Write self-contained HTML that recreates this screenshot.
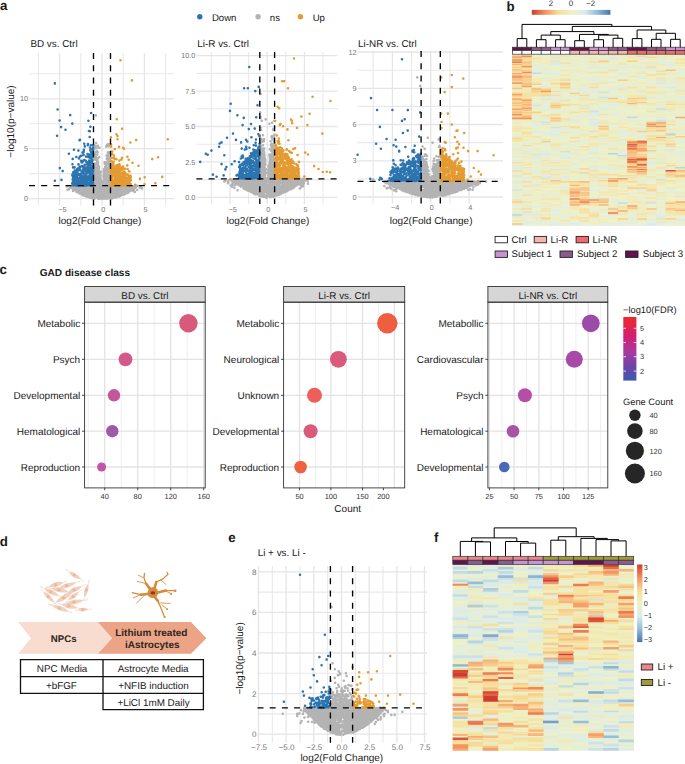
<!DOCTYPE html>
<html><head><meta charset="utf-8"><style>
html,body{margin:0;padding:0;background:#fff;width:685px;height:764px;overflow:hidden}
svg{display:block;font-family:"Liberation Sans", sans-serif;text-rendering:geometricPrecision}
</style></head><body>
<svg width="685" height="764" viewBox="0 0 685 764">
<line x1="38.4" y1="53.1" x2="38.4" y2="205.5" stroke="#e9e9e9" stroke-width="1.1"/>
<line x1="80.8" y1="53.1" x2="80.8" y2="205.5" stroke="#e9e9e9" stroke-width="1.1"/>
<line x1="123.2" y1="53.1" x2="123.2" y2="205.5" stroke="#e9e9e9" stroke-width="1.1"/>
<line x1="165.6" y1="53.1" x2="165.6" y2="205.5" stroke="#e9e9e9" stroke-width="1.1"/>
<line x1="29" y1="173.6" x2="174" y2="173.6" stroke="#e9e9e9" stroke-width="1.1"/>
<line x1="29" y1="123.7" x2="174" y2="123.7" stroke="#e9e9e9" stroke-width="1.1"/>
<line x1="29" y1="73.8" x2="174" y2="73.8" stroke="#e9e9e9" stroke-width="1.1"/>
<line x1="59.6" y1="53.1" x2="59.6" y2="205.5" stroke="#e5e5e5" stroke-width="1.3"/>
<line x1="102" y1="53.1" x2="102" y2="205.5" stroke="#e5e5e5" stroke-width="1.3"/>
<line x1="144.4" y1="53.1" x2="144.4" y2="205.5" stroke="#e5e5e5" stroke-width="1.3"/>
<line x1="29" y1="198.6" x2="174" y2="198.6" stroke="#e5e5e5" stroke-width="1.3"/>
<line x1="29" y1="148.7" x2="174" y2="148.7" stroke="#e5e5e5" stroke-width="1.3"/>
<line x1="29" y1="98.8" x2="174" y2="98.8" stroke="#e5e5e5" stroke-width="1.3"/>
<text x="28" y="201.2" font-size="7.3" text-anchor="end" fill="#777">0</text>
<text x="28" y="151.3" font-size="7.3" text-anchor="end" fill="#777">5</text>
<text x="28" y="101.4" font-size="7.3" text-anchor="end" fill="#777">10</text>
<text x="62.3" y="211.8" font-size="7.3" text-anchor="middle" fill="#777">−5</text>
<text x="103.2" y="211.8" font-size="7.3" text-anchor="middle" fill="#777">0</text>
<text x="145.6" y="211.8" font-size="7.3" text-anchor="middle" fill="#777">5</text>
<path d="M134.7 186.3h0M89.4 187.2h0M73.7 186.5h0M89.3 194.3h0M84.7 190.9h0M137.5 185.8h0M79.7 193.5h0M82.6 190.8h0M126.6 189.5h0M91.2 198.0h0M77.4 191.1h0M101.6 187.9h0M90.5 187.1h0M133.2 187.0h0M107.3 191.7h0M133.9 187.8h0M105.7 193.8h0M94.7 188.0h0M69.5 186.0h0M126.9 188.1h0M84.8 193.7h0M96.9 186.1h0M77.9 190.7h0M127.6 192.0h0M136.0 185.8h0M109.6 196.2h0M124.2 193.1h0M85.8 194.0h0M72.2 187.4h0M116.4 188.6h0M87.0 196.6h0M82.3 186.8h0M80.3 188.3h0M82.4 187.9h0M109.9 186.5h0M75.6 186.7h0M85.5 187.6h0M79.2 187.3h0M129.6 190.5h0M87.3 195.0h0M70.3 186.4h0M90.3 186.2h0M120.0 186.9h0M71.0 187.8h0M82.4 186.1h0M126.6 185.9h0M86.2 194.5h0M92.4 186.7h0M126.8 192.0h0M129.7 191.1h0M131.9 186.2h0M135.2 188.0h0M100.5 195.7h0M93.3 191.2h0M80.3 192.8h0M103.6 194.9h0M123.7 187.4h0M104.7 188.3h0M133.4 189.2h0M88.8 196.2h0M131.7 189.0h0M131.7 189.9h0M78.2 188.4h0M100.2 190.3h0M81.1 186.1h0M91.0 192.4h0M107.7 193.9h0M78.2 186.9h0M87.0 190.9h0M91.2 194.0h0M97.5 188.9h0M115.6 196.8h0M109.0 197.0h0M97.6 186.9h0M89.2 187.6h0M111.3 192.9h0M118.3 188.9h0M128.0 190.2h0M90.5 191.3h0M74.3 187.4h0M131.1 188.8h0M111.2 188.7h0M129.4 189.2h0M85.5 196.1h0M123.8 191.3h0M135.3 187.1h0M75.4 185.7h0M76.8 186.8h0M108.7 197.6h0M120.7 188.3h0M106.1 192.7h0M88.9 193.8h0M121.0 195.5h0M99.8 192.3h0M93.7 187.4h0M93.5 189.9h0M82.2 192.4h0M74.6 186.3h0M95.3 197.3h0M135.9 187.1h0M112.1 191.9h0M80.0 193.5h0M84.1 186.9h0M115.7 195.7h0M116.7 186.4h0M82.6 194.4h0M124.9 187.3h0M78.0 191.4h0M130.9 190.7h0M103.3 186.2h0M85.8 188.7h0M124.3 186.2h0M84.5 189.5h0M106.4 191.1h0M84.4 188.2h0M124.2 187.4h0M127.0 190.2h0M119.0 188.5h0M84.0 188.1h0M127.7 188.0h0M119.8 194.5h0M89.6 192.5h0M117.5 192.0h0M80.6 186.1h0M118.3 193.9h0M122.3 188.7h0M72.5 188.0h0M92.9 193.1h0M132.6 187.9h0M121.1 192.1h0M111.9 194.4h0M132.3 188.1h0M83.7 190.5h0M112.0 186.1h0M111.7 196.7h0M75.2 188.4h0M69.9 187.0h0M94.2 192.5h0M84.3 194.3h0M74.5 189.7h0M119.3 192.0h0M88.9 197.2h0M135.2 185.7h0M128.6 189.6h0M84.6 186.4h0M71.6 186.5h0M119.2 196.6h0M113.6 196.3h0M128.4 191.1h0M108.9 188.1h0M79.2 190.0h0M115.3 188.6h0M128.7 189.8h0M76.3 190.1h0M90.4 195.8h0M84.1 193.7h0M122.7 194.7h0M106.1 191.0h0M133.8 189.1h0M118.0 188.4h0M90.6 187.9h0M99.4 193.8h0M97.5 191.4h0M125.0 188.7h0M80.9 187.8h0M80.5 190.0h0M90.4 193.4h0M73.8 186.0h0M91.1 195.9h0M93.1 192.4h0M106.3 196.7h0M95.1 194.1h0M78.2 189.3h0M95.2 195.0h0M92.3 196.7h0M87.5 190.4h0M99.8 194.6h0M114.0 193.0h0M119.3 186.9h0M116.0 188.8h0M95.2 193.0h0M121.6 194.5h0M107.8 197.7h0M126.0 193.3h0M121.1 190.2h0M128.1 185.6h0M74.0 188.3h0M118.2 186.3h0M86.9 188.4h0M84.6 192.1h0M95.1 198.0h0M124.5 188.6h0M88.6 189.9h0M96.5 189.6h0M115.5 190.0h0M86.0 190.3h0M110.0 189.5h0M69.7 186.6h0M92.9 185.7h0M104.8 192.1h0M101.6 198.6h0M106.5 196.3h0M98.0 198.6h0M120.3 194.1h0M102.9 195.8h0M134.7 186.7h0M100.2 197.4h0M107.7 196.8h0M116.9 193.5h0M120.9 194.2h0M72.9 185.7h0M82.8 195.3h0M92.9 189.3h0M125.0 193.9h0M122.6 191.2h0M85.9 187.4h0M129.7 188.3h0M73.8 190.1h0M78.3 192.6h0M100.7 191.8h0M110.8 186.8h0M76.6 189.9h0M98.1 195.5h0M107.5 190.0h0M111.0 186.0h0M123.2 193.3h0M101.0 195.5h0M115.2 192.9h0M115.9 186.9h0M104.1 195.0h0M103.2 196.9h0M97.3 192.7h0M116.3 196.2h0M81.7 189.1h0M74.9 190.0h0M121.4 191.1h0M119.4 186.3h0M104.2 185.7h0M106.4 192.3h0M81.5 193.1h0M102.6 194.1h0M108.5 187.3h0M75.7 188.8h0M130.1 186.5h0M80.3 188.8h0M130.6 187.6h0M86.6 190.3h0M121.5 187.5h0M78.9 186.3h0M110.3 192.4h0M81.3 191.8h0M130.7 190.9h0M86.6 185.7h0M123.2 186.1h0M88.5 195.9h0M111.3 198.4h0M125.6 188.4h0M104.9 197.8h0M99.0 192.3h0M91.6 186.9h0M110.7 193.3h0M129.3 186.0h0M117.3 196.4h0M85.7 192.6h0M90.0 194.9h0M120.6 189.3h0M109.3 186.1h0M131.7 187.4h0M116.5 189.1h0M82.7 188.7h0M98.5 188.4h0M106.9 190.1h0M117.9 196.1h0M105.6 188.7h0M83.0 193.3h0M97.9 190.2h0M109.4 191.1h0M109.1 194.9h0M112.7 193.6h0M100.4 189.7h0M127.9 189.5h0M128.7 186.8h0M87.1 192.2h0M128.2 187.9h0M86.3 186.2h0M89.2 185.8h0M91.8 186.4h0M96.6 194.3h0M110.2 198.1h0M116.9 195.1h0M122.1 190.3h0M77.8 185.7h0M96.7 196.3h0M83.6 188.9h0M125.5 191.2h0M93.2 198.4h0M106.2 194.1h0M78.9 188.1h0M93.3 186.1h0M76.6 188.6h0M91.6 197.4h0M96.6 188.2h0M112.7 187.4h0M116.4 197.2h0M83.6 192.3h0M97.6 194.8h0M71.7 186.0h0M124.4 192.6h0M93.0 188.3h0M133.2 186.4h0M113.9 194.8h0M86.2 196.5h0M93.1 195.0h0M113.6 189.3h0M124.9 192.0h0M120.4 195.9h0M92.8 198.3h0M115.4 191.2h0M98.8 187.0h0M94.1 190.0h0M130.6 187.5h0M91.8 191.7h0M118.6 191.8h0M73.2 188.9h0M97.1 191.1h0M108.3 196.1h0M116.0 194.7h0M119.4 190.1h0M84.5 195.4h0M102.8 194.7h0M100.9 192.4h0M117.4 186.8h0M127.7 191.3h0M117.7 189.2h0M117.1 190.5h0M114.8 191.5h0M97.5 193.1h0M113.6 194.5h0M114.5 188.3h0M81.0 192.0h0M107.0 186.1h0M91.3 188.6h0M94.9 188.8h0M86.7 196.2h0M122.7 187.7h0M105.0 187.0h0M110.1 190.8h0M97.8 197.2h0M100.9 185.7h0M117.7 194.4h0M116.1 187.3h0M108.4 195.3h0M96.2 197.5h0M92.6 191.7h0M83.6 195.5h0M106.0 197.4h0M116.7 191.6h0M97.2 196.6h0M122.8 189.2h0M87.9 194.3h0M122.0 192.0h0M97.3 190.6h0M115.5 186.4h0M122.7 191.8h0M114.7 195.6h0M103.7 192.6h0M105.2 195.1h0M83.6 186.4h0M118.8 196.1h0M99.0 195.6h0M102.8 189.3h0M119.3 190.1h0M122.2 185.9h0M88.2 187.3h0M128.9 185.7h0M107.4 192.4h0M97.7 192.7h0M100.5 186.7h0M123.5 192.2h0M100.9 189.5h0M126.2 186.9h0M93.5 188.7h0M90.1 197.6h0M91.5 190.7h0M121.5 193.8h0M131.4 186.4h0M78.8 192.3h0M125.9 190.5h0M89.9 190.1h0M114.0 193.4h0M113.5 192.6h0M112.4 189.2h0M103.6 197.6h0M105.7 187.1h0M113.5 189.8h0M95.1 186.2h0M79.4 191.6h0M111.9 193.0h0M119.6 187.6h0M99.0 190.0h0M121.3 186.2h0M81.5 190.5h0M116.8 193.0h0M96.0 191.0h0M118.1 191.7h0M88.1 194.1h0M101.6 186.5h0M91.2 189.5h0M92.6 190.0h0M111.1 194.4h0M107.6 198.6h0M119.4 191.7h0M102.4 197.1h0M94.9 191.9h0M124.5 189.0h0M105.2 196.1h0M111.8 195.3h0M84.4 190.8h0M119.0 195.1h0M98.9 197.9h0M81.9 194.6h0M121.7 193.7h0M87.3 186.8h0M120.0 192.2h0M102.6 198.4h0M101.8 191.1h0M114.9 185.8h0M122.6 186.5h0M110.6 191.2h0M95.2 193.2h0M96.1 195.3h0M124.5 194.5h0M127.5 193.1h0M83.6 191.0h0M76.6 192.0h0M104.5 191.3h0M76.7 186.2h0M103.9 198.6h0M101.9 192.0h0M109.6 186.3h0M127.9 186.5h0M95.8 188.1h0M98.2 197.8h0M102.3 186.5h0M103.5 193.8h0M109.3 189.7h0M93.8 194.1h0M98.7 185.7h0M126.0 191.0h0M80.1 187.0h0M107.2 194.4h0M110.5 194.3h0M100.2 193.9h0M85.5 191.4h0M112.6 187.8h0M93.0 197.3h0M89.4 191.1h0M96.2 190.4h0M87.8 191.1h0M86.6 193.6h0M108.4 192.2h0M113.3 196.7h0M88.3 192.1h0M106.9 186.6h0M87.2 189.1h0M76.8 189.4h0M93.3 195.9h0M103.2 190.8h0M120.4 188.7h0M110.6 195.5h0M105.7 198.5h0M75.4 188.6h0M92.4 194.6h0M96.3 187.4h0M107.4 194.6h0M88.0 187.7h0M114.1 197.1h0M72.8 189.0h0M100.8 190.0h0M123.4 190.7h0M124.7 190.3h0M117.5 193.2h0M101.6 193.3h0M90.1 196.6h0M122.1 188.4h0M92.1 188.5h0M81.3 187.1h0M102.4 195.6h0M89.7 192.2h0M99.1 191.2h0M80.3 191.8h0M82.2 190.9h0M100.5 187.7h0M105.8 186.4h0M98.4 187.7h0M103.9 189.7h0M102.3 185.8h0M88.2 197.0h0M114.5 189.4h0M112.7 190.2h0M113.7 186.3h0M101.5 198.2h0M99.6 185.9h0M112.9 187.7h0M115.3 197.6h0M79.2 188.9h0M98.7 198.7h0M92.6 192.8h0M90.4 189.6h0M94.1 196.1h0M110.5 193.1h0M113.2 194.0h0M100.2 197.9h0M88.1 186.4h0M103.3 187.1h0M94.4 196.5h0M115.2 193.7h0M109.0 190.1h0M99.3 194.6h0M106.4 197.8h0M95.4 186.0h0M97.2 193.1h0M109.7 188.2h0M104.0 193.7h0M103.1 191.4h0M100.9 197.1h0M99.1 196.6h0M110.0 197.3h0M113.9 186.6h0M94.6 198.6h0M95.6 187.2h0M107.8 188.7h0M113.0 197.8h0M112.8 191.5h0M111.1 188.6h0M94.9 186.8h0M105.6 190.6h0M117.2 190.1h0M111.1 190.2h0M87.6 189.0h0M108.3 186.3h0M125.1 186.0h0M88.9 189.3h0M128.3 192.5h0M104.9 195.9h0M106.7 188.7h0M102.8 188.4h0M114.4 190.7h0M76.4 191.8h0M92.1 195.5h0M112.2 198.3h0M111.4 197.2h0M91.4 195.1h0M106.8 187.8h0M104.5 197.0h0M108.0 188.3h0M104.5 190.7h0M84.0 195.2h0M84.4 186.6h0M124.9 194.2h0M112.9 186.8h0M119.6 196.4h0M103.1 187.7h0M107.2 198.6h0M107.6 186.7h0M102.0 190.5h0M119.3 186.4h0M99.8 198.6h0M69.7 188.1h0M137.2 190.0h0M134.8 191.9h0M66.7 186.5h0M140.5 187.0h0M142.1 188.4h0M67.5 189.7h0M134.0 190.1h0M73.1 190.9h0M139.8 187.7h0M68.7 189.5h0M133.5 191.1h0M140.1 187.4h0M67.1 186.1h0M105.2 168.7h0M97.2 182.6h0M109.0 165.6h0M94.2 176.9h0M100.0 183.0h0M95.4 179.6h0M107.7 180.3h0M109.1 179.2h0M105.4 179.8h0M93.8 165.6h0M99.2 157.1h0M107.3 175.5h0M106.9 171.3h0M96.2 184.2h0M107.0 182.3h0M109.7 181.4h0M93.8 184.2h0M96.1 143.1h0M99.0 168.8h0M108.3 161.3h0M105.6 175.3h0M109.7 163.0h0M95.1 168.9h0M99.0 167.0h0M99.2 173.5h0M110.4 157.9h0M103.4 182.1h0M107.7 181.7h0M109.7 145.3h0M96.1 170.0h0M110.1 166.9h0M102.8 183.8h0M109.9 182.5h0M99.4 177.3h0M104.6 181.3h0M109.7 179.5h0M100.7 183.2h0M109.0 179.9h0M95.6 181.7h0M104.7 174.5h0M107.8 152.2h0M106.8 181.4h0M108.3 182.2h0M94.3 165.8h0M99.1 175.4h0M109.6 159.7h0M102.7 181.4h0M106.5 155.8h0M99.1 179.2h0M100.5 171.5h0M108.6 178.5h0M108.1 185.3h0M109.1 177.6h0M106.8 180.3h0M105.9 184.1h0M105.8 180.2h0M94.7 170.2h0M100.8 181.2h0M96.2 177.0h0M94.3 172.4h0M93.9 171.4h0M110.0 171.1h0M94.3 180.0h0M109.4 181.3h0M104.6 185.1h0M99.2 185.0h0M109.8 183.8h0M95.8 180.4h0M104.9 184.2h0M94.7 173.5h0M107.0 163.3h0M97.6 165.4h0M104.6 170.9h0M108.9 182.1h0M96.7 177.6h0M97.9 185.0h0M94.8 184.7h0M95.6 166.5h0M106.0 184.5h0M105.1 177.0h0M109.9 175.6h0M98.3 182.2h0M108.7 174.6h0M97.0 167.8h0M99.7 179.2h0M97.4 177.1h0M102.5 184.3h0M95.6 168.4h0M107.2 158.0h0M97.5 180.2h0M106.0 182.7h0M95.1 153.9h0M102.9 185.3h0M107.9 174.4h0M107.8 152.4h0M100.8 182.1h0M104.7 163.8h0M108.6 163.9h0M106.8 176.8h0M97.7 176.3h0M99.8 174.8h0M96.9 185.0h0M97.7 172.9h0M106.8 169.7h0M106.8 183.7h0M103.6 184.0h0M107.8 168.3h0M100.3 177.6h0M94.1 183.4h0M105.9 162.2h0M110.1 178.5h0M108.6 157.6h0M103.6 174.5h0M94.1 182.1h0M109.3 176.2h0M97.7 158.2h0M97.7 183.8h0M98.6 180.5h0M100.8 179.2h0M109.3 158.4h0M109.4 183.6h0M107.0 174.8h0M110.3 180.3h0M100.3 183.2h0M98.8 181.2h0M108.8 184.4h0M93.7 145.4h0M106.1 178.4h0M103.9 169.4h0M95.8 151.8h0M104.9 179.0h0M107.9 179.8h0M95.5 173.9h0M103.9 180.4h0M94.4 174.6h0M109.5 174.2h0M99.9 178.0h0M105.7 166.0h0M97.6 181.4h0M96.7 179.5h0M96.7 183.8h0M95.6 178.2h0M97.2 154.6h0M106.6 179.3h0M106.1 164.5h0M107.6 174.2h0M94.6 145.5h0M108.0 177.5h0M95.4 164.2h0M93.9 184.4h0M97.2 160.7h0M106.0 176.2h0M96.7 180.5h0M95.8 182.1h0M93.8 179.2h0M108.3 159.4h0M96.3 182.0h0M99.0 182.5h0M95.6 154.5h0M94.0 174.1h0M96.5 165.8h0M98.3 170.5h0M109.0 152.8h0M109.4 170.0h0M97.4 159.2h0M109.7 172.4h0M104.9 178.1h0M96.4 176.5h0M95.9 175.8h0M107.6 163.1h0M93.6 183.0h0M94.0 148.7h0M105.7 173.9h0M110.0 184.6h0M100.9 184.6h0M106.2 175.6h0M94.9 178.5h0M95.9 171.7h0M97.1 177.8h0M110.1 160.4h0M96.3 174.9h0M98.3 174.5h0M104.5 162.3h0M106.2 146.4h0M94.8 181.2h0M107.1 174.1h0M94.4 176.1h0M93.7 146.4h0M104.7 172.6h0M107.8 168.9h0M95.4 184.3h0M107.2 184.4h0M108.6 144.1h0M97.0 167.2h0M106.9 167.6h0M104.4 176.7h0M93.9 157.7h0M108.6 173.1h0M94.7 172.0h0M103.7 171.0h0M97.9 173.3h0M96.9 170.1h0M97.2 172.3h0M109.9 170.8h0M97.0 151.4h0M105.1 169.5h0M103.5 176.6h0M109.5 166.4h0M94.8 158.5h0M100.3 181.8h0M95.7 156.4h0M94.4 168.4h0M108.9 145.3h0M95.1 159.4h0M95.9 169.5h0M97.6 185.5h0M97.0 163.9h0M108.2 183.5h0M110.0 152.2h0M100.0 176.3h0M104.3 173.3h0M98.9 184.0h0M98.9 172.7h0M103.8 178.3h0M104.8 180.3h0M95.2 159.8h0M98.1 147.5h0M94.3 165.2h0M99.9 184.5h0M109.4 174.2h0M97.8 163.9h0M105.8 163.3h0M104.7 175.8h0M97.0 168.9h0M107.6 164.7h0M108.0 160.3h0M100.6 172.5h0M103.7 172.0h0M110.3 163.5h0M105.0 167.0h0M107.9 158.9h0M107.9 154.5h0M108.2 155.5h0M98.1 162.9h0M106.8 164.1h0M94.0 180.8h0M109.9 175.2h0M109.4 164.5h0M105.5 171.8h0M98.9 175.5h0M94.7 163.5h0M108.7 167.9h0M108.4 146.5h0M97.7 152.3h0M108.7 171.4h0M105.1 172.5h0M95.4 165.2h0M98.2 178.4h0M109.9 177.2h0M108.3 170.4h0M94.3 179.3h0M106.8 159.1h0M100.3 180.9h0M98.0 167.5h0M96.9 162.3h0M109.4 162.6h0M95.5 146.1h0M93.7 170.0h0M100.7 175.6h0M109.0 167.2h0M93.8 181.3h0M106.7 170.5h0M96.9 158.0h0M93.9 175.4h0M97.6 161.1h0M95.9 148.2h0M106.9 168.6h0M98.3 179.1h0M107.0 178.7h0M98.9 166.2h0M105.8 181.3h0M95.8 115.4h0M97.8 145.7h0M107.1 144.7h0M99.5 147.7h0" stroke="#b3b3b3" stroke-width="2.6" stroke-linecap="round" fill="none"/>
<path d="M83.4 168.6h0M91.1 152.0h0M85.2 182.2h0M72.9 180.8h0M93.1 182.7h0M72.5 164.2h0M79.3 174.9h0M87.7 183.9h0M83.6 181.6h0M74.5 184.7h0M82.5 172.6h0M83.4 160.6h0M90.9 168.5h0M73.3 184.6h0M86.4 168.3h0M92.7 174.5h0M90.8 154.2h0M83.8 173.3h0M83.3 179.3h0M77.7 177.6h0M74.9 173.7h0M84.0 167.3h0M88.7 172.4h0M90.0 147.5h0M90.6 179.1h0M91.0 174.3h0M85.4 184.4h0M83.1 170.1h0M92.1 170.1h0M82.7 170.9h0M73.3 183.8h0M91.8 171.2h0M92.6 160.2h0M81.9 178.5h0M84.2 184.5h0M88.2 176.7h0M92.0 180.1h0M89.9 131.2h0M79.3 184.7h0M76.3 157.0h0M80.9 176.2h0M92.1 161.2h0M89.4 164.0h0M76.7 181.9h0M88.8 184.4h0M86.1 178.3h0M92.1 173.5h0M83.1 185.4h0M82.8 176.5h0M74.0 173.4h0M87.9 167.8h0M74.6 180.1h0M89.9 182.3h0M81.3 155.8h0M83.4 178.1h0M78.0 180.1h0M88.4 161.8h0M89.9 185.2h0M83.7 184.9h0M79.4 168.0h0M86.7 176.4h0M77.6 178.4h0M87.9 169.3h0M92.4 153.6h0M87.0 178.4h0M86.9 167.7h0M73.3 182.1h0M77.3 178.6h0M86.7 184.9h0M83.0 180.0h0M92.7 181.9h0M73.4 185.4h0M89.6 157.6h0M79.0 169.2h0M92.1 162.9h0M92.1 166.2h0M82.4 185.4h0M90.2 164.8h0M90.4 181.8h0M90.9 172.2h0M92.6 185.4h0M84.3 183.7h0M80.2 170.0h0M84.8 146.4h0M75.2 172.2h0M83.2 171.7h0M74.9 175.3h0M77.5 183.1h0M86.1 156.6h0M89.7 170.4h0M72.9 176.6h0M90.4 162.4h0M87.9 171.1h0M91.6 174.9h0M81.6 176.6h0M85.8 160.8h0M84.8 164.7h0M85.2 173.5h0M83.8 175.8h0M82.3 162.5h0M75.2 181.4h0M81.6 162.2h0M88.4 184.9h0M78.4 174.4h0M86.1 181.1h0M73.1 181.2h0M89.7 161.3h0M72.7 158.9h0M93.1 155.4h0M92.3 177.7h0M87.2 182.0h0M89.9 185.4h0M79.5 182.1h0M77.2 184.6h0M93.0 178.9h0M78.0 183.1h0M85.4 169.0h0M77.0 172.2h0M88.2 156.9h0M85.8 182.3h0M92.9 184.2h0M91.3 175.6h0M90.0 173.8h0M86.8 171.2h0M91.7 185.0h0M79.8 181.4h0M92.3 168.8h0M80.9 182.7h0M90.9 145.3h0M78.8 183.6h0M89.2 167.9h0M77.2 170.7h0M92.4 184.9h0M77.5 174.8h0M88.6 164.9h0M93.1 167.4h0M86.2 171.5h0M91.0 160.6h0M89.7 177.0h0M84.5 166.7h0M89.7 137.0h0M86.0 179.6h0M75.6 178.1h0M78.4 150.6h0M92.6 167.3h0M91.2 177.4h0M82.3 181.1h0M80.2 176.7h0M74.8 184.0h0M78.9 158.4h0M74.1 178.3h0M86.3 174.2h0M92.3 160.0h0M73.8 180.9h0M85.3 170.2h0M92.7 176.9h0M89.1 162.0h0M75.1 179.5h0M91.6 183.8h0M77.1 177.2h0M87.8 145.2h0M88.0 162.4h0M79.5 178.4h0M90.2 150.3h0M89.4 178.5h0M84.2 160.1h0M89.8 168.8h0M84.3 175.9h0M79.7 166.8h0M91.0 156.6h0M72.3 175.3h0M77.5 183.7h0M92.3 175.5h0M89.1 154.8h0M87.1 182.9h0M87.3 184.0h0M85.5 168.1h0M89.1 183.0h0M75.8 182.8h0M90.3 169.1h0M73.1 167.4h0M86.4 162.2h0M92.7 172.6h0M91.6 170.9h0M91.1 113.0h0M93.1 174.2h0M91.3 185.4h0M89.6 174.9h0M74.5 182.3h0M87.5 166.2h0M78.6 173.9h0M87.3 164.4h0M84.2 167.8h0M84.4 170.4h0M91.4 179.6h0M74.4 171.9h0M84.6 179.6h0M73.3 174.5h0M79.9 169.2h0M82.4 177.4h0M92.0 182.6h0M81.5 184.7h0M76.0 180.5h0M93.0 171.0h0M87.3 179.0h0M82.3 184.5h0M91.0 157.9h0M73.0 177.9h0M88.9 180.1h0M78.4 185.4h0M81.6 172.1h0M74.5 175.7h0M72.5 174.2h0M77.9 168.5h0M93.1 150.1h0M84.2 185.4h0M76.8 185.4h0M75.6 174.5h0M74.8 170.5h0M84.6 165.7h0M93.0 177.7h0M91.7 169.8h0M92.0 152.1h0M73.5 179.7h0M75.9 177.3h0M76.3 175.9h0M72.7 179.3h0M73.3 172.2h0M92.9 156.5h0M82.9 178.6h0M93.1 171.3h0M82.4 166.5h0M90.2 178.6h0M90.7 167.2h0M83.6 154.9h0M82.4 182.4h0M81.9 166.1h0M91.2 149.1h0M93.1 145.1h0M87.5 182.6h0M73.7 177.1h0M79.2 174.2h0M93.0 169.6h0M86.5 185.4h0M87.6 154.0h0M93.3 185.4h0M78.1 183.2h0M74.6 177.3h0M92.5 163.6h0M79.8 185.4h0M83.8 151.7h0M86.9 180.9h0M79.9 156.6h0M77.8 185.3h0M87.3 172.7h0M89.3 176.5h0M79.5 140.3h0M90.2 184.2h0M91.1 181.2h0M83.9 149.9h0M84.1 182.4h0M91.4 167.5h0M93.2 148.0h0M85.5 174.7h0M74.8 178.6h0M91.0 182.7h0M93.1 156.5h0M88.0 144.1h0M87.4 163.2h0M90.2 163.7h0M78.5 170.4h0M76.0 185.2h0M77.0 169.4h0M88.5 178.1h0M83.5 183.3h0M89.5 183.8h0M76.0 185.4h0M81.7 179.1h0M80.8 183.1h0M93.1 147.6h0M84.0 169.7h0M92.5 179.8h0M89.0 169.3h0M92.9 157.3h0M89.2 160.6h0M85.5 185.4h0M77.0 175.5h0M83.1 173.2h0M89.1 179.4h0M80.0 167.5h0M80.7 179.6h0M77.4 180.6h0M80.5 174.2h0M61.5 179.9h0M82.5 179.1h0M88.6 155.7h0M57.6 109.5h0M82.6 152.6h0M89.6 172.0h0M74.6 167.4h0M89.3 167.2h0M85.4 177.2h0M81.0 160.7h0M81.8 181.3h0M72.2 183.4h0M86.4 174.2h0M79.9 175.3h0M78.5 164.4h0M81.2 175.0h0M54.9 83.4h0M70.2 115.1h0M59.6 120.5h0M72.3 123.6h0M88.4 120.8h0M90.4 126.7h0M88.9 131.0h0M61.1 127.1h0M65.5 129.7h0M57.1 135.7h0M59.8 168.1h0M62.7 171.1h0M54.9 180.7h0M80.0 139.7h0M84.2 143.7h0M74.0 149.7h0M68.9 153.7h0" stroke="#2c74b0" stroke-width="2.6" stroke-linecap="round" fill="none"/>
<path d="M119.5 185.3h0M111.9 158.0h0M129.5 171.5h0M121.4 168.2h0M122.3 176.8h0M117.6 170.8h0M113.5 182.8h0M112.1 175.9h0M119.3 179.2h0M119.0 164.8h0M125.5 179.2h0M113.9 180.2h0M122.0 182.0h0M113.0 168.6h0M116.5 169.9h0M124.6 175.2h0M115.7 185.1h0M129.5 176.1h0M114.0 183.7h0M120.8 176.9h0M122.9 181.8h0M117.4 180.2h0M119.5 179.2h0M119.6 185.4h0M117.6 165.1h0M124.2 177.4h0M126.1 183.3h0M113.0 175.8h0M122.7 180.4h0M111.2 166.7h0M127.6 169.0h0M118.7 172.7h0M110.9 180.1h0M130.0 183.6h0M129.5 185.3h0M113.2 171.3h0M115.1 183.7h0M130.2 179.7h0M116.6 182.5h0M119.0 173.7h0M120.9 176.2h0M113.8 166.7h0M124.2 178.2h0M120.3 175.7h0M117.3 168.6h0M128.7 159.7h0M121.5 183.3h0M112.4 184.1h0M122.7 183.8h0M114.2 185.0h0M112.3 168.2h0M119.0 171.7h0M124.2 174.2h0M117.0 167.2h0M123.5 182.4h0M112.1 180.2h0M116.2 173.0h0M117.2 185.3h0M111.9 185.1h0M113.0 164.5h0M130.8 184.0h0M112.9 185.3h0M114.7 176.3h0M129.0 183.3h0M124.2 184.4h0M130.3 177.4h0M116.9 170.7h0M114.8 149.0h0M115.7 173.8h0M125.7 183.8h0M112.3 172.7h0M129.2 176.0h0M128.0 183.9h0M111.3 184.8h0M125.3 182.0h0M125.4 175.3h0M112.5 174.5h0M115.0 175.9h0M125.8 182.6h0M112.0 178.9h0M129.6 178.0h0M114.2 166.4h0M117.8 183.2h0M124.5 179.3h0M118.1 177.6h0M125.4 180.7h0M123.1 166.7h0M122.9 178.0h0M125.3 175.6h0M115.7 179.6h0M120.8 169.1h0M115.5 178.7h0M116.2 175.1h0M111.1 176.7h0M116.1 177.1h0M119.6 175.0h0M112.7 162.7h0M111.2 181.0h0M126.3 185.4h0M117.1 178.7h0M116.4 185.4h0M125.0 168.8h0M128.8 185.4h0M114.0 157.7h0M116.5 184.8h0M117.1 168.0h0M119.0 183.9h0M122.0 184.5h0M115.3 181.2h0M121.1 178.2h0M111.1 161.1h0M130.7 185.2h0M114.5 166.8h0M111.0 185.4h0M130.6 180.7h0M114.2 169.4h0M112.0 182.8h0M126.3 177.6h0M114.0 172.4h0M128.6 175.4h0M123.6 178.8h0M111.8 161.3h0M112.1 178.2h0M113.3 185.4h0M117.4 178.2h0M126.5 183.1h0M123.2 184.9h0M119.4 160.6h0M127.4 179.4h0M119.1 146.9h0M116.7 183.3h0M130.8 177.4h0M111.1 144.9h0M126.6 180.3h0M114.6 158.9h0M115.1 177.2h0M124.7 180.5h0M117.5 169.8h0M119.2 184.8h0M114.9 175.0h0M122.0 157.8h0M112.6 174.1h0M127.5 174.6h0M125.3 173.0h0M125.2 173.3h0M121.1 182.2h0M128.5 180.2h0M117.4 179.5h0M127.1 184.4h0M119.9 182.5h0M129.0 171.3h0M127.3 165.4h0M112.3 170.6h0M121.6 173.4h0M114.8 168.5h0M121.7 185.4h0M114.9 170.0h0M118.4 175.5h0M126.3 185.1h0M121.9 170.1h0M114.8 179.2h0M112.3 177.5h0M120.4 172.8h0M121.4 159.5h0M119.5 173.4h0M119.5 181.6h0M115.4 182.3h0M115.6 175.0h0M116.5 165.8h0M118.9 176.7h0M124.7 169.3h0M120.4 178.6h0M121.6 184.0h0M122.9 185.4h0M125.3 176.9h0M112.6 164.2h0M116.6 165.2h0M113.7 166.3h0M117.5 172.0h0M111.0 182.1h0M115.9 171.5h0M114.0 181.7h0M128.5 182.4h0M124.1 184.0h0M128.5 178.8h0M116.4 134.3h0M123.2 147.8h0M110.9 164.8h0M123.3 177.0h0M110.7 166.3h0M113.7 161.8h0M122.8 174.3h0M126.6 177.8h0M115.2 169.5h0M119.2 175.1h0M119.7 165.8h0M130.5 175.9h0M121.7 180.3h0M120.3 176.6h0M119.0 180.3h0M130.7 179.7h0M121.5 185.2h0M111.1 146.8h0M120.2 169.2h0M110.9 170.3h0M128.2 178.6h0M113.8 155.6h0M123.2 176.3h0M128.5 177.3h0M122.6 166.6h0M112.2 167.1h0M124.5 182.2h0M123.3 172.7h0M122.5 179.0h0M120.6 180.6h0M118.8 168.7h0M111.3 173.6h0M130.3 180.6h0M112.2 151.5h0M117.1 179.6h0M118.1 181.5h0M111.1 173.2h0M123.4 171.8h0M120.4 170.2h0M110.9 178.8h0M118.5 166.8h0M122.3 167.8h0M118.5 177.8h0M111.6 168.8h0M113.2 175.3h0M116.5 173.5h0M129.5 181.2h0M122.4 183.0h0M120.7 178.9h0M129.9 185.4h0M111.0 154.4h0M119.0 185.4h0M123.3 168.4h0M112.5 169.0h0M126.8 178.9h0M111.0 171.5h0M117.4 165.9h0M113.4 164.1h0M124.8 172.4h0M125.4 178.4h0M117.6 185.4h0M119.4 164.4h0M120.6 167.7h0M117.6 167.7h0M117.0 180.1h0M110.9 137.3h0M117.0 181.8h0M113.3 184.2h0M113.0 181.6h0M127.9 182.4h0M112.2 153.9h0M114.5 185.4h0M162.2 176.9h0M155.3 183.3h0M116.5 159.2h0M135.2 184.8h0M144.7 177.2h0M152.2 159.1h0M139.9 178.9h0M110.9 144.4h0M124.6 175.9h0M120.5 60.2h0M131.9 80.4h0M116.8 119.3h0M122.0 128.7h0M117.5 136.1h0M117.5 139.2h0M130.4 142.5h0M136.2 140.1h0M167.8 139.2h0M158.1 157.2h0M144.6 184.3h0M138.5 165.7h0M132.5 162.7h0M127.4 156.7h0M124.0 148.7h0" stroke="#e39a31" stroke-width="2.6" stroke-linecap="round" fill="none"/>
<line x1="93.5" y1="53.1" x2="93.5" y2="205.5" stroke="#000" stroke-width="1.35" stroke-dasharray="6 6.2"/>
<line x1="110.5" y1="53.1" x2="110.5" y2="205.5" stroke="#000" stroke-width="1.35" stroke-dasharray="6 6.2"/>
<line x1="29" y1="185.6" x2="170" y2="185.6" stroke="#000" stroke-width="1.35" stroke-dasharray="6 6.2"/>
<text x="30.4" y="47" font-size="9.9" fill="#1a1a1a">BD vs. Ctrl</text>
<text x="100" y="223.7" font-size="10" text-anchor="middle" fill="#1a1a1a">log2(Fold Change)</text>
<text x="0" y="0" font-size="10" text-anchor="middle" fill="#1a1a1a" transform="translate(14 121.5) rotate(-90)">−log10(p−value)</text>
<line x1="211.4" y1="52" x2="211.4" y2="204" stroke="#e9e9e9" stroke-width="1.1"/>
<line x1="248.6" y1="52" x2="248.6" y2="204" stroke="#e9e9e9" stroke-width="1.1"/>
<line x1="285.8" y1="52" x2="285.8" y2="204" stroke="#e9e9e9" stroke-width="1.1"/>
<line x1="323" y1="52" x2="323" y2="204" stroke="#e9e9e9" stroke-width="1.1"/>
<line x1="196.4" y1="179.6" x2="337.7" y2="179.6" stroke="#e9e9e9" stroke-width="1.1"/>
<line x1="196.4" y1="144.2" x2="337.7" y2="144.2" stroke="#e9e9e9" stroke-width="1.1"/>
<line x1="196.4" y1="108.8" x2="337.7" y2="108.8" stroke="#e9e9e9" stroke-width="1.1"/>
<line x1="196.4" y1="73.4" x2="337.7" y2="73.4" stroke="#e9e9e9" stroke-width="1.1"/>
<line x1="230" y1="52" x2="230" y2="204" stroke="#e5e5e5" stroke-width="1.3"/>
<line x1="267.2" y1="52" x2="267.2" y2="204" stroke="#e5e5e5" stroke-width="1.3"/>
<line x1="304.4" y1="52" x2="304.4" y2="204" stroke="#e5e5e5" stroke-width="1.3"/>
<line x1="196.4" y1="197.3" x2="337.7" y2="197.3" stroke="#e5e5e5" stroke-width="1.3"/>
<line x1="196.4" y1="161.9" x2="337.7" y2="161.9" stroke="#e5e5e5" stroke-width="1.3"/>
<line x1="196.4" y1="126.5" x2="337.7" y2="126.5" stroke="#e5e5e5" stroke-width="1.3"/>
<line x1="196.4" y1="91.1" x2="337.7" y2="91.1" stroke="#e5e5e5" stroke-width="1.3"/>
<line x1="196.4" y1="55.7" x2="337.7" y2="55.7" stroke="#e5e5e5" stroke-width="1.3"/>
<text x="195.4" y="199.9" font-size="7.3" text-anchor="end" fill="#777">0.0</text>
<text x="195.4" y="164.5" font-size="7.3" text-anchor="end" fill="#777">2.5</text>
<text x="195.4" y="129.1" font-size="7.3" text-anchor="end" fill="#777">5.0</text>
<text x="195.4" y="93.7" font-size="7.3" text-anchor="end" fill="#777">7.5</text>
<text x="195.4" y="58.3" font-size="7.3" text-anchor="end" fill="#777">10.0</text>
<text x="232.7" y="212" font-size="7.3" text-anchor="middle" fill="#777">−5</text>
<text x="268.4" y="212" font-size="7.3" text-anchor="middle" fill="#777">0</text>
<text x="305.6" y="212" font-size="7.3" text-anchor="middle" fill="#777">5</text>
<path d="M256.7 184.9h0M272.1 183.2h0M241.5 180.7h0M238.3 180.5h0M254.6 185.4h0M286.3 184.9h0M299.9 179.2h0M269.2 180.7h0M306.6 179.1h0M306.0 179.9h0M243.8 179.7h0M290.1 180.4h0M301.0 180.6h0M289.8 181.1h0M251.5 191.4h0M286.3 180.2h0M232.5 180.6h0M303.4 180.9h0M272.1 185.8h0M288.4 185.5h0M236.4 183.0h0M297.4 182.9h0M292.8 183.4h0M283.9 185.4h0M242.3 184.7h0M293.5 179.0h0M268.0 195.7h0M244.5 184.2h0M304.5 180.9h0M281.8 187.9h0M271.7 193.4h0M298.5 179.2h0M304.3 179.4h0M253.6 180.9h0M297.2 180.4h0M291.5 186.3h0M255.3 184.3h0M257.1 193.1h0M243.4 182.1h0M299.6 183.3h0M231.0 179.9h0M300.3 180.6h0M246.8 184.2h0M274.0 179.5h0M295.9 180.6h0M265.2 186.1h0M303.1 179.3h0M233.5 181.8h0M235.3 182.9h0M297.4 184.4h0M262.3 191.4h0M230.3 179.0h0M246.8 181.2h0M245.1 180.2h0M276.8 181.9h0M265.4 192.1h0M277.4 192.7h0M287.4 179.9h0M263.2 180.4h0M231.8 179.5h0M283.1 183.0h0M296.1 179.5h0M292.2 179.4h0M303.8 181.1h0M259.0 195.5h0M305.7 179.4h0M257.0 179.6h0M291.1 180.7h0M268.3 192.6h0M251.9 188.1h0M245.4 179.5h0M278.6 179.4h0M302.9 181.7h0M283.4 181.7h0M255.1 179.4h0M295.1 183.0h0M295.4 183.3h0M254.3 184.6h0M248.7 187.7h0M290.5 187.8h0M237.0 179.2h0M243.5 183.8h0M239.3 180.3h0M279.0 185.2h0M257.5 189.7h0M289.6 189.4h0M258.2 192.8h0M295.1 184.9h0M240.5 183.5h0M288.3 188.7h0M247.3 188.8h0M294.3 181.2h0M302.8 178.9h0M249.7 185.6h0M261.4 189.8h0M290.2 182.5h0M294.3 187.2h0M237.7 182.7h0M278.4 187.3h0M272.9 187.7h0M304.2 181.1h0M239.7 182.2h0M301.7 179.6h0M234.4 182.4h0M238.6 181.6h0M248.8 183.9h0M278.1 194.9h0M255.3 189.6h0M251.7 188.7h0M234.1 179.7h0M261.4 186.7h0M235.7 181.8h0M284.9 185.0h0M298.9 182.1h0M279.5 180.3h0M277.3 189.8h0M278.0 190.4h0M260.2 179.1h0M237.9 184.5h0M243.0 181.3h0M287.0 189.2h0M247.1 186.8h0M247.2 188.6h0M276.3 181.7h0M265.3 188.0h0M288.3 179.9h0M277.3 186.9h0M290.2 184.2h0M258.1 180.5h0M265.2 191.0h0M268.9 179.1h0M264.7 179.0h0M230.8 179.8h0M301.4 181.4h0M256.9 180.5h0M244.2 182.1h0M287.3 186.9h0M243.8 185.6h0M241.2 181.0h0M295.4 185.6h0M278.8 181.3h0M281.3 179.6h0M297.9 180.6h0M275.3 186.0h0M280.9 191.8h0M295.7 184.4h0M289.7 182.9h0M291.2 182.3h0M263.5 180.7h0M274.7 181.2h0M293.7 181.1h0M282.3 192.6h0M257.7 186.9h0M245.7 186.8h0M280.0 186.2h0M270.8 192.8h0M280.5 180.3h0M245.8 188.4h0M286.5 188.7h0M258.4 182.7h0M242.7 184.8h0M290.4 184.6h0M279.3 187.4h0M279.4 187.6h0M247.8 184.2h0M242.5 186.5h0M258.1 179.3h0M247.1 180.9h0M293.2 182.2h0M283.8 190.3h0M294.0 184.6h0M298.7 184.5h0M297.0 179.5h0M279.6 192.2h0M237.1 180.9h0M246.3 179.1h0M265.5 195.8h0M281.7 182.0h0M250.9 192.0h0M262.7 195.1h0M250.3 184.8h0M294.7 185.6h0M260.1 180.5h0M241.4 183.1h0M298.5 183.0h0M259.3 181.0h0M242.6 185.8h0M252.4 179.9h0M266.9 186.8h0M254.0 187.1h0M244.0 184.3h0M241.5 179.4h0M271.0 190.3h0M240.3 184.5h0M247.5 190.4h0M293.4 184.2h0M289.5 186.7h0M259.6 195.9h0M242.3 181.2h0M232.2 181.1h0M270.7 186.3h0M282.0 191.2h0M296.4 182.8h0M242.6 180.2h0M251.4 186.8h0M233.5 180.5h0M250.3 190.5h0M288.1 179.4h0M277.3 185.0h0M283.1 190.5h0M284.7 181.5h0M288.0 188.3h0M255.1 183.9h0M282.4 188.5h0M300.4 181.3h0M256.0 180.5h0M236.6 181.1h0M299.2 181.9h0M272.3 183.4h0M260.4 195.7h0M259.9 193.3h0M251.3 188.9h0M242.1 182.9h0M257.2 182.4h0M250.0 189.3h0M291.1 179.8h0M241.1 180.6h0M243.7 181.9h0M294.9 180.5h0M288.7 181.2h0M246.2 186.5h0M301.4 182.8h0M250.3 183.6h0M245.6 185.2h0M262.7 193.4h0M236.5 179.9h0M296.9 181.5h0M258.0 187.0h0M250.0 182.7h0M235.4 179.7h0M294.1 187.4h0M264.1 192.1h0M248.9 186.6h0M253.0 191.8h0M258.3 194.5h0M264.3 196.3h0M279.1 182.6h0M284.6 186.9h0M273.1 188.9h0M252.8 192.3h0M259.0 190.8h0M282.9 185.4h0M271.8 179.0h0M289.6 186.4h0M247.6 182.2h0M239.7 183.9h0M284.1 184.6h0M238.7 184.2h0M271.0 182.9h0M258.7 185.8h0M271.2 189.7h0M286.2 186.2h0M234.4 180.1h0M290.3 179.3h0M237.0 183.9h0M283.7 190.9h0M259.9 186.3h0M279.8 193.1h0M296.2 181.7h0M273.9 187.3h0M296.7 184.0h0M298.4 182.0h0M286.4 183.8h0M269.9 183.2h0M287.4 188.5h0M298.3 183.3h0M291.5 188.1h0M269.8 182.2h0M267.8 195.1h0M272.9 181.4h0M249.7 190.1h0M258.3 193.7h0M268.2 180.6h0M259.5 194.4h0M282.2 189.6h0M303.0 180.7h0M238.5 184.8h0M265.0 187.0h0M295.0 179.5h0M287.6 184.1h0M249.3 185.2h0M262.5 179.8h0M300.4 182.8h0M278.2 193.0h0M277.5 180.8h0M262.0 185.8h0M260.9 186.2h0M275.3 186.9h0M258.2 189.7h0M292.1 186.2h0M276.1 191.6h0M249.2 180.9h0M293.5 186.3h0M265.0 190.8h0M272.1 187.7h0M285.7 181.6h0M246.2 185.7h0M297.9 184.5h0M290.4 181.9h0M234.1 181.8h0M253.2 180.0h0M278.6 183.7h0M243.4 186.7h0M232.8 179.8h0M285.3 188.5h0M299.3 180.7h0M283.6 183.0h0M264.1 188.2h0M244.8 183.7h0M256.2 192.4h0M292.8 186.7h0M254.3 189.3h0M238.8 182.4h0M263.5 185.4h0M274.6 196.1h0M248.1 180.0h0M279.0 191.3h0M254.5 179.3h0M265.5 181.4h0M274.6 189.9h0M269.2 182.0h0M284.5 183.9h0M237.3 179.4h0M246.7 180.4h0M264.0 183.9h0M286.8 181.0h0M266.8 196.4h0M271.9 194.8h0M235.8 179.9h0M273.2 184.7h0M255.2 187.6h0M278.8 189.4h0M285.9 191.5h0M285.6 188.1h0M300.4 183.6h0M253.1 187.3h0M275.6 194.4h0M287.4 184.9h0M275.6 189.6h0M258.6 185.0h0M276.6 192.0h0M280.5 183.4h0M256.5 183.7h0M287.8 184.9h0M250.8 191.6h0M240.7 179.6h0M280.1 193.6h0M240.8 186.6h0M248.3 190.6h0M246.5 189.7h0M270.5 186.5h0M270.3 189.1h0M276.1 193.4h0M282.7 183.2h0M266.0 189.1h0M255.1 180.9h0M281.8 186.0h0M253.9 184.2h0M292.9 182.0h0M259.8 179.0h0M261.5 196.4h0M265.8 184.4h0M238.2 179.3h0M245.6 181.1h0M286.4 186.5h0M284.2 184.2h0M249.7 190.9h0M249.7 188.0h0M253.4 189.9h0M240.2 181.7h0M275.2 182.2h0M255.8 194.4h0M266.1 196.6h0M247.4 181.6h0M270.3 197.3h0M248.7 182.3h0M239.6 185.4h0M253.9 193.6h0M267.8 196.0h0M272.9 179.2h0M289.4 188.6h0M251.1 183.1h0M277.6 191.5h0M296.5 185.5h0M256.2 193.7h0M272.3 180.0h0M269.7 192.5h0M272.1 181.6h0M237.3 183.4h0M251.8 181.7h0M280.9 181.6h0M279.2 181.7h0M242.2 185.5h0M259.3 192.1h0M289.4 179.2h0M251.9 185.0h0M254.8 186.7h0M282.0 183.8h0M289.3 185.3h0M257.3 187.7h0M250.7 186.1h0M261.7 183.9h0M286.3 182.7h0M261.4 180.5h0M252.8 183.5h0M253.4 188.5h0M251.3 181.3h0M253.5 193.3h0M283.4 188.9h0M264.1 181.8h0M277.3 189.2h0M256.2 188.3h0M269.2 193.3h0M284.1 187.3h0M260.2 180.7h0M299.2 179.8h0M273.0 196.0h0M264.4 191.2h0M280.8 188.0h0M291.0 189.1h0M293.2 180.3h0M273.7 184.2h0M256.3 189.9h0M284.4 191.9h0M243.2 179.2h0M256.0 179.7h0M244.7 187.3h0M273.8 180.2h0M254.8 191.1h0M248.7 179.0h0M281.9 189.6h0M263.1 187.7h0M254.7 192.2h0M290.1 186.9h0M286.7 182.3h0M279.8 183.4h0M274.7 192.6h0M277.1 179.6h0M269.2 189.9h0M283.4 180.7h0M242.5 183.9h0M260.3 181.5h0M252.7 182.7h0M245.2 186.0h0M276.7 184.2h0M257.9 181.3h0M288.1 182.8h0M273.4 182.7h0M295.3 184.2h0M292.2 180.4h0M280.1 189.0h0M272.4 194.5h0M243.6 188.4h0M289.9 189.5h0M254.8 193.6h0M248.7 188.8h0M263.6 197.0h0M259.9 183.5h0M244.1 188.3h0M291.8 181.4h0M241.1 184.9h0M240.8 185.5h0M251.4 190.6h0M261.8 188.0h0M277.9 191.5h0M262.1 195.2h0M253.5 185.0h0M248.9 185.5h0M276.4 187.3h0M254.4 191.4h0M239.4 179.7h0M250.4 179.9h0M253.8 189.8h0M271.2 195.7h0M286.8 179.8h0M235.9 183.4h0M278.6 185.8h0M274.5 187.6h0M270.1 196.0h0M275.9 190.3h0M256.5 181.6h0M292.4 182.3h0M237.6 181.5h0M279.2 185.4h0M273.3 193.4h0M268.3 189.7h0M253.2 186.4h0M263.7 193.5h0M291.0 183.9h0M287.8 190.5h0M274.0 190.4h0M262.1 184.7h0M253.9 188.4h0M274.6 183.9h0M261.7 181.8h0M249.4 181.8h0M261.1 183.0h0M257.5 192.0h0M281.4 189.8h0M279.1 194.8h0M261.0 193.3h0M286.9 191.2h0M282.7 179.3h0M261.8 195.6h0M283.1 191.0h0M262.8 181.4h0M248.0 179.3h0M292.4 185.2h0M273.8 185.4h0M276.4 178.9h0M262.7 190.5h0M274.0 191.8h0M286.2 179.4h0M277.1 194.5h0M268.2 193.9h0M246.7 184.8h0M256.6 189.1h0M249.7 183.8h0M278.4 188.3h0M280.9 182.1h0M269.2 179.7h0M243.8 180.0h0M281.4 182.4h0M247.5 185.9h0M256.0 191.1h0M285.2 182.7h0M250.9 187.2h0M249.2 187.3h0M271.4 180.8h0M287.8 183.7h0M262.8 189.6h0M259.5 189.6h0M284.9 192.0h0M257.2 190.8h0M266.1 195.6h0M272.4 191.3h0M276.2 180.2h0M275.3 191.0h0M268.8 186.4h0M271.1 188.6h0M277.9 180.4h0M249.1 181.8h0M282.1 192.0h0M285.9 190.4h0M252.0 179.5h0M302.5 182.3h0M273.6 196.3h0M254.8 186.0h0M254.2 192.1h0M283.2 181.6h0M281.0 189.8h0M273.6 195.1h0M282.9 179.9h0M276.3 183.7h0M254.4 182.3h0M256.6 186.6h0M246.3 182.7h0M285.1 190.5h0M262.2 193.0h0M245.8 183.1h0M274.2 184.6h0M267.7 180.9h0M249.3 179.2h0M237.0 184.3h0M284.7 186.3h0M277.4 186.4h0M271.4 192.2h0M269.0 184.8h0M291.1 186.8h0M258.2 188.3h0M260.6 191.3h0M261.8 182.8h0M251.8 182.7h0M279.5 178.9h0M259.1 190.5h0M267.4 192.9h0M279.9 190.1h0M257.9 194.2h0M257.0 183.3h0M260.7 187.4h0M266.3 179.6h0M271.1 191.0h0M265.9 182.2h0M278.4 182.9h0M284.6 180.8h0M253.5 189.1h0M262.7 184.6h0M274.7 179.7h0M280.8 186.8h0M265.8 192.2h0M275.7 182.6h0M276.1 188.0h0M268.7 190.0h0M257.8 185.5h0M281.2 193.7h0M263.3 186.4h0M264.1 189.2h0M254.4 182.0h0M274.9 194.6h0M291.5 184.7h0M261.4 193.7h0M269.4 189.5h0M259.1 182.6h0M259.5 188.2h0M259.3 184.9h0M272.3 183.1h0M261.3 189.3h0M275.6 185.8h0M278.6 193.8h0M283.3 188.4h0M285.2 189.3h0M271.4 182.7h0M246.5 187.7h0M261.1 184.6h0M267.5 185.6h0M290.2 186.3h0M273.2 196.8h0M265.2 182.7h0M258.6 191.1h0M287.6 190.4h0M261.2 188.8h0M273.5 181.2h0M250.4 188.3h0M280.0 194.3h0M257.5 191.6h0M255.6 189.9h0M262.2 179.7h0M251.1 179.3h0M268.1 182.2h0M248.7 184.4h0M260.8 189.9h0M280.3 192.8h0M264.1 195.1h0M233.7 182.1h0M283.0 186.5h0M269.8 186.8h0M292.7 188.2h0M271.1 194.9h0M260.8 188.4h0M256.6 185.7h0M272.1 196.8h0M251.9 183.7h0M263.6 185.2h0M269.1 194.9h0M266.2 183.3h0M245.3 188.7h0M266.4 181.7h0M283.6 192.6h0M263.9 186.8h0M252.2 186.0h0M255.0 182.4h0M271.7 187.3h0M259.9 191.6h0M268.1 185.0h0M271.0 184.5h0M264.3 190.4h0M263.0 196.7h0M269.2 188.3h0M247.8 184.3h0M266.6 198.0h0M270.7 193.9h0M259.9 186.7h0M271.4 190.2h0M273.2 190.1h0M270.2 183.5h0M276.5 195.5h0M266.7 187.8h0M275.0 180.0h0M275.5 185.3h0M263.5 183.0h0M274.0 192.6h0M274.7 189.2h0M263.3 190.9h0M262.9 182.2h0M271.8 191.5h0M277.5 182.6h0M288.8 180.7h0M269.8 197.0h0M255.5 194.4h0M284.7 179.8h0M273.5 196.7h0M255.7 181.9h0M270.6 180.2h0M265.6 197.1h0M267.7 191.6h0M244.5 188.9h0M279.3 189.5h0M269.1 186.1h0M283.8 179.5h0M258.1 183.9h0M266.5 180.7h0M258.7 181.1h0M267.3 190.0h0M267.1 193.6h0M232.4 184.1h0M301.0 185.3h0M228.6 180.2h0M237.5 190.3h0M232.6 183.0h0M234.4 188.0h0M308.0 183.8h0M228.2 181.9h0M235.0 185.2h0M225.5 180.7h0M301.1 187.2h0M228.1 183.2h0M232.1 186.9h0M307.7 181.2h0M299.8 188.5h0M230.8 185.5h0M303.2 186.3h0M233.1 184.9h0M302.9 183.6h0M224.2 181.5h0M303.1 184.7h0M303.9 183.1h0M274.3 163.0h0M262.7 170.2h0M274.3 169.7h0M272.2 173.3h0M262.2 173.6h0M271.5 175.7h0M270.0 173.0h0M262.1 160.8h0M272.3 158.7h0M268.8 167.8h0M260.4 157.9h0M262.2 177.9h0M270.1 177.5h0M263.2 177.0h0M269.2 170.3h0M265.5 169.9h0M263.5 175.7h0M271.0 145.1h0M264.0 160.9h0M264.8 173.9h0M274.1 168.6h0M260.4 147.6h0M273.0 168.7h0M271.3 165.9h0M262.2 175.1h0M274.5 134.6h0M273.6 146.8h0M271.5 162.4h0M271.9 159.7h0M262.7 141.6h0M274.4 176.9h0M260.1 166.8h0M260.4 166.0h0M263.0 140.1h0M272.1 148.9h0M270.1 163.3h0M259.9 171.4h0M273.3 128.7h0M261.9 165.3h0M271.1 171.2h0M266.3 178.7h0M269.3 154.7h0M261.6 154.3h0M274.5 176.8h0M260.9 157.2h0M260.3 160.7h0M264.8 176.9h0M263.2 155.7h0M260.9 142.6h0M274.3 172.5h0M271.8 171.3h0M262.7 166.9h0M273.4 175.6h0M273.3 166.9h0M272.7 166.2h0M269.8 178.7h0M270.7 159.6h0M261.4 177.1h0M263.9 170.3h0M263.6 149.9h0M260.2 112.4h0M263.6 178.1h0M261.8 176.4h0M271.9 169.4h0M270.2 174.5h0M273.6 157.3h0M261.3 166.9h0M268.8 176.6h0M272.9 172.6h0M264.8 167.8h0M263.5 158.1h0M269.8 174.3h0M270.9 173.8h0M263.2 148.6h0M270.9 176.2h0M261.7 173.0h0M269.9 175.4h0M261.8 120.7h0M273.1 176.2h0M273.8 145.5h0M273.7 177.9h0M262.7 172.9h0M264.1 152.1h0M266.1 169.4h0M271.7 157.1h0M272.8 154.3h0M264.9 174.9h0M271.4 151.1h0M263.0 145.2h0M261.0 172.5h0M265.5 170.5h0M274.1 171.8h0M260.0 174.2h0M273.2 157.6h0M270.9 178.4h0M273.9 161.7h0M270.0 172.1h0M269.5 155.7h0M262.8 169.2h0M260.7 175.9h0M271.9 178.2h0M260.5 178.4h0M260.3 169.9h0M269.5 169.0h0M271.2 167.2h0M270.7 163.6h0M260.2 170.1h0M263.7 164.3h0M269.9 175.5h0M268.6 171.5h0M273.0 160.0h0M274.4 155.7h0M270.3 154.6h0M273.2 151.2h0M271.4 158.8h0M269.6 163.4h0M263.0 163.1h0M268.5 173.4h0M263.4 178.6h0M264.7 162.3h0M271.1 168.8h0M260.2 139.7h0M273.2 178.3h0M272.3 139.1h0M264.4 148.6h0M271.2 156.0h0M266.4 172.9h0M272.4 175.3h0M263.9 159.7h0M274.0 150.6h0M274.3 174.1h0M261.0 177.0h0M260.5 174.5h0M264.5 165.1h0M261.7 161.6h0M270.2 166.8h0M261.7 168.8h0M262.5 176.0h0M273.5 174.8h0M262.9 159.2h0M272.2 155.2h0M273.7 149.3h0M269.9 167.8h0M272.2 177.6h0M273.5 160.0h0M261.1 168.7h0M262.9 135.2h0M274.5 143.0h0M260.1 161.3h0M260.3 163.9h0M274.5 173.9h0M260.8 173.5h0M264.6 155.6h0M274.5 169.4h0M263.5 152.4h0M261.2 140.7h0M269.8 159.6h0M263.7 162.8h0M260.7 151.1h0M261.9 165.9h0M264.2 153.6h0M262.6 149.5h0M260.1 170.4h0M260.1 159.6h0M259.9 135.4h0M269.8 167.7h0M270.9 170.0h0M269.3 176.9h0M261.7 170.2h0M264.1 166.7h0M272.1 168.2h0M260.4 162.9h0M265.2 159.8h0M272.3 137.5h0M273.4 164.9h0M273.0 150.1h0M272.3 155.6h0M260.5 152.0h0M271.9 172.5h0M260.4 172.1h0M263.8 169.5h0M273.2 163.2h0M261.7 148.2h0M271.6 137.1h0M260.1 178.2h0M269.5 162.9h0M269.9 157.5h0M273.8 141.2h0M260.0 175.2h0M273.1 170.2h0M274.4 147.5h0M273.7 164.2h0M269.7 149.2h0M262.6 163.7h0M261.1 129.7h0M261.7 169.7h0M263.4 150.2h0M265.1 164.9h0M273.7 135.9h0M271.5 146.9h0M274.0 160.1h0M271.6 143.7h0M272.3 161.5h0M271.7 161.7h0M272.1 122.7h0M262.9 162.1h0M262.0 162.8h0M274.3 166.8h0M263.2 154.9h0M262.1 156.4h0M263.3 173.8h0M262.3 171.6h0M262.5 168.4h0M270.5 141.2h0M272.3 173.9h0M260.1 168.9h0M263.7 177.0h0M260.0 176.0h0M263.3 171.2h0M272.5 153.3h0M260.1 143.7h0M274.5 170.4h0M263.5 154.6h0M273.8 151.4h0M263.9 174.1h0M272.5 169.5h0M264.1 172.4h0M274.5 164.0h0M260.8 162.2h0M272.1 170.1h0M273.2 176.6h0M262.8 175.2h0M260.1 168.6h0M272.1 160.4h0M262.2 158.7h0M264.7 175.8h0M270.8 165.9h0M261.5 138.9h0M260.3 148.5h0M269.9 166.6h0M263.7 171.7h0M260.3 155.2h0M260.9 145.8h0M268.7 169.9h0M264.9 158.4h0M273.3 171.6h0M261.5 163.4h0M261.4 141.5h0M268.1 172.9h0M264.1 174.4h0M261.2 149.8h0M263.9 168.7h0M268.5 171.0h0M267.6 178.2h0M269.8 160.6h0M264.7 178.5h0M273.2 130.0h0M261.2 141.4h0M272.5 163.4h0M263.1 153.6h0M265.3 171.2h0M273.5 139.4h0M271.6 136.4h0M272.9 144.8h0M274.3 120.8h0M261.3 140.4h0M272.1 175.1h0M268.4 166.1h0M270.7 158.1h0M262.5 153.1h0M260.5 116.8h0M263.8 141.3h0M260.1 160.4h0M269.2 165.1h0M262.5 157.1h0M270.2 169.3h0M263.1 165.1h0M264.1 139.4h0M263.2 166.5h0M259.9 155.0h0M265.3 164.0h0M261.8 150.6h0M268.2 175.7h0M274.0 171.0h0M265.2 161.4h0M260.5 127.5h0M260.7 167.2h0M263.3 161.1h0M263.5 157.0h0M260.4 118.1h0M260.5 93.9h0M265.7 119.4h0M269.4 123.7h0" stroke="#b3b3b3" stroke-width="2.6" stroke-linecap="round" fill="none"/>
<path d="M259.3 158.4h0M248.2 164.1h0M241.9 169.0h0M246.2 162.6h0M239.2 166.9h0M253.1 178.3h0M243.9 164.3h0M259.0 178.6h0M251.2 155.6h0M241.1 172.1h0M241.8 174.0h0M259.0 168.3h0M256.4 172.1h0M249.4 172.4h0M240.4 166.4h0M241.5 173.1h0M257.1 153.6h0M255.1 175.8h0M240.8 169.4h0M257.3 175.8h0M244.8 149.6h0M259.3 171.4h0M246.8 168.7h0M248.6 170.8h0M250.3 172.6h0M258.9 162.2h0M249.0 176.1h0M244.7 170.7h0M256.4 174.2h0M248.8 167.0h0M254.7 178.1h0M250.0 176.4h0M247.2 174.9h0M251.5 171.7h0M246.1 175.2h0M242.9 175.8h0M245.8 168.2h0M243.9 177.0h0M239.5 178.3h0M247.1 159.8h0M248.9 178.2h0M239.5 172.2h0M259.4 148.9h0M255.4 151.3h0M248.0 178.4h0M253.7 176.1h0M258.3 159.8h0M257.7 164.0h0M240.8 178.3h0M245.6 177.3h0M258.7 86.9h0M238.9 178.0h0M253.4 177.2h0M242.2 171.9h0M258.7 173.4h0M243.6 178.5h0M242.7 164.4h0M255.6 171.9h0M240.0 165.3h0M251.1 178.4h0M249.3 171.2h0M255.2 153.7h0M240.2 176.6h0M252.8 172.7h0M255.8 177.4h0M257.9 168.4h0M259.5 147.1h0M257.6 177.3h0M247.8 164.3h0M244.0 162.9h0M258.6 176.6h0M259.0 152.5h0M246.1 172.8h0M258.8 149.3h0M249.2 163.2h0M250.0 163.4h0M251.4 174.0h0M245.5 178.3h0M239.9 167.2h0M247.3 160.2h0M253.3 170.1h0M249.9 156.2h0M246.3 161.2h0M250.8 165.1h0M251.1 166.3h0M250.5 164.3h0M252.9 166.3h0M247.3 177.1h0M255.6 142.7h0M252.9 168.4h0M243.0 169.0h0M257.4 170.3h0M251.8 167.0h0M252.5 157.5h0M255.5 177.0h0M248.7 176.9h0M240.6 173.2h0M243.2 177.5h0M239.4 166.5h0M253.7 177.8h0M248.6 159.0h0M241.7 170.3h0M256.9 166.0h0M255.6 156.8h0M254.1 156.2h0M254.4 165.6h0M257.9 160.6h0M254.2 162.6h0M259.4 156.3h0M248.5 174.0h0M249.7 158.3h0M259.5 136.3h0M258.8 175.8h0M245.1 176.0h0M257.3 174.0h0M248.1 158.7h0M250.6 175.2h0M255.5 173.7h0M259.4 154.9h0M239.0 176.1h0M243.5 174.5h0M249.9 166.6h0M249.5 178.5h0M253.7 164.8h0M251.8 170.1h0M246.2 161.0h0M255.2 169.4h0M255.4 167.2h0M256.0 169.5h0M241.9 178.2h0M259.5 152.8h0M258.4 156.0h0M251.8 155.1h0M251.4 173.1h0M250.4 170.9h0M259.1 169.0h0M259.1 168.2h0M245.8 169.2h0M246.4 169.9h0M254.9 155.4h0M250.4 177.3h0M254.3 163.9h0M249.3 170.7h0M256.4 160.9h0M250.4 169.6h0M245.8 158.7h0M240.7 173.3h0M259.5 143.8h0M247.7 158.4h0M241.0 176.8h0M239.3 174.3h0M240.4 175.7h0M239.5 176.5h0M258.0 175.4h0M252.3 177.5h0M257.7 172.7h0M258.0 167.0h0M258.4 134.2h0M258.5 166.2h0M249.8 166.7h0M243.0 157.4h0M257.5 149.9h0M254.2 175.0h0M255.9 152.5h0M252.2 178.6h0M259.5 177.8h0M240.7 168.5h0M240.0 175.2h0M256.7 150.9h0M243.0 165.1h0M248.5 162.4h0M243.0 173.1h0M256.0 177.9h0M242.5 163.5h0M241.7 176.9h0M257.1 152.3h0M254.3 154.9h0M256.7 166.8h0M240.6 164.9h0M253.4 152.3h0M255.6 171.0h0M256.5 175.4h0M246.8 177.1h0M240.4 175.4h0M251.0 156.7h0M255.1 159.3h0M257.9 174.7h0M243.8 167.2h0M244.4 175.0h0M246.5 164.3h0M246.5 149.0h0M247.1 175.5h0M256.7 164.0h0M257.8 178.5h0M258.3 148.1h0M246.6 178.0h0M259.4 164.0h0M255.8 158.9h0M251.7 174.6h0M245.3 170.6h0M259.2 149.3h0M249.6 160.6h0M247.3 161.4h0M241.8 164.7h0M258.1 163.6h0M256.2 117.2h0M243.5 168.0h0M257.1 167.3h0M239.1 162.1h0M248.3 160.1h0M240.0 168.1h0M248.6 171.2h0M259.5 146.3h0M244.3 178.4h0M250.1 165.3h0M258.2 152.2h0M251.6 166.0h0M245.5 162.6h0M243.2 167.7h0M240.0 170.7h0M253.6 162.0h0M258.9 170.2h0M249.4 174.9h0M257.3 150.8h0M252.7 161.0h0M244.6 167.9h0M249.3 173.9h0M254.2 173.4h0M256.6 165.7h0M250.0 176.6h0M243.4 171.4h0M251.6 163.0h0M259.1 161.2h0M245.7 160.2h0M258.4 163.2h0M255.9 145.6h0M254.6 159.0h0M251.3 173.7h0M256.3 172.7h0M244.9 161.9h0M249.6 159.2h0M258.2 150.2h0M251.4 137.2h0M251.6 160.2h0M246.2 146.9h0M258.0 154.1h0M256.5 162.2h0M247.2 164.7h0M254.9 150.3h0M240.2 169.2h0M256.9 156.2h0M258.8 157.6h0M245.9 165.8h0M246.9 170.9h0M253.8 145.2h0M252.8 153.5h0M250.6 175.6h0M241.8 174.6h0M253.3 149.5h0M243.8 162.1h0M240.0 171.1h0M241.4 170.0h0M246.9 165.3h0M251.0 124.0h0M259.2 175.7h0M258.5 169.8h0M254.7 128.6h0M225.4 169.4h0M248.8 129.1h0M241.7 156.3h0M249.5 147.8h0M223.7 175.5h0M240.8 158.5h0M241.1 142.4h0M234.6 161.3h0M237.7 174.9h0M252.5 175.6h0M251.0 153.2h0M231.7 164.2h0M243.8 117.9h0M247.3 141.5h0M221.5 142.4h0M246.0 139.7h0M258.4 147.2h0M249.8 168.9h0M250.1 161.9h0M242.8 155.5h0M226.4 167.0h0M224.3 155.2h0M251.8 169.4h0M257.5 169.4h0M241.7 148.6h0M254.6 177.2h0M252.0 168.1h0M252.0 176.3h0M205.8 153.8h0M221.6 164.1h0M236.0 139.9h0M223.6 175.3h0M219.1 146.8h0M256.0 139.5h0M236.5 175.5h0M257.5 105.3h0M255.3 91.1h0M249.3 67.0h0M247.9 88.3h0M244.1 88.3h0M230.7 103.8h0M230.0 110.9h0M200.2 161.9h0M207.7 154.8h0M211.4 150.6h0M219.6 143.5h0M212.9 174.6h0M216.6 176.8h0M227.0 137.8h0M237.4 115.2h0M242.6 125.1h0M233.0 133.6h0" stroke="#2c74b0" stroke-width="2.6" stroke-linecap="round" fill="none"/>
<path d="M298.6 171.6h0M281.2 152.1h0M287.1 158.2h0M284.5 175.8h0M275.0 177.0h0M281.7 161.9h0M297.8 176.1h0M283.0 159.8h0M297.2 171.1h0M286.5 149.7h0M287.3 154.3h0M280.5 124.0h0M298.1 174.0h0M287.7 175.9h0M289.7 170.8h0M280.9 176.7h0M292.8 170.0h0M290.1 172.8h0M281.2 171.1h0M284.8 156.1h0M291.5 160.8h0M294.7 174.5h0M285.0 155.5h0M275.6 168.6h0M288.4 140.2h0M295.9 176.1h0M277.8 152.2h0M288.5 168.4h0M276.6 161.4h0M294.3 163.5h0M283.7 162.2h0M286.9 149.4h0M283.2 174.4h0M276.2 157.7h0M277.0 172.0h0M291.3 162.6h0M290.2 174.9h0M292.9 171.5h0M297.0 172.3h0M276.6 161.0h0M277.3 154.6h0M276.3 171.4h0M296.1 176.6h0M284.9 162.5h0M299.2 177.8h0M285.9 178.4h0M286.2 157.5h0M280.1 162.0h0M285.4 172.9h0M296.7 177.3h0M279.2 177.2h0M286.6 163.0h0M293.2 176.9h0M281.3 178.6h0M285.7 177.2h0M279.6 166.0h0M286.6 170.9h0M278.6 150.8h0M278.7 177.6h0M287.0 168.8h0M276.3 150.6h0M280.9 150.5h0M274.9 178.6h0M277.9 175.5h0M281.6 174.5h0M283.8 170.3h0M275.4 153.6h0M280.3 157.9h0M280.2 164.5h0M278.5 165.8h0M275.9 176.2h0M282.9 165.6h0M274.9 173.9h0M275.3 172.5h0M284.0 167.5h0M281.5 159.8h0M284.0 168.8h0M292.9 169.2h0M277.9 175.3h0M298.0 177.9h0M294.2 170.5h0M287.7 163.7h0M291.4 167.4h0M290.2 163.3h0M281.9 173.6h0M275.7 145.1h0M279.1 158.5h0M285.0 166.5h0M285.8 155.6h0M294.0 178.5h0M287.9 175.0h0M298.0 166.0h0M279.1 147.9h0M277.9 163.3h0M277.6 149.0h0M279.5 168.5h0M288.2 161.1h0M294.6 167.6h0M290.0 160.5h0M295.4 167.7h0M291.6 159.3h0M283.3 177.8h0M276.6 166.4h0M291.6 169.1h0M296.8 177.9h0M299.0 177.4h0M290.4 167.1h0M296.1 178.3h0M279.5 170.7h0M283.3 169.5h0M275.0 149.8h0M280.2 177.9h0M294.6 169.6h0M285.8 171.9h0M282.7 171.6h0M295.6 172.4h0M298.6 172.3h0M293.2 162.1h0M288.7 157.4h0M296.7 171.0h0M285.1 153.8h0M289.9 159.7h0M287.6 155.9h0M292.6 166.4h0M277.5 150.1h0M279.9 163.8h0M288.8 158.0h0M298.8 175.7h0M278.9 171.1h0M289.3 166.8h0M276.4 162.9h0M282.9 161.5h0M278.1 169.8h0M278.9 141.4h0M287.3 176.3h0M275.2 169.2h0M292.2 173.4h0M282.5 151.9h0M275.0 159.3h0M293.8 173.7h0M286.4 175.3h0M283.4 176.1h0M284.6 174.4h0M288.9 171.2h0M276.0 146.1h0M290.2 176.8h0M277.7 173.9h0M282.3 160.1h0M284.0 177.2h0M285.8 170.9h0M297.8 166.7h0M288.6 162.1h0M296.6 164.6h0M285.1 165.4h0M291.3 177.7h0M276.3 164.4h0M277.9 159.1h0M288.1 164.6h0M295.0 176.9h0M297.0 176.2h0M291.6 167.9h0M280.5 171.7h0M283.6 171.2h0M280.2 175.0h0M278.4 143.3h0M277.1 156.9h0M275.8 155.3h0M290.2 173.3h0M283.8 158.3h0M279.0 153.1h0M276.8 162.0h0M281.4 158.6h0M276.1 178.5h0M295.8 175.0h0M275.6 151.8h0M290.4 169.8h0M280.1 155.1h0M281.6 177.6h0M277.7 173.2h0M284.7 177.6h0M285.6 159.1h0M274.9 171.5h0M275.4 151.6h0M275.2 168.3h0M284.0 174.4h0M279.2 108.2h0M284.8 169.9h0M294.3 172.1h0M297.6 155.1h0M285.4 177.8h0M287.5 129.4h0M286.7 174.0h0M291.2 172.8h0M284.7 171.0h0M293.0 178.1h0M283.3 154.9h0M280.4 172.6h0M280.6 169.7h0M286.8 159.2h0M276.5 148.1h0M291.6 161.5h0M282.6 153.0h0M276.9 174.4h0M295.2 177.8h0M276.8 176.5h0M288.0 169.7h0M289.5 161.0h0M283.0 176.8h0M278.4 178.5h0M287.3 172.6h0M285.2 171.8h0M275.4 176.4h0M291.3 176.4h0M291.4 174.1h0M281.8 163.1h0M296.8 168.3h0M293.1 174.9h0M282.2 154.6h0M280.2 159.7h0M289.2 151.0h0M288.9 176.0h0M292.3 176.6h0M290.2 152.3h0M287.3 161.2h0M282.2 168.3h0M295.1 148.2h0M288.4 172.5h0M298.8 173.4h0M293.8 172.6h0M275.9 177.6h0M278.4 163.8h0M280.9 152.3h0M293.0 161.6h0M285.1 167.4h0M283.0 170.1h0M282.5 172.8h0M278.6 171.3h0M292.0 171.6h0M286.8 163.6h0M279.6 151.5h0M279.1 154.3h0M284.4 174.2h0M297.1 169.6h0M286.8 177.1h0M295.0 176.0h0M278.1 165.3h0M277.5 160.5h0M279.3 150.2h0M298.4 169.7h0M277.0 159.9h0M281.9 156.2h0M288.6 177.5h0M282.6 168.9h0M276.7 147.3h0M294.8 168.4h0M277.3 152.3h0M287.9 158.2h0M284.1 164.5h0M287.2 167.4h0M299.0 161.9h0M275.1 121.1h0M281.3 154.0h0M285.2 158.3h0M282.5 173.7h0M286.7 175.4h0M292.7 162.8h0M277.8 168.8h0M279.4 157.3h0M290.4 177.9h0M275.4 158.8h0M288.4 178.6h0M282.3 178.6h0M298.0 165.5h0M290.6 164.4h0M290.6 164.6h0M291.0 165.1h0M291.7 176.6h0M298.8 168.7h0M275.1 166.2h0M294.5 173.5h0M285.8 154.5h0M276.6 165.3h0M279.9 124.9h0M283.4 150.4h0M296.7 164.3h0M278.8 138.6h0M276.2 153.4h0M280.1 147.3h0M278.6 170.4h0M288.5 171.3h0M281.7 148.4h0M293.3 162.3h0M283.2 126.2h0M291.6 170.0h0M280.6 157.6h0M279.4 166.8h0M280.4 170.3h0M276.9 176.7h0M278.1 172.6h0M291.8 152.9h0M290.5 171.2h0M293.3 168.1h0M293.3 149.0h0M308.0 154.5h0M276.7 135.5h0M292.2 123.3h0M276.4 169.1h0M304.4 176.6h0M305.2 152.6h0M281.3 157.6h0M284.2 155.7h0M281.6 168.0h0M291.0 119.5h0M279.5 143.8h0M330.1 172.2h0M322.8 172.0h0M277.5 141.3h0M276.1 174.6h0M280.0 156.5h0M282.1 81.2h0M284.3 81.2h0M277.6 106.7h0M294.0 58.5h0M330.4 101.0h0M312.6 96.8h0M288.0 88.3h0M322.3 133.6h0M326.7 171.8h0M314.1 166.1h0M318.5 169.0h0M309.6 113.8h0M301.4 116.6h0M297.0 127.9h0M307.4 125.1h0M291.8 120.8h0" stroke="#e39a31" stroke-width="2.6" stroke-linecap="round" fill="none"/>
<line x1="259.8" y1="52" x2="259.8" y2="204" stroke="#000" stroke-width="1.35" stroke-dasharray="6 6.2"/>
<line x1="274.6" y1="52" x2="274.6" y2="204" stroke="#000" stroke-width="1.35" stroke-dasharray="6 6.2"/>
<line x1="196.4" y1="178.9" x2="337.7" y2="178.9" stroke="#000" stroke-width="1.35" stroke-dasharray="6 6.2"/>
<text x="197.3" y="47" font-size="9.9" fill="#1a1a1a">Li-R vs. Ctrl</text>
<text x="267.9" y="223.7" font-size="10" text-anchor="middle" fill="#1a1a1a">log2(Fold Change)</text>
<line x1="373.2" y1="51.1" x2="373.2" y2="203.4" stroke="#e9e9e9" stroke-width="1.1"/>
<line x1="411.5" y1="51.1" x2="411.5" y2="203.4" stroke="#e9e9e9" stroke-width="1.1"/>
<line x1="449.9" y1="51.1" x2="449.9" y2="203.4" stroke="#e9e9e9" stroke-width="1.1"/>
<line x1="357.5" y1="178.9" x2="503" y2="178.9" stroke="#e9e9e9" stroke-width="1.1"/>
<line x1="357.5" y1="142.6" x2="503" y2="142.6" stroke="#e9e9e9" stroke-width="1.1"/>
<line x1="357.5" y1="106.4" x2="503" y2="106.4" stroke="#e9e9e9" stroke-width="1.1"/>
<line x1="357.5" y1="70.2" x2="503" y2="70.2" stroke="#e9e9e9" stroke-width="1.1"/>
<line x1="392.4" y1="51.1" x2="392.4" y2="203.4" stroke="#e5e5e5" stroke-width="1.3"/>
<line x1="430.7" y1="51.1" x2="430.7" y2="203.4" stroke="#e5e5e5" stroke-width="1.3"/>
<line x1="469" y1="51.1" x2="469" y2="203.4" stroke="#e5e5e5" stroke-width="1.3"/>
<line x1="357.5" y1="197" x2="503" y2="197" stroke="#e5e5e5" stroke-width="1.3"/>
<line x1="357.5" y1="160.8" x2="503" y2="160.8" stroke="#e5e5e5" stroke-width="1.3"/>
<line x1="357.5" y1="124.5" x2="503" y2="124.5" stroke="#e5e5e5" stroke-width="1.3"/>
<line x1="357.5" y1="88.3" x2="503" y2="88.3" stroke="#e5e5e5" stroke-width="1.3"/>
<line x1="357.5" y1="52" x2="503" y2="52" stroke="#e5e5e5" stroke-width="1.3"/>
<text x="356.5" y="199.6" font-size="7.3" text-anchor="end" fill="#777">0</text>
<text x="356.5" y="163.4" font-size="7.3" text-anchor="end" fill="#777">3</text>
<text x="356.5" y="127.1" font-size="7.3" text-anchor="end" fill="#777">6</text>
<text x="356.5" y="90.9" font-size="7.3" text-anchor="end" fill="#777">9</text>
<text x="356.5" y="54.7" font-size="7.3" text-anchor="end" fill="#777">12</text>
<text x="395.1" y="209.7" font-size="7.3" text-anchor="middle" fill="#777">−4</text>
<text x="431.9" y="209.7" font-size="7.3" text-anchor="middle" fill="#777">0</text>
<text x="470.2" y="209.7" font-size="7.3" text-anchor="middle" fill="#777">4</text>
<path d="M386.5 182.8h0M440.3 194.6h0M443.7 191.2h0M399.4 185.1h0M431.2 184.0h0M418.9 194.7h0M396.0 187.8h0M417.9 194.2h0M462.6 188.9h0M416.3 189.0h0M385.6 181.6h0M403.9 182.9h0M432.6 181.5h0M419.7 191.2h0M420.9 189.0h0M409.3 184.4h0M466.4 182.3h0M400.9 186.7h0M458.2 190.1h0M453.9 192.4h0M448.0 193.5h0M412.4 187.3h0M451.9 185.6h0M477.2 182.1h0M467.0 185.0h0M411.5 192.1h0M427.5 196.0h0M436.2 184.0h0M475.1 181.6h0M440.2 189.6h0M472.9 181.9h0M437.3 181.5h0M419.8 193.0h0M467.5 186.4h0M477.7 181.8h0M413.0 191.3h0M468.4 182.4h0M390.3 182.1h0M400.1 186.2h0M433.2 191.1h0M478.0 181.3h0M472.1 183.9h0M408.8 190.5h0M401.6 187.3h0M394.2 182.0h0M472.3 182.5h0M469.2 182.4h0M398.8 186.8h0M388.9 182.4h0M421.6 185.0h0M442.8 194.6h0M457.1 189.3h0M394.1 186.1h0M440.7 188.6h0M442.9 183.7h0M404.6 184.2h0M439.6 195.3h0M445.5 192.7h0M465.5 184.7h0M393.0 183.4h0M458.6 186.8h0M432.3 183.4h0M446.0 182.9h0M384.4 181.9h0M409.2 192.6h0M446.8 184.9h0M426.8 189.6h0M443.5 195.4h0M466.9 181.4h0M467.5 183.2h0M463.8 186.5h0M390.8 181.6h0M456.0 185.6h0M417.4 183.3h0M464.0 188.1h0M386.9 182.9h0M446.9 192.1h0M394.8 183.1h0M465.6 185.6h0M435.7 193.3h0M466.3 183.8h0M452.6 183.0h0M424.8 181.4h0M402.9 183.2h0M468.5 186.6h0M469.6 185.9h0M394.9 184.6h0M391.1 185.5h0M453.6 188.0h0M385.3 181.5h0M421.3 182.4h0M390.8 185.1h0M451.8 189.9h0M438.6 189.5h0M439.3 181.7h0M455.0 188.0h0M420.2 188.9h0M427.3 183.5h0M404.8 184.9h0M465.0 181.4h0M461.2 181.6h0M474.7 183.7h0M475.4 182.2h0M461.6 183.8h0M470.4 184.1h0M454.2 191.6h0M417.5 184.4h0M396.8 185.0h0M399.4 182.0h0M394.2 187.1h0M466.5 184.7h0M393.1 185.4h0M416.8 194.9h0M403.9 185.6h0M427.4 187.6h0M393.9 183.0h0M448.8 182.9h0M388.4 182.6h0M450.2 187.9h0M424.0 195.1h0M394.6 184.0h0M404.9 182.3h0M394.8 181.6h0M471.4 184.6h0M391.5 182.3h0M456.1 191.5h0M456.5 190.7h0M452.1 188.5h0M463.6 187.1h0M460.8 190.1h0M452.0 182.0h0M408.3 183.9h0M438.3 186.7h0M393.5 184.5h0M466.5 187.7h0M420.1 186.4h0M419.3 186.9h0M392.5 183.1h0M437.9 191.4h0M420.8 186.9h0M452.7 184.5h0M445.1 194.1h0M390.0 183.8h0M445.5 195.2h0M460.4 184.4h0M396.5 182.4h0M427.2 181.8h0M397.3 183.8h0M408.3 188.0h0M416.0 191.5h0M425.2 190.7h0M425.8 196.2h0M419.7 187.0h0M457.9 187.6h0M402.8 186.7h0M388.1 183.2h0M429.5 189.6h0M420.1 183.5h0M467.9 181.4h0M448.8 183.4h0M413.6 190.9h0M415.3 193.0h0M460.0 183.4h0M424.8 195.2h0M441.0 195.3h0M407.2 185.7h0M417.9 186.8h0M432.8 187.7h0M414.1 182.7h0M468.5 183.6h0M443.7 187.1h0M447.9 187.0h0M443.8 184.7h0M456.4 188.8h0M389.2 184.0h0M428.3 186.1h0M414.8 184.9h0M462.4 186.8h0M453.2 191.8h0M417.5 188.1h0M435.9 194.8h0M438.1 183.7h0M393.1 184.5h0M441.9 186.7h0M395.6 186.0h0M408.8 188.5h0M427.0 182.7h0M445.0 183.9h0M444.3 182.4h0M416.7 187.6h0M448.2 185.9h0M407.8 191.1h0M391.3 181.5h0M391.4 185.2h0M427.3 192.8h0M437.5 186.1h0M443.5 190.2h0M453.9 184.6h0M414.6 189.4h0M405.9 182.4h0M476.4 182.1h0M408.8 182.4h0M445.5 181.6h0M391.2 183.9h0M449.2 193.7h0M457.1 185.4h0M449.7 191.2h0M386.9 183.3h0M466.4 187.3h0M436.5 186.3h0M451.0 181.6h0M469.0 184.9h0M427.5 197.0h0M455.0 181.3h0M401.2 181.3h0M453.7 182.6h0M441.1 188.9h0M419.1 189.9h0M439.9 185.3h0M403.8 185.1h0M439.9 185.9h0M433.4 183.3h0M472.7 182.2h0M408.0 182.3h0M458.2 189.2h0M464.3 182.3h0M435.0 190.9h0M440.9 194.5h0M440.8 192.6h0M438.9 183.9h0M418.3 191.8h0M465.3 182.8h0M449.6 185.2h0M413.2 185.5h0M410.3 189.8h0M413.4 184.0h0M392.5 181.4h0M458.1 182.5h0M469.3 181.8h0M459.3 184.7h0M425.2 183.8h0M418.2 195.5h0M430.9 181.9h0M473.6 182.5h0M433.1 189.5h0M470.7 182.9h0M463.5 187.7h0M431.8 195.4h0M414.0 194.0h0M458.9 185.4h0M473.7 183.9h0M458.6 182.7h0M410.7 181.9h0M450.5 185.7h0M398.5 186.8h0M410.5 187.9h0M433.4 197.3h0M417.7 183.9h0M439.9 187.9h0M419.4 186.2h0M385.4 182.2h0M455.9 187.4h0M409.3 181.7h0M442.6 194.2h0M410.0 191.1h0M425.2 193.7h0M461.0 182.4h0M398.2 185.3h0M462.4 184.3h0M466.5 185.6h0M403.7 189.5h0M470.9 185.3h0M433.7 184.9h0M463.6 186.4h0M420.5 190.3h0M414.0 189.6h0M442.5 189.2h0M398.0 183.3h0M400.3 183.5h0M422.3 190.4h0M403.8 184.0h0M412.4 187.8h0M415.2 183.8h0M424.8 187.6h0M399.8 183.3h0M446.5 181.7h0M465.6 183.4h0M424.0 186.7h0M434.2 185.6h0M397.8 188.1h0M436.6 188.1h0M410.9 189.3h0M421.4 186.3h0M389.0 182.0h0M427.2 193.2h0M410.3 192.8h0M454.6 188.8h0M454.0 185.4h0M429.7 181.9h0M386.8 181.7h0M404.0 181.8h0M409.5 184.2h0M470.1 185.2h0M407.9 189.9h0M406.6 186.7h0M431.5 190.0h0M423.1 195.3h0M402.6 183.1h0M435.2 185.1h0M458.7 184.2h0M399.0 182.4h0M405.9 184.2h0M453.8 187.3h0M412.3 183.6h0M411.6 191.1h0M473.1 183.9h0M397.6 186.7h0M422.6 185.7h0M410.7 186.1h0M413.1 187.8h0M447.9 187.8h0M442.6 194.1h0M447.9 189.6h0M415.3 183.5h0M452.3 191.7h0M401.3 183.5h0M456.2 182.0h0M402.5 190.0h0M446.1 188.2h0M476.0 181.9h0M442.4 185.7h0M435.5 185.8h0M462.6 181.8h0M426.3 195.9h0M459.8 181.4h0M474.0 181.7h0M442.3 192.9h0M441.4 183.6h0M413.0 185.6h0M393.6 183.4h0M443.2 189.6h0M463.1 183.0h0M461.8 188.5h0M396.2 183.3h0M440.2 191.9h0M454.7 181.6h0M428.8 186.8h0M439.0 190.1h0M460.1 187.3h0M458.1 186.8h0M462.1 182.0h0M384.4 182.1h0M417.8 189.5h0M444.3 187.1h0M467.1 182.3h0M454.5 183.9h0M455.3 192.1h0M457.4 191.4h0M418.8 184.8h0M397.1 188.2h0M436.5 195.5h0M428.5 190.6h0M465.8 186.7h0M436.5 193.2h0M416.3 186.7h0M406.8 191.5h0M416.2 182.2h0M449.4 189.5h0M387.8 182.0h0M437.8 194.6h0M402.1 189.3h0M446.6 183.4h0M425.8 187.4h0M396.4 187.5h0M415.4 194.0h0M407.4 183.6h0M463.8 186.1h0M468.1 181.7h0M402.2 181.7h0M415.6 188.2h0M397.5 186.1h0M409.4 186.9h0M401.4 184.8h0M397.5 182.0h0M405.2 186.6h0M428.9 194.2h0M448.3 187.5h0M428.7 196.6h0M409.3 188.8h0M423.3 183.6h0M429.7 197.4h0M397.9 185.9h0M465.0 187.9h0M411.5 190.3h0M451.4 184.4h0M404.9 185.4h0M454.5 182.2h0M452.7 192.3h0M456.6 184.6h0M397.1 182.8h0M413.8 184.6h0M386.5 183.3h0M400.1 181.9h0M437.5 195.3h0M425.8 184.5h0M427.1 197.2h0M451.7 189.6h0M417.1 193.3h0M405.7 190.3h0M428.6 196.3h0M415.4 185.0h0M445.0 191.4h0M457.7 189.9h0M417.3 185.2h0M435.0 183.1h0M440.0 192.0h0M463.3 184.8h0M418.1 186.4h0M451.7 184.9h0M444.2 193.1h0M409.6 186.4h0M424.9 185.1h0M461.4 189.2h0M449.1 189.6h0M408.6 186.9h0M405.4 185.8h0M416.4 190.7h0M449.7 182.6h0M410.8 184.2h0M457.0 187.2h0M412.6 189.9h0M415.1 192.7h0M401.5 188.7h0M457.8 183.7h0M439.4 195.5h0M449.8 193.3h0M406.2 186.6h0M459.8 189.6h0M431.1 197.0h0M400.8 188.8h0M444.3 192.9h0M399.5 188.6h0M455.8 191.0h0M451.4 189.8h0M416.9 185.9h0M400.5 182.8h0M398.2 181.5h0M405.1 191.0h0M454.4 187.6h0M407.4 190.8h0M432.5 191.6h0M403.2 187.8h0M437.6 185.1h0M432.7 187.4h0M469.1 185.4h0M431.9 194.2h0M416.8 191.1h0M429.5 193.4h0M403.0 186.1h0M406.2 191.9h0M445.1 190.4h0M435.5 187.5h0M414.4 188.4h0M439.4 187.5h0M459.8 189.9h0M455.7 184.5h0M453.2 181.9h0M400.1 184.4h0M422.1 186.7h0M440.6 181.9h0M448.2 189.8h0M419.3 189.4h0M470.0 183.4h0M410.2 185.0h0M460.5 186.3h0M455.6 185.4h0M422.5 184.7h0M432.9 194.4h0M455.2 189.1h0M394.7 186.1h0M429.8 188.2h0M452.6 192.7h0M446.1 185.7h0M435.7 188.6h0M448.2 192.9h0M428.8 181.7h0M411.3 187.9h0M414.3 191.0h0M405.2 189.4h0M411.4 187.4h0M418.1 190.7h0M478.1 182.1h0M436.2 182.1h0M412.4 194.1h0M441.3 190.5h0M419.7 184.7h0M464.4 184.4h0M406.0 184.3h0M438.3 189.8h0M421.3 190.4h0M410.3 193.2h0M451.0 189.5h0M451.5 182.1h0M451.4 191.8h0M428.7 185.5h0M416.6 181.6h0M400.2 188.3h0M442.7 190.1h0M438.9 191.3h0M404.3 181.5h0M443.7 182.0h0M416.7 186.5h0M447.5 191.2h0M421.6 196.1h0M420.6 187.6h0M443.8 182.8h0M421.9 192.5h0M389.9 185.0h0M415.1 181.9h0M406.9 183.1h0M410.5 182.4h0M445.5 187.9h0M441.4 191.2h0M405.9 187.6h0M417.6 182.7h0M436.0 193.0h0M458.3 185.1h0M429.7 192.8h0M418.8 181.7h0M435.7 182.2h0M438.0 187.8h0M411.8 181.5h0M416.9 188.7h0M416.1 195.0h0M406.4 189.0h0M453.3 187.3h0M446.3 187.5h0M425.5 189.2h0M457.0 182.5h0M424.1 195.4h0M463.3 183.3h0M422.9 196.4h0M453.0 189.2h0M461.5 189.8h0M414.9 182.3h0M449.8 187.5h0M445.8 187.4h0M402.5 185.2h0M432.1 186.0h0M415.2 194.7h0M404.6 190.4h0M421.9 195.1h0M438.6 183.0h0M436.4 196.9h0M429.8 188.9h0M414.3 186.7h0M416.9 192.8h0M405.2 188.1h0M452.4 187.1h0M433.6 196.0h0M434.7 195.9h0M411.4 183.6h0M427.1 188.1h0M396.4 181.6h0M441.6 186.5h0M432.3 197.5h0M432.7 184.5h0M457.6 184.5h0M450.2 190.2h0M459.5 185.6h0M444.1 189.6h0M407.6 192.0h0M462.0 182.2h0M401.2 185.9h0M419.7 182.1h0M423.2 193.7h0M405.6 181.9h0M408.7 191.9h0M415.0 190.1h0M461.3 186.5h0M445.9 189.6h0M453.6 185.9h0M461.1 187.8h0M441.7 190.9h0M407.0 184.7h0M430.9 185.2h0M398.3 182.6h0M442.4 195.6h0M424.9 196.8h0M420.6 193.1h0M422.6 193.9h0M408.5 188.9h0M470.7 182.0h0M464.2 183.8h0M439.2 193.8h0M406.7 188.3h0M421.2 183.3h0M446.7 182.7h0M455.0 182.5h0M432.3 192.7h0M440.3 193.6h0M427.6 187.0h0M421.1 191.4h0M425.0 193.2h0M472.1 181.7h0M467.3 186.5h0M460.5 184.1h0M444.6 181.6h0M450.4 183.4h0M435.6 191.4h0M425.0 182.4h0M449.2 188.0h0M459.9 182.3h0M427.8 182.1h0M456.1 188.2h0M444.6 191.7h0M401.3 187.7h0M410.5 186.6h0M437.2 192.5h0M459.8 187.6h0M422.7 191.3h0M433.5 186.6h0M441.4 186.1h0M448.1 184.6h0M418.1 193.3h0M440.3 187.3h0M409.9 188.9h0M411.8 186.2h0M434.4 193.9h0M430.5 193.1h0M413.0 184.8h0M437.3 182.2h0M421.6 192.8h0M419.4 195.4h0M449.4 185.8h0M470.6 185.7h0M438.9 195.1h0M458.2 181.6h0M441.3 182.8h0M425.9 192.6h0M429.2 192.2h0M464.1 188.8h0M430.8 194.9h0M427.8 192.8h0M418.2 181.9h0M395.8 184.6h0M427.4 191.4h0M462.4 186.2h0M394.9 187.3h0M436.4 195.0h0M401.0 182.5h0M407.9 184.3h0M432.6 190.0h0M406.8 189.5h0M424.0 190.2h0M429.2 182.1h0M437.2 186.5h0M437.7 193.4h0M437.2 190.8h0M436.4 191.4h0M435.4 181.5h0M448.3 190.1h0M438.6 184.8h0M424.9 183.4h0M464.2 181.8h0M431.8 188.9h0M423.0 185.3h0M458.8 187.9h0M426.3 186.6h0M444.5 188.3h0M445.8 185.3h0M408.4 182.0h0M451.8 183.5h0M441.1 193.9h0M413.0 192.9h0M430.0 183.1h0M411.7 193.3h0M437.8 189.0h0M424.4 191.3h0M414.2 185.4h0M419.8 195.4h0M450.6 187.3h0M447.0 194.5h0M435.0 184.2h0M447.8 181.5h0M430.1 186.8h0M472.6 184.8h0M404.1 187.2h0M434.4 187.4h0M448.7 185.1h0M433.7 185.7h0M438.5 192.9h0M416.9 183.0h0M443.2 188.5h0M403.7 191.1h0M436.8 181.7h0M442.2 183.4h0M433.7 182.6h0M431.3 185.6h0M426.2 181.4h0M422.3 182.1h0M434.3 188.0h0M419.4 187.8h0M426.5 190.5h0M432.9 192.2h0M446.1 191.6h0M412.3 181.9h0M411.6 182.9h0M443.1 193.8h0M425.8 185.9h0M418.7 182.3h0M428.4 181.7h0M424.4 186.0h0M421.0 194.3h0M425.2 188.0h0M450.2 192.6h0M415.8 186.0h0M435.8 196.2h0M436.8 189.6h0M431.2 187.8h0M423.5 192.6h0M444.7 186.4h0M444.3 194.6h0M427.8 188.7h0M393.2 186.5h0M448.7 191.5h0M443.1 186.3h0M449.2 192.5h0M416.0 181.3h0M416.2 189.9h0M423.1 185.4h0M424.0 189.5h0M475.9 183.2h0M408.2 186.3h0M454.9 184.1h0M444.3 190.5h0M428.1 194.8h0M447.5 183.6h0M439.7 190.8h0M420.8 182.0h0M442.2 187.7h0M413.6 182.0h0M430.4 183.4h0M430.8 182.1h0M454.4 190.0h0M424.9 187.2h0M401.7 190.2h0M454.9 189.9h0M413.5 190.8h0M428.9 188.1h0M431.0 195.4h0M413.6 186.9h0M431.2 191.1h0M420.4 181.9h0M444.3 195.5h0M399.8 186.1h0M449.0 194.2h0M432.0 196.8h0M422.7 195.8h0M426.4 184.7h0M412.5 182.6h0M425.2 191.8h0M419.3 194.1h0M403.3 190.2h0M452.8 190.1h0M412.0 189.1h0M418.8 183.2h0M411.1 184.9h0M427.6 183.2h0M437.2 184.3h0M448.1 182.9h0M450.8 183.7h0M451.1 193.3h0M440.5 183.2h0M420.0 194.8h0M423.8 181.4h0M456.3 183.5h0M446.3 190.5h0M446.4 189.4h0M446.2 193.2h0M434.9 196.4h0M427.0 191.0h0M421.7 193.3h0M425.3 196.4h0M431.6 188.7h0M439.3 187.9h0M427.2 185.8h0M457.3 181.6h0M433.0 188.5h0M418.9 191.9h0M430.3 194.2h0M437.6 192.0h0M427.6 184.9h0M450.1 181.5h0M406.5 181.9h0M432.4 193.8h0M429.1 191.6h0M439.9 182.4h0M449.1 181.5h0M428.7 185.2h0M445.7 186.0h0M427.4 190.4h0M391.0 185.4h0M434.6 192.1h0M395.8 190.1h0M478.0 183.9h0M468.0 189.8h0M390.8 188.2h0M473.4 187.2h0M389.9 187.5h0M391.3 188.7h0M470.0 189.4h0M396.2 191.2h0M475.8 185.4h0M384.3 186.0h0M472.6 189.7h0M479.9 183.1h0M486.0 181.6h0M387.7 187.9h0M478.0 184.4h0M386.6 188.3h0M394.9 190.5h0M393.8 190.2h0M438.3 174.5h0M423.7 180.0h0M428.7 180.3h0M435.1 165.0h0M439.2 160.9h0M433.7 168.5h0M425.6 166.5h0M427.3 173.5h0M424.7 175.2h0M425.6 176.7h0M425.3 179.8h0M423.8 178.4h0M432.1 180.2h0M439.3 179.2h0M437.5 163.3h0M434.2 178.1h0M433.8 178.7h0M423.1 158.7h0M424.8 174.1h0M425.9 180.7h0M429.9 177.8h0M427.8 167.2h0M423.1 167.1h0M439.0 171.1h0M436.4 180.0h0M423.1 175.5h0M424.1 170.9h0M427.2 180.5h0M426.4 159.0h0M439.1 180.7h0M435.6 171.5h0M424.8 172.9h0M424.9 167.0h0M421.4 177.4h0M435.0 165.7h0M426.6 177.4h0M437.1 177.6h0M438.0 179.6h0M428.4 174.3h0M422.4 175.6h0M427.2 179.6h0M423.5 170.0h0M421.5 179.3h0M426.3 178.5h0M437.0 171.6h0M421.6 172.6h0M426.7 175.7h0M422.2 157.1h0M436.4 174.8h0M428.0 179.5h0M439.3 169.5h0M437.9 172.7h0M435.2 164.3h0M438.1 160.4h0M422.2 178.9h0M435.8 180.3h0M438.9 178.0h0M429.7 177.2h0M438.0 175.6h0M437.0 173.9h0M433.4 169.5h0M425.3 162.1h0M434.2 174.9h0M422.9 177.0h0M439.3 170.6h0M422.9 170.1h0M424.7 178.9h0M424.1 168.7h0M433.9 173.5h0M440.2 163.0h0M435.7 179.5h0M435.0 179.7h0M439.8 179.8h0M422.5 158.2h0M422.8 181.2h0M427.2 171.5h0M435.9 173.7h0M435.9 172.4h0M435.3 175.2h0M426.7 170.3h0M434.4 173.1h0M439.4 177.0h0M422.7 168.9h0M421.3 180.3h0M424.1 161.8h0M435.7 176.8h0M439.1 172.5h0M437.1 173.2h0M434.0 179.9h0M423.3 177.6h0M436.9 179.3h0M439.8 178.3h0M434.1 158.5h0M436.4 177.7h0M438.9 163.5h0M433.7 160.9h0M425.4 162.7h0M421.9 177.9h0M435.0 181.1h0M425.4 173.9h0M423.7 171.8h0M439.2 161.9h0M421.7 173.7h0M432.2 176.3h0M423.0 160.5h0M433.7 179.4h0M424.7 160.0h0M435.7 170.1h0M424.5 176.9h0M421.7 178.1h0M434.8 173.8h0M421.8 176.4h0M427.8 176.1h0M428.4 180.0h0M422.6 146.5h0M422.3 166.7h0M423.7 167.9h0M424.1 160.6h0M421.4 171.3h0M424.8 180.9h0M438.5 175.1h0M428.9 178.5h0M438.1 180.1h0M435.4 176.0h0M424.7 148.9h0M435.5 178.6h0M422.2 165.2h0M440.0 173.1h0M436.4 156.2h0M422.6 156.7h0M439.7 175.3h0M423.6 172.5h0M434.2 170.7h0M439.2 174.0h0M425.7 154.5h0M424.7 171.4h0M422.3 172.1h0M439.6 145.9h0M423.5 165.1h0M437.9 176.8h0M437.4 174.0h0M437.3 177.8h0M433.0 166.5h0M436.8 160.4h0M433.8 180.5h0M426.1 174.4h0M436.6 164.3h0M433.9 172.4h0M424.6 169.1h0M437.0 167.6h0M438.9 156.7h0M432.5 177.4h0M425.2 173.0h0M424.8 155.7h0M435.0 168.6h0M424.9 164.0h0M426.4 162.2h0M426.2 178.7h0M428.5 176.5h0M434.9 177.3h0M428.7 174.3h0M425.1 178.4h0M440.0 170.2h0M431.4 179.8h0M439.8 177.5h0M426.7 168.8h0M421.8 156.3h0M423.7 163.6h0M439.9 181.1h0M428.6 171.0h0M439.6 147.0h0M433.6 163.7h0M432.3 177.8h0M424.1 164.8h0M426.5 175.2h0M433.7 181.3h0M436.5 166.6h0M439.0 146.7h0M422.9 174.1h0M423.5 179.5h0M432.5 169.0h0M425.8 171.4h0M421.2 164.3h0M433.3 177.1h0M424.0 173.4h0M438.3 170.1h0M439.9 156.4h0M423.0 169.3h0M422.6 163.8h0M439.9 180.5h0M439.8 169.5h0M427.0 156.0h0M428.3 170.2h0M425.6 176.1h0M427.8 177.7h0M428.5 175.3h0M438.5 168.4h0M437.0 170.6h0M425.9 171.0h0M438.6 163.0h0M438.2 166.3h0M438.8 139.4h0M422.0 180.8h0M424.6 175.9h0M438.3 171.9h0M438.6 175.9h0M433.5 166.8h0M439.5 159.8h0M433.0 170.9h0M424.8 154.6h0M434.6 168.9h0M435.2 166.4h0M436.5 169.9h0M433.6 176.4h0M426.7 164.4h0M436.4 175.8h0M434.1 172.0h0M425.7 164.0h0M428.9 177.2h0M427.0 165.5h0M435.0 175.8h0M431.8 179.3h0M422.8 175.3h0M438.8 165.8h0M438.7 156.8h0M426.3 173.1h0M420.2 85.9h0M417.3 77.4h0M427.8 137.8h0M432.6 142.6h0M373.2 179.5h0" stroke="#b3b3b3" stroke-width="2.6" stroke-linecap="round" fill="none"/>
<path d="M407.1 169.1h0M394.1 179.3h0M410.5 161.7h0M406.2 164.3h0M403.0 179.6h0M409.2 163.8h0M403.9 180.4h0M407.4 168.8h0M405.3 180.3h0M393.6 180.4h0M419.9 163.7h0M420.1 177.2h0M412.1 179.4h0M412.6 170.5h0M390.9 180.8h0M408.1 168.8h0M407.0 162.3h0M412.8 161.0h0M418.6 174.3h0M409.4 173.6h0M392.8 180.0h0M402.0 164.6h0M410.2 166.8h0M408.3 179.3h0M400.0 181.0h0M395.5 179.6h0M405.3 173.9h0M401.8 178.6h0M390.6 179.6h0M394.3 176.9h0M419.1 179.1h0M392.7 177.6h0M402.2 180.1h0M396.2 176.5h0M400.9 168.9h0M399.0 176.7h0M392.6 178.6h0M394.5 170.4h0M407.0 163.8h0M410.4 168.4h0M409.0 174.4h0M405.3 167.9h0M412.1 171.4h0M404.1 168.4h0M420.8 166.8h0M390.6 172.0h0M401.9 179.6h0M420.7 178.1h0M419.0 180.7h0M406.8 179.8h0M399.6 180.9h0M412.4 174.3h0M410.7 173.0h0M404.2 178.3h0M419.4 156.6h0M394.9 169.7h0M394.2 175.5h0M398.7 179.5h0M409.6 176.8h0M397.6 179.2h0M404.6 170.8h0M399.0 181.0h0M416.7 174.8h0M419.4 159.2h0M403.9 172.0h0M391.7 178.3h0M420.1 155.7h0M420.7 161.6h0M418.4 166.3h0M416.9 179.3h0M415.5 167.9h0M415.1 178.8h0M409.5 171.9h0M396.7 168.9h0M405.6 165.2h0M414.5 180.8h0M412.9 159.7h0M400.7 160.2h0M415.3 176.1h0M408.7 162.0h0M411.0 180.7h0M397.1 176.7h0M406.0 178.3h0M395.9 180.4h0M394.7 171.7h0M404.2 170.4h0M407.7 172.4h0M420.6 168.7h0M395.2 180.1h0M406.8 181.0h0M415.5 174.0h0M416.2 156.0h0M401.0 175.4h0M420.8 170.2h0M400.7 180.5h0M418.2 178.6h0M404.2 166.2h0M416.6 173.6h0M410.8 180.5h0M405.3 179.3h0M415.3 161.3h0M419.7 181.0h0M405.4 147.0h0M413.9 161.7h0M393.2 170.2h0M404.0 174.0h0M391.2 180.0h0M412.8 163.0h0M400.1 177.3h0M406.8 175.5h0M406.1 180.8h0M393.2 169.0h0M414.3 168.9h0M410.7 179.6h0M392.1 170.2h0M407.6 170.2h0M396.5 173.8h0M418.0 173.9h0M398.4 175.3h0M413.2 171.0h0M397.7 176.3h0M408.9 160.6h0M414.4 173.9h0M419.6 156.9h0M420.3 166.5h0M414.8 163.1h0M418.6 170.0h0M401.8 177.3h0M418.0 172.8h0M393.9 163.7h0M419.5 175.6h0M416.3 177.1h0M420.1 161.1h0M413.0 163.5h0M410.5 178.7h0M412.7 151.7h0M398.3 168.9h0M414.6 178.1h0M408.2 156.8h0M409.9 173.8h0M416.1 175.2h0M417.9 160.2h0M407.8 180.0h0M401.1 180.8h0M418.9 178.4h0M417.5 180.3h0M405.6 165.6h0M420.4 158.4h0M408.1 181.1h0M414.9 181.0h0M409.8 170.5h0M417.8 177.2h0M413.7 158.0h0M404.5 178.0h0M394.5 178.9h0M412.4 181.0h0M396.6 181.0h0M404.9 169.9h0M420.2 176.1h0M419.8 174.7h0M416.4 175.5h0M398.1 167.8h0M412.1 173.2h0M420.7 173.1h0M405.5 168.3h0M420.8 179.7h0M412.1 180.8h0M413.0 158.9h0M395.7 177.9h0M416.4 177.4h0M399.2 179.1h0M412.1 165.2h0M403.3 177.1h0M418.8 167.3h0M415.0 175.2h0M419.1 163.3h0M416.7 157.1h0M414.5 162.0h0M399.6 171.0h0M413.5 180.0h0M420.8 153.9h0M418.1 154.6h0M415.5 172.7h0M402.5 167.5h0M420.5 159.7h0M397.5 176.2h0M392.6 172.4h0M419.8 179.2h0M420.0 157.1h0M400.7 170.9h0M409.3 181.0h0M416.6 180.0h0M418.6 158.9h0M390.6 172.4h0M399.6 177.8h0M414.7 145.8h0M391.1 173.0h0M417.5 179.0h0M410.0 176.8h0M420.4 167.6h0M420.2 155.1h0M393.1 178.9h0M393.3 160.4h0M403.9 169.3h0M395.6 176.6h0M408.8 167.1h0M414.2 158.8h0M416.6 165.5h0M400.8 178.1h0M419.1 161.3h0M393.9 169.4h0M413.0 176.5h0M403.2 160.6h0M409.1 179.3h0M405.9 176.7h0M411.7 173.5h0M395.1 168.6h0M404.2 167.7h0M413.8 150.0h0M418.3 167.9h0M399.1 150.9h0M420.6 180.7h0M416.0 170.1h0M417.8 171.9h0M395.1 181.0h0M417.5 162.3h0M397.1 171.3h0M414.3 152.3h0M415.2 172.3h0M411.5 176.0h0M414.9 171.2h0M409.2 168.0h0M416.9 155.5h0M407.5 180.8h0M399.5 174.0h0M397.1 172.2h0M403.8 163.9h0M392.7 167.4h0M391.6 179.4h0M412.7 165.6h0M392.8 181.0h0M391.3 171.4h0M394.7 175.9h0M411.7 179.2h0M411.6 165.7h0M408.6 163.9h0M411.9 177.2h0M401.3 173.3h0M411.0 162.6h0M414.4 165.3h0M401.8 171.9h0M405.8 169.5h0M400.6 179.5h0M406.0 173.8h0M400.6 164.8h0M417.1 162.3h0M399.2 175.2h0M393.8 174.8h0M415.9 171.4h0M411.0 170.6h0M418.0 157.8h0M420.8 180.8h0M398.5 176.7h0M396.3 175.3h0M404.7 119.2h0M403.1 175.7h0M420.8 166.1h0M393.5 170.0h0M414.9 164.0h0M413.8 176.7h0M393.5 178.1h0M413.4 166.4h0M416.4 172.9h0M414.3 176.3h0M413.2 178.4h0M395.6 165.3h0M419.9 170.3h0M408.2 172.1h0M390.5 175.1h0M410.7 171.7h0M399.7 171.4h0M414.6 167.4h0M397.3 173.9h0M410.5 164.2h0M418.9 177.2h0M413.9 165.3h0M402.7 169.3h0M416.2 180.8h0M405.4 170.1h0M397.7 167.6h0M415.7 179.5h0M419.4 169.3h0M379.4 179.8h0M380.3 177.8h0M388.5 180.8h0M404.7 171.3h0M407.8 110.1h0M395.6 139.8h0M389.6 178.2h0M357.6 154.7h0M371.0 98.1h0M393.6 145.2h0M419.7 162.9h0M419.3 160.5h0M420.5 168.9h0M399.2 151.4h0M412.5 150.9h0M409.0 180.7h0M402.6 163.2h0M396.3 146.6h0M402.0 59.3h0M377.1 110.0h0M392.4 110.0h0M402.0 120.9h0M379.9 126.9h0M402.9 133.0h0M407.7 130.6h0M386.6 139.0h0M376.1 143.8h0M380.9 148.7h0M370.3 178.9h0M381.8 178.9h0M420.2 112.4h0M419.2 136.6h0" stroke="#2c74b0" stroke-width="2.6" stroke-linecap="round" fill="none"/>
<path d="M459.6 178.5h0M460.1 176.7h0M440.6 167.2h0M440.7 153.9h0M444.1 177.3h0M440.7 174.0h0M457.4 141.8h0M442.6 154.4h0M441.4 177.7h0M450.6 174.2h0M449.9 179.6h0M448.9 157.3h0M446.8 172.5h0M446.4 156.5h0M458.0 180.0h0M452.0 166.7h0M449.4 160.9h0M454.1 165.6h0M442.4 148.2h0M454.6 170.4h0M445.3 177.7h0M446.3 160.5h0M452.8 170.8h0M444.6 164.7h0M441.5 157.9h0M452.3 169.5h0M443.2 180.5h0M454.3 178.4h0M446.1 177.2h0M442.9 170.7h0M463.3 180.4h0M453.8 180.2h0M445.5 179.8h0M443.2 166.3h0M455.5 163.5h0M458.7 173.6h0M463.9 177.5h0M441.2 163.0h0M450.8 162.5h0M454.5 168.0h0M446.9 164.0h0M461.2 178.1h0M463.6 179.2h0M453.0 176.6h0M443.5 164.9h0M443.7 177.9h0M449.6 162.6h0M452.2 171.8h0M441.2 170.4h0M450.1 165.9h0M451.2 180.4h0M453.4 172.5h0M454.8 175.9h0M460.3 169.2h0M452.0 170.5h0M442.1 165.0h0M442.0 176.0h0M458.6 170.5h0M453.0 173.5h0M456.4 176.8h0M458.3 166.1h0M445.6 142.7h0M446.3 154.9h0M462.4 173.4h0M461.1 180.9h0M442.5 178.6h0M443.8 163.0h0M443.8 167.7h0M441.0 152.8h0M448.1 179.2h0M444.8 165.9h0M443.2 173.6h0M461.0 177.2h0M453.6 169.4h0M441.5 150.0h0M449.8 169.2h0M446.5 180.0h0M451.1 174.4h0M449.3 181.1h0M456.5 130.7h0M456.2 148.4h0M457.4 176.9h0M446.4 181.0h0M441.3 151.4h0M458.0 178.3h0M451.6 172.3h0M454.7 163.9h0M443.5 175.7h0M442.9 175.0h0M449.2 179.4h0M457.9 169.6h0M447.4 171.3h0M445.5 169.1h0M463.0 176.9h0M448.9 164.5h0M445.6 161.4h0M461.6 178.0h0M440.9 180.7h0M452.7 163.3h0M441.9 156.4h0M448.4 179.9h0M444.3 180.4h0M444.8 171.0h0M440.6 177.1h0M459.0 144.2h0M443.8 176.8h0M459.0 180.4h0M459.6 173.6h0M459.0 171.9h0M446.7 159.0h0M457.8 174.1h0M456.3 168.1h0M440.7 174.9h0M443.4 158.0h0M442.6 181.0h0M446.2 154.4h0M442.5 160.7h0M459.5 170.8h0M464.2 175.2h0M463.4 168.5h0M454.3 162.6h0M448.8 175.1h0M453.5 171.9h0M447.4 160.4h0M463.7 173.3h0M440.8 163.5h0M458.6 181.0h0M450.3 179.9h0M460.0 180.5h0M446.9 170.1h0M448.8 163.6h0M456.7 176.0h0M448.9 163.2h0M447.9 165.4h0M451.8 173.7h0M455.1 172.8h0M451.3 161.0h0M459.3 166.3h0M442.1 180.3h0M460.5 165.8h0M445.5 180.7h0M444.1 157.4h0M447.4 180.3h0M453.2 180.4h0M444.7 92.0h0M463.1 170.2h0M463.0 173.6h0M444.3 179.2h0M462.5 177.6h0M457.0 180.0h0M443.1 179.3h0M447.8 176.6h0M444.6 169.4h0M455.5 166.0h0M448.4 172.7h0M453.3 154.2h0M458.6 167.4h0M444.8 158.8h0M440.6 179.6h0M449.2 171.4h0M448.9 166.6h0M441.6 122.0h0M441.5 176.2h0M452.4 180.8h0M461.7 172.1h0M442.6 152.3h0M462.1 170.0h0M443.0 164.0h0M442.2 176.7h0M453.1 176.4h0M454.7 172.3h0M450.9 167.3h0M445.3 155.7h0M441.4 128.1h0M444.3 176.3h0M463.0 172.4h0M463.3 175.0h0M450.1 159.7h0M441.0 156.4h0M451.4 181.0h0M457.8 158.5h0M443.7 173.2h0M454.0 167.2h0M455.2 177.6h0M448.0 159.4h0M441.3 181.0h0M457.6 181.0h0M448.8 170.1h0M449.4 161.2h0M446.2 157.9h0M464.2 180.0h0M448.9 169.0h0M451.6 181.0h0M461.6 179.7h0M456.3 178.1h0M459.7 179.5h0M441.8 169.0h0M458.0 153.0h0M463.4 169.2h0M448.6 159.2h0M458.0 165.5h0M462.2 180.4h0M461.1 175.7h0M450.1 178.2h0M462.6 178.3h0M445.5 159.4h0M463.4 175.7h0M461.0 179.0h0M443.3 157.5h0M450.6 179.7h0M456.0 181.0h0M443.5 168.1h0M446.4 166.6h0M445.2 177.3h0M451.8 161.5h0M448.8 175.5h0M446.9 176.5h0M443.9 168.6h0M458.0 174.8h0M441.7 179.0h0M461.7 175.1h0M454.9 178.3h0M440.8 151.0h0M444.4 163.4h0M440.8 165.2h0M444.0 181.0h0M442.6 168.1h0M464.1 169.1h0M447.0 178.9h0M461.4 168.0h0M448.2 168.7h0M452.9 178.1h0M443.8 172.0h0M459.1 162.9h0M447.3 161.2h0M441.9 153.0h0M463.9 171.4h0M444.5 156.4h0M442.2 150.8h0M444.7 148.7h0M443.5 159.3h0M456.5 160.2h0M442.4 173.6h0M460.5 174.6h0M460.1 175.5h0M444.5 159.1h0M442.4 159.4h0M446.2 162.9h0M447.9 175.4h0M452.0 165.9h0M444.7 160.4h0M444.5 161.4h0M461.8 172.8h0M459.1 178.9h0M450.7 164.1h0M455.2 180.9h0M440.9 155.5h0M455.5 179.7h0M459.9 167.6h0M454.5 174.7h0M447.2 169.2h0M445.3 150.2h0M442.9 151.3h0M458.2 178.2h0M455.0 176.4h0M461.5 161.6h0M445.4 174.1h0M458.8 172.5h0M444.9 142.1h0M447.7 158.9h0M444.7 173.1h0M453.1 179.4h0M453.9 169.9h0M449.6 177.1h0M455.4 162.0h0M445.2 181.0h0M443.1 156.6h0M455.7 160.7h0M459.2 177.2h0M461.4 173.5h0M451.4 168.1h0M448.7 178.6h0M457.5 170.1h0M461.0 170.1h0M448.7 158.0h0M449.8 176.4h0M440.6 169.7h0M457.6 178.9h0M453.5 175.1h0M456.5 169.8h0M449.7 164.9h0M449.6 157.0h0M442.4 162.6h0M463.5 147.8h0M444.5 172.0h0M445.9 155.2h0M470.7 176.5h0M467.6 179.7h0M493.6 155.3h0M478.2 181.0h0M452.1 176.2h0M457.8 147.5h0M454.8 137.2h0M452.1 174.9h0M442.0 170.7h0M481.0 174.6h0M441.2 77.4h0M451.8 75.0h0M463.3 78.6h0M451.8 87.1h0M441.2 113.6h0M447.9 113.6h0M451.8 124.5h0M457.5 130.6h0M464.2 133.0h0M477.6 151.1h0M468.1 151.1h0M473.8 168.0h0M478.6 171.6h0" stroke="#e39a31" stroke-width="2.6" stroke-linecap="round" fill="none"/>
<line x1="421.1" y1="51.1" x2="421.1" y2="203.4" stroke="#000" stroke-width="1.35" stroke-dasharray="6 6.2"/>
<line x1="440.3" y1="51.1" x2="440.3" y2="203.4" stroke="#000" stroke-width="1.35" stroke-dasharray="6 6.2"/>
<line x1="357.5" y1="181.3" x2="498" y2="181.3" stroke="#000" stroke-width="1.35" stroke-dasharray="6 6.2"/>
<text x="358.1" y="47" font-size="9.9" fill="#1a1a1a">Li-NR vs. Ctrl</text>
<text x="431.1" y="223.7" font-size="10" text-anchor="middle" fill="#1a1a1a">log2(Fold Change)</text>
<line x1="272.3" y1="566.1" x2="272.3" y2="742.7" stroke="#e9e9e9" stroke-width="1.1"/>
<line x1="300" y1="566.1" x2="300" y2="742.7" stroke="#e9e9e9" stroke-width="1.1"/>
<line x1="327.7" y1="566.1" x2="327.7" y2="742.7" stroke="#e9e9e9" stroke-width="1.1"/>
<line x1="355.3" y1="566.1" x2="355.3" y2="742.7" stroke="#e9e9e9" stroke-width="1.1"/>
<line x1="383" y1="566.1" x2="383" y2="742.7" stroke="#e9e9e9" stroke-width="1.1"/>
<line x1="410.7" y1="566.1" x2="410.7" y2="742.7" stroke="#e9e9e9" stroke-width="1.1"/>
<line x1="257.5" y1="713.9" x2="427" y2="713.9" stroke="#e9e9e9" stroke-width="1.1"/>
<line x1="257.5" y1="673.3" x2="427" y2="673.3" stroke="#e9e9e9" stroke-width="1.1"/>
<line x1="257.5" y1="632.7" x2="427" y2="632.7" stroke="#e9e9e9" stroke-width="1.1"/>
<line x1="257.5" y1="592.1" x2="427" y2="592.1" stroke="#e9e9e9" stroke-width="1.1"/>
<line x1="258.5" y1="566.1" x2="258.5" y2="742.7" stroke="#e5e5e5" stroke-width="1.3"/>
<line x1="286.1" y1="566.1" x2="286.1" y2="742.7" stroke="#e5e5e5" stroke-width="1.3"/>
<line x1="313.8" y1="566.1" x2="313.8" y2="742.7" stroke="#e5e5e5" stroke-width="1.3"/>
<line x1="341.5" y1="566.1" x2="341.5" y2="742.7" stroke="#e5e5e5" stroke-width="1.3"/>
<line x1="369.2" y1="566.1" x2="369.2" y2="742.7" stroke="#e5e5e5" stroke-width="1.3"/>
<line x1="396.9" y1="566.1" x2="396.9" y2="742.7" stroke="#e5e5e5" stroke-width="1.3"/>
<line x1="424.5" y1="566.1" x2="424.5" y2="742.7" stroke="#e5e5e5" stroke-width="1.3"/>
<line x1="257.5" y1="734.2" x2="427" y2="734.2" stroke="#e5e5e5" stroke-width="1.3"/>
<line x1="257.5" y1="693.6" x2="427" y2="693.6" stroke="#e5e5e5" stroke-width="1.3"/>
<line x1="257.5" y1="653" x2="427" y2="653" stroke="#e5e5e5" stroke-width="1.3"/>
<line x1="257.5" y1="612.4" x2="427" y2="612.4" stroke="#e5e5e5" stroke-width="1.3"/>
<line x1="257.5" y1="571.8" x2="427" y2="571.8" stroke="#e5e5e5" stroke-width="1.3"/>
<text x="256.5" y="737.1" font-size="8.0" text-anchor="end" fill="#777">0</text>
<text x="256.5" y="696.5" font-size="8.0" text-anchor="end" fill="#777">2</text>
<text x="256.5" y="655.9" font-size="8.0" text-anchor="end" fill="#777">4</text>
<text x="256.5" y="615.3" font-size="8.0" text-anchor="end" fill="#777">6</text>
<text x="256.5" y="574.7" font-size="8.0" text-anchor="end" fill="#777">8</text>
<text x="259" y="750.2" font-size="8.0" text-anchor="middle" fill="#777">−7.5</text>
<text x="286.6" y="750.2" font-size="8.0" text-anchor="middle" fill="#777">−5.0</text>
<text x="314.3" y="750.2" font-size="8.0" text-anchor="middle" fill="#777">−2.5</text>
<text x="342" y="750.2" font-size="8.0" text-anchor="middle" fill="#777">0.0</text>
<text x="369.7" y="750.2" font-size="8.0" text-anchor="middle" fill="#777">2.5</text>
<text x="397.4" y="750.2" font-size="8.0" text-anchor="middle" fill="#777">5.0</text>
<text x="425" y="750.2" font-size="8.0" text-anchor="middle" fill="#777">7.5</text>
<path d="M316.6 719.2h0M312.9 715.2h0M307.4 710.0h0M317.9 713.8h0M323.8 725.0h0M336.5 726.1h0M333.8 721.6h0M373.5 716.6h0M338.0 718.3h0M354.5 708.0h0M346.0 711.3h0M367.3 722.6h0M333.6 712.3h0M361.3 707.9h0M313.1 712.6h0M332.1 716.8h0M311.9 708.5h0M336.9 712.2h0M315.8 721.2h0M368.2 718.4h0M331.9 723.1h0M335.5 711.8h0M366.2 711.6h0M324.1 727.8h0M323.7 718.1h0M373.1 719.5h0M309.9 711.5h0M327.7 710.1h0M353.2 719.8h0M375.5 710.4h0M308.7 711.3h0M321.9 720.8h0M334.8 728.1h0M383.5 709.6h0M358.4 709.7h0M345.8 721.7h0M322.0 711.9h0M368.8 715.4h0M333.7 717.5h0M380.4 709.4h0M308.5 710.0h0M323.2 727.0h0M337.0 711.0h0M362.7 711.3h0M347.1 712.4h0M329.1 728.9h0M326.9 708.8h0M331.9 711.4h0M366.8 713.6h0M351.2 710.8h0M376.6 712.9h0M314.1 711.3h0M382.2 708.5h0M375.4 715.1h0M325.8 710.8h0M371.2 709.0h0M321.4 723.6h0M319.3 719.3h0M309.3 710.4h0M338.5 719.6h0M318.0 718.4h0M370.7 721.6h0M376.3 711.9h0M378.7 712.6h0M368.6 712.8h0M354.2 710.1h0M307.6 707.9h0M350.5 721.1h0M311.4 712.8h0M328.5 723.4h0M361.2 723.3h0M363.5 713.8h0M360.4 712.9h0M316.5 708.2h0M383.2 709.4h0M361.0 725.3h0M357.4 729.3h0M324.6 724.1h0M314.0 718.6h0M379.0 713.3h0M372.5 708.8h0M337.6 734.4h0M308.8 709.7h0M330.6 715.7h0M351.7 725.3h0M370.6 715.1h0M366.0 707.8h0M382.1 710.5h0M384.3 707.9h0M354.7 726.8h0M325.3 728.3h0M356.8 714.3h0M306.8 708.9h0M349.0 716.9h0M312.7 718.0h0M356.5 710.1h0M307.2 711.9h0M315.9 716.2h0M323.8 722.0h0M359.6 718.5h0M346.4 724.6h0M340.8 726.9h0M355.1 731.0h0M308.0 711.4h0M372.0 716.6h0M378.8 709.2h0M361.3 714.6h0M372.1 709.3h0M359.1 715.5h0M381.0 708.1h0M371.9 714.2h0M337.6 710.8h0M323.9 713.3h0M345.7 710.2h0M355.2 715.6h0M360.7 718.6h0M370.7 715.8h0M364.8 723.5h0M316.1 718.5h0M355.5 709.7h0M329.6 720.9h0M374.5 713.1h0M311.6 715.8h0M351.2 729.2h0M324.2 718.3h0M309.0 712.4h0M371.6 717.2h0M371.5 719.5h0M361.4 711.0h0M342.6 724.3h0M346.9 714.9h0M325.4 716.6h0M364.5 708.6h0M348.9 715.5h0M317.4 712.2h0M365.7 722.4h0M360.9 728.0h0M359.5 724.6h0M310.7 714.8h0M314.0 720.1h0M328.6 710.4h0M364.6 712.9h0M308.6 713.9h0M369.6 717.9h0M360.1 724.3h0M363.5 718.0h0M360.5 722.9h0M324.5 713.6h0M312.9 710.3h0M325.9 711.8h0M370.2 719.4h0M345.7 708.2h0M373.1 718.3h0M353.4 727.9h0M363.0 708.6h0M312.3 716.2h0M360.8 726.3h0M321.3 720.8h0M323.7 722.9h0M331.0 711.1h0M304.6 708.2h0M324.5 715.4h0M309.3 714.7h0M365.5 724.9h0M377.8 712.9h0M315.2 720.8h0M363.2 726.4h0M370.0 709.7h0M333.0 722.7h0M377.9 710.6h0M352.1 708.7h0M379.7 711.6h0M355.4 713.9h0M355.9 720.5h0M372.4 712.4h0M378.4 714.8h0M319.3 715.9h0M320.3 707.9h0M366.6 723.8h0M323.4 717.6h0M313.7 711.3h0M332.1 725.8h0M316.8 718.3h0M357.4 712.9h0M353.5 725.3h0M314.5 710.4h0M310.0 713.1h0M306.1 709.6h0M338.9 710.2h0M355.3 726.6h0M336.8 730.2h0M316.9 717.7h0M310.1 708.4h0M366.1 714.8h0M352.3 732.4h0M331.9 711.1h0M367.0 713.8h0M362.3 727.2h0M326.3 709.3h0M336.5 729.4h0M366.5 719.7h0M360.9 709.0h0M345.2 723.5h0M377.3 713.8h0M315.2 717.3h0M322.5 715.7h0M334.4 722.9h0M375.7 711.1h0M324.4 722.0h0M340.7 712.0h0M305.3 710.2h0M321.4 724.5h0M315.4 719.2h0M379.2 710.6h0M304.1 709.0h0M373.4 715.4h0M354.1 713.4h0M356.8 725.6h0M314.6 709.2h0M320.6 717.6h0M369.9 713.5h0M317.4 707.9h0M326.5 715.7h0M317.7 710.1h0M359.9 721.9h0M355.5 708.0h0M347.4 726.1h0M369.7 714.8h0M318.1 721.6h0M345.6 733.5h0M319.4 711.9h0M326.7 722.0h0M367.8 722.1h0M334.8 708.6h0M330.1 708.7h0M376.8 708.0h0M348.1 719.4h0M324.4 725.6h0M320.4 723.6h0M317.7 715.6h0M320.5 711.5h0M370.0 712.8h0M329.3 714.7h0M329.4 712.7h0M381.2 709.4h0M311.8 709.4h0M353.9 729.4h0M342.0 731.1h0M375.2 717.9h0M345.2 720.7h0M371.5 713.0h0M305.1 709.4h0M359.7 715.0h0M352.4 729.1h0M375.9 714.4h0M351.3 730.1h0M332.4 721.3h0M344.1 727.4h0M328.7 708.6h0M363.8 713.8h0M372.7 714.4h0M366.7 718.7h0M346.8 720.4h0M370.5 718.2h0M378.5 712.1h0M326.2 716.8h0M344.3 710.8h0M353.0 731.8h0M314.2 712.4h0M308.3 711.0h0M337.4 730.0h0M336.1 734.3h0M348.8 717.8h0M315.8 712.7h0M327.5 708.6h0M352.8 726.9h0M356.9 711.6h0M354.7 725.4h0M373.8 710.3h0M344.3 710.0h0M347.7 732.8h0M364.1 721.1h0M356.1 722.2h0M368.2 721.5h0M349.0 724.0h0M373.5 708.0h0M355.9 728.6h0M368.5 714.0h0M318.6 712.8h0M360.9 717.5h0M342.1 712.0h0M360.5 710.1h0M320.8 717.4h0M332.0 724.2h0M351.8 720.6h0M356.7 719.8h0M305.4 708.3h0M338.3 723.6h0M316.3 709.9h0M373.8 709.6h0M344.4 724.5h0M384.6 708.7h0M332.3 730.0h0M331.8 732.2h0M367.7 712.2h0M377.8 715.9h0M328.0 709.2h0M376.0 716.6h0M340.4 725.3h0M324.0 720.5h0M350.8 719.4h0M309.7 710.8h0M342.8 712.4h0M349.0 720.9h0M359.1 726.4h0M335.2 731.8h0M363.9 709.7h0M366.9 714.8h0M376.1 708.6h0M339.2 726.7h0M347.6 723.2h0M317.8 717.5h0M331.1 708.9h0M366.5 708.5h0M371.0 712.3h0M354.5 729.9h0M347.5 711.1h0M375.5 709.9h0M380.5 711.2h0M332.7 709.0h0M308.1 712.3h0M365.7 711.2h0M364.3 716.0h0M347.2 726.8h0M318.9 709.2h0M358.1 710.1h0M306.2 711.6h0M310.3 709.3h0M322.2 726.4h0M363.3 722.3h0M317.3 715.1h0M322.1 709.6h0M353.2 732.7h0M330.0 730.8h0M356.2 728.9h0M319.7 715.2h0M361.4 717.1h0M313.6 715.7h0M373.3 712.1h0M353.7 715.9h0M356.1 718.1h0M318.8 724.3h0M333.4 718.7h0M332.8 732.7h0M373.3 716.1h0M372.6 710.5h0M328.2 726.7h0M379.7 709.9h0M329.4 721.8h0M363.3 717.7h0M323.5 725.7h0M331.5 725.4h0M312.6 717.7h0M351.4 713.9h0M380.7 712.3h0M330.6 711.5h0M355.3 712.6h0M379.5 707.9h0M334.6 714.3h0M319.6 716.6h0M354.0 720.8h0M379.0 714.2h0M338.0 731.4h0M327.1 719.6h0M329.5 716.9h0M332.8 726.6h0M326.5 724.5h0M319.0 720.6h0M377.0 711.3h0M351.2 725.5h0M322.0 721.3h0M340.0 733.8h0M311.7 711.1h0M346.1 726.0h0M319.5 722.4h0M343.3 715.5h0M370.3 720.4h0M366.2 709.6h0M375.1 712.3h0M332.9 715.5h0M369.7 710.8h0M352.8 714.5h0M380.3 710.2h0M349.4 714.7h0M356.4 708.1h0M335.1 728.9h0M364.4 717.9h0M334.1 725.4h0M368.7 708.2h0M335.3 723.9h0M338.2 725.1h0M364.3 717.6h0M317.1 721.1h0M360.1 717.4h0M353.9 714.8h0M315.6 709.6h0M320.9 714.3h0M363.4 725.3h0M373.6 719.2h0M360.4 712.0h0M311.5 716.8h0M363.8 715.5h0M357.7 709.5h0M334.7 716.2h0M337.2 729.8h0M313.2 715.2h0M334.7 718.8h0M354.2 721.2h0M369.5 716.5h0M321.5 722.7h0M375.5 711.8h0M358.3 717.3h0M327.2 720.5h0M306.6 711.0h0M322.2 714.8h0M335.1 707.8h0M335.4 722.2h0M345.1 723.1h0M340.8 721.8h0M333.4 710.3h0M325.4 724.4h0M333.2 713.8h0M321.0 713.3h0M355.7 730.1h0M331.2 724.1h0M335.6 714.3h0M338.1 728.4h0M377.9 708.3h0M311.1 708.7h0M332.2 720.7h0M323.1 711.0h0M377.3 714.9h0M323.5 721.0h0M338.0 714.8h0M340.3 712.5h0M342.9 731.3h0M312.0 711.4h0M366.6 721.0h0M329.2 728.7h0M362.5 723.3h0M369.2 722.2h0M349.8 723.7h0M323.4 708.7h0M333.2 719.0h0M367.8 718.8h0M330.5 726.9h0M327.9 717.7h0M312.9 713.4h0M356.1 727.0h0M336.4 727.1h0M327.9 713.2h0M308.1 713.5h0M377.7 710.6h0M314.5 720.4h0M364.9 710.9h0M365.4 712.5h0M317.3 711.9h0M334.6 732.2h0M363.7 710.6h0M346.0 711.0h0M346.7 719.5h0M355.0 717.1h0M347.4 731.3h0M329.5 713.6h0M313.7 708.6h0M350.1 720.0h0M322.0 712.9h0M380.7 707.8h0M378.7 713.9h0M317.5 719.3h0M382.4 708.7h0M347.6 723.7h0M355.5 722.1h0M382.5 710.3h0M373.3 716.8h0M374.8 717.7h0M368.3 719.3h0M375.3 714.3h0M316.2 714.0h0M348.2 721.6h0M333.1 730.7h0M314.6 715.5h0M339.2 714.9h0M323.8 716.2h0M366.6 721.5h0M304.1 708.0h0M325.2 721.4h0M317.0 714.0h0M352.9 707.8h0M316.7 715.9h0M314.9 719.6h0M357.7 708.7h0M351.2 724.1h0M333.7 728.2h0M361.8 718.9h0M338.6 717.5h0M382.3 711.2h0M358.3 707.9h0M383.7 707.8h0M316.7 713.1h0M362.6 712.4h0M334.3 715.1h0M334.8 727.3h0M318.6 714.5h0M362.3 720.5h0M362.5 711.0h0M366.9 709.8h0M331.4 722.4h0M331.5 720.4h0M310.8 714.8h0M368.3 722.3h0M313.2 711.1h0M345.6 715.5h0M350.3 727.3h0M310.6 715.6h0M334.5 719.4h0M330.5 731.4h0M342.1 716.4h0M375.0 708.4h0M370.6 717.3h0M372.1 710.7h0M313.5 717.4h0M347.1 717.1h0M323.0 714.4h0M335.9 732.7h0M335.4 710.6h0M340.6 734.6h0M373.9 714.5h0M354.6 716.7h0M328.6 720.5h0M346.7 707.8h0M309.5 707.8h0M364.4 723.6h0M370.2 708.6h0M356.6 721.6h0M357.8 715.8h0M369.5 720.4h0M339.0 721.8h0M362.4 722.0h0M328.7 715.9h0M357.4 727.4h0M351.6 717.0h0M335.6 720.8h0M315.2 712.2h0M324.6 719.8h0M365.5 715.8h0M338.2 716.2h0M359.9 728.9h0M326.4 711.8h0M353.3 722.1h0M353.6 711.9h0M369.5 719.9h0M320.6 724.4h0M322.3 708.1h0M348.2 712.2h0M325.1 722.5h0M325.8 714.4h0M328.9 709.1h0M318.2 722.4h0M376.7 714.6h0M326.5 723.7h0M316.4 720.3h0M319.8 718.0h0M374.3 717.1h0M371.2 714.2h0M326.5 725.9h0M367.3 724.7h0M352.3 731.7h0M357.0 724.8h0M324.4 708.6h0M332.1 712.6h0M362.6 727.3h0M322.6 722.4h0M325.5 720.3h0M314.6 713.6h0M360.0 710.1h0M329.0 722.3h0M357.2 728.5h0M355.6 728.4h0M347.9 730.2h0M309.4 708.8h0M372.2 718.5h0M361.3 719.9h0M375.3 716.1h0M359.1 722.3h0M371.0 712.2h0M321.8 723.3h0M342.5 717.2h0M311.1 711.6h0M351.2 720.2h0M346.4 717.7h0M374.5 707.8h0M324.8 710.7h0M331.6 714.8h0M352.5 710.9h0M366.2 722.8h0M313.0 707.8h0M368.6 716.3h0M357.7 724.3h0M348.8 727.9h0M344.5 733.5h0M361.5 718.4h0M355.1 720.2h0M326.6 710.2h0M336.2 710.0h0M356.9 712.6h0M335.6 719.0h0M325.6 727.2h0M352.1 727.3h0M344.2 714.3h0M338.3 733.8h0M322.8 718.6h0M365.4 720.5h0M325.4 712.9h0M361.6 711.4h0M358.2 711.7h0M359.1 728.4h0M326.5 717.9h0M320.3 713.7h0M348.8 716.4h0M381.5 711.5h0M336.4 712.5h0M375.8 717.0h0M351.0 711.2h0M342.9 711.4h0M305.1 710.1h0M362.0 724.6h0M353.8 726.2h0M331.5 729.4h0M319.7 712.8h0M333.9 730.7h0M349.1 732.6h0M322.3 714.0h0M353.8 709.9h0M310.7 714.3h0M359.1 719.5h0M346.8 732.0h0M358.9 713.6h0M351.6 714.2h0M347.2 708.7h0M342.1 730.8h0M340.7 711.1h0M349.4 710.2h0M329.9 722.5h0M329.8 719.1h0M359.1 720.2h0M312.2 712.6h0M314.3 716.9h0M316.0 710.8h0M335.6 733.2h0M362.4 714.5h0M328.5 730.0h0M330.2 729.7h0M351.1 710.0h0M342.7 716.8h0M348.6 725.3h0M362.1 712.6h0M317.5 709.4h0M350.1 722.8h0M325.1 715.2h0M345.4 712.3h0M328.1 713.7h0M344.1 717.9h0M356.6 716.2h0M341.9 710.2h0M328.9 727.6h0M317.7 715.1h0M359.1 729.3h0M338.2 719.1h0M335.3 716.3h0M351.8 716.2h0M367.0 719.0h0M313.2 714.2h0M357.8 719.0h0M330.1 710.3h0M339.6 710.3h0M333.9 725.6h0M359.6 728.2h0M315.0 716.1h0M325.5 709.5h0M370.0 721.1h0M368.4 710.4h0M371.7 715.4h0M346.4 730.5h0M365.0 726.1h0M368.8 720.3h0M349.8 729.8h0M313.6 719.1h0M361.6 723.4h0M353.4 729.0h0M331.4 712.5h0M336.2 732.2h0M338.9 730.1h0M372.0 708.1h0M350.8 715.9h0M334.3 713.1h0M329.7 716.2h0M336.9 708.1h0M320.8 708.0h0M356.0 730.4h0M348.0 729.6h0M324.9 709.3h0M355.7 718.0h0M364.0 726.3h0M327.3 726.0h0M362.5 727.8h0M360.6 726.8h0M349.3 717.6h0M338.9 731.2h0M358.3 712.5h0M334.6 731.6h0M326.7 713.7h0M352.9 710.6h0M371.5 720.8h0M321.2 715.5h0M323.9 728.5h0M340.8 718.6h0M355.4 710.2h0M373.7 718.8h0M319.4 708.3h0M353.6 718.1h0M327.5 721.8h0M361.5 725.9h0M366.2 716.6h0M331.8 716.1h0M337.9 722.9h0M339.0 720.5h0M321.7 721.9h0M322.6 719.0h0M337.6 714.1h0M372.7 709.9h0M354.8 711.4h0M321.2 726.4h0M340.5 725.0h0M350.5 731.9h0M324.5 728.9h0M327.2 727.0h0M377.6 709.2h0M350.8 725.2h0M361.1 713.7h0M364.2 726.7h0M334.3 709.6h0M306.4 707.8h0M333.1 729.5h0M376.2 709.9h0M370.2 722.2h0M332.4 728.6h0M343.7 730.6h0M347.3 718.3h0M372.2 711.4h0M320.1 722.4h0M357.6 714.8h0M344.3 717.1h0M354.4 731.8h0M327.4 718.4h0M347.3 714.5h0M364.2 722.3h0M365.2 718.2h0M331.7 731.7h0M355.3 723.8h0M355.3 714.5h0M319.5 725.1h0M334.8 733.3h0M356.8 717.2h0M339.7 709.2h0M321.8 710.5h0M363.4 709.8h0M345.0 712.1h0M318.0 720.2h0M320.8 719.2h0M344.5 720.2h0M327.9 711.4h0M341.2 720.6h0M328.4 718.4h0M319.2 718.0h0M339.9 734.6h0M325.8 708.5h0M315.8 707.8h0M329.7 709.8h0M330.7 717.4h0M373.8 713.6h0M342.5 725.2h0M348.0 720.9h0M330.5 721.8h0M359.0 716.0h0M360.8 716.1h0M345.4 713.5h0M379.0 714.5h0M352.7 730.8h0M335.8 718.3h0M359.9 708.3h0M353.6 723.6h0M353.1 716.9h0M325.8 718.8h0M329.4 724.6h0M367.2 708.4h0M339.5 727.2h0M331.3 718.4h0M358.9 723.8h0M358.8 727.4h0M318.5 721.1h0M365.4 713.8h0M312.6 709.7h0M363.6 719.5h0M327.4 724.5h0M350.1 719.2h0M320.5 709.8h0M320.8 711.5h0M362.3 713.4h0M367.4 723.5h0M345.9 716.6h0M341.6 715.4h0M340.9 712.7h0M356.6 724.9h0M333.6 708.8h0M359.6 727.3h0M362.7 720.6h0M322.5 727.0h0M336.9 727.7h0M335.5 714.9h0M336.2 716.2h0M367.5 720.0h0M319.6 721.3h0M317.3 722.6h0M321.5 710.0h0M348.4 726.1h0M328.1 719.2h0M365.3 708.7h0M368.9 710.0h0M328.0 730.9h0M326.5 728.2h0M333.3 725.9h0M369.3 716.7h0M331.1 713.8h0M335.3 707.9h0M343.2 709.8h0M323.0 711.2h0M338.9 729.1h0M345.1 731.6h0M330.9 709.7h0M346.4 727.1h0M317.4 713.1h0M355.9 731.2h0M328.9 717.6h0M348.7 728.9h0M357.0 722.5h0M309.6 715.6h0M379.8 707.8h0M350.6 716.7h0M346.8 718.3h0M355.2 729.7h0M336.6 713.6h0M330.4 727.9h0M354.5 723.7h0M338.2 720.2h0M364.7 721.6h0M332.5 725.2h0M344.1 715.9h0M316.4 707.8h0M332.1 714.5h0M371.5 721.5h0M360.0 716.1h0M337.1 732.0h0M363.3 715.9h0M370.2 710.2h0M321.8 717.4h0M368.2 711.7h0M320.8 715.6h0M326.8 722.3h0M338.0 732.1h0M357.5 730.5h0M349.6 725.3h0M357.4 721.5h0M338.6 718.2h0M364.7 715.0h0M307.6 707.8h0M324.8 713.2h0M329.3 714.3h0M338.5 713.1h0M359.8 722.3h0M329.7 723.9h0M365.5 718.9h0M359.3 719.0h0M332.0 726.8h0M327.6 720.4h0M358.0 725.9h0M367.9 712.7h0M323.7 709.3h0M339.4 729.3h0M354.2 728.0h0M353.3 722.2h0M344.8 726.2h0M331.4 730.1h0M359.7 709.1h0M332.7 719.2h0M330.9 727.4h0M358.9 721.3h0M324.2 716.3h0M304.6 707.8h0M364.5 720.4h0M335.2 727.5h0M357.0 713.9h0M334.6 710.1h0M348.5 722.6h0M330.6 732.4h0M331.5 719.0h0M353.6 720.8h0M322.8 725.1h0M353.9 719.6h0M349.7 721.3h0M314.7 708.0h0M368.9 717.0h0M323.0 723.6h0M346.6 716.5h0M325.9 717.3h0M349.8 713.1h0M352.3 728.4h0M349.2 710.6h0M341.1 708.3h0M350.7 726.8h0M345.2 719.8h0M326.6 729.4h0M343.5 708.1h0M323.4 715.2h0M335.2 722.0h0M341.1 732.1h0M348.9 731.0h0M357.4 712.2h0M366.1 712.7h0M336.6 724.9h0M359.5 725.9h0M369.9 711.3h0M307.0 712.4h0M324.4 712.1h0M320.5 711.0h0M352.3 718.0h0M374.2 712.1h0M331.5 728.2h0M341.4 709.5h0M343.3 734.8h0M365.8 725.2h0M368.5 723.7h0M342.0 713.3h0M340.3 732.0h0M333.7 724.3h0M351.0 708.0h0M316.5 710.1h0M352.6 715.8h0M340.0 711.6h0M340.7 714.1h0M335.7 709.5h0M365.3 717.1h0M355.5 725.8h0M342.9 727.7h0M351.5 724.1h0M333.2 724.8h0M333.6 720.3h0M354.2 707.8h0M361.4 716.0h0M354.3 718.6h0M338.6 709.7h0M318.5 717.0h0M351.5 712.3h0M337.5 707.9h0M351.8 725.7h0M348.3 727.4h0M311.5 713.9h0M336.4 723.1h0M339.7 732.3h0M347.5 711.8h0M366.3 710.5h0M337.2 712.7h0M366.3 717.5h0M350.3 725.6h0M315.4 714.7h0M329.7 714.6h0M345.5 728.4h0M383.1 707.8h0M350.0 732.3h0M348.0 716.0h0M346.8 713.4h0M335.6 725.1h0M336.2 714.5h0M380.3 713.4h0M358.0 717.8h0M352.5 721.2h0M354.4 722.4h0M328.1 714.8h0M326.6 715.2h0M318.8 710.4h0M350.6 732.3h0M314.0 709.9h0M327.2 730.0h0M345.4 717.9h0M325.8 723.4h0M325.0 722.7h0M360.5 720.5h0M343.0 724.7h0M346.1 721.6h0M316.2 708.1h0M340.4 716.3h0M384.6 707.8h0M331.6 731.3h0M367.0 710.8h0M338.9 722.5h0M345.9 730.0h0M352.8 726.1h0M343.2 721.7h0M350.4 723.2h0M350.3 714.1h0M348.3 714.0h0M359.0 725.2h0M361.8 707.9h0M314.3 718.6h0M338.9 734.5h0M338.3 726.3h0M346.8 727.8h0M343.4 726.5h0M341.2 733.4h0M339.8 715.3h0M339.4 720.5h0M337.0 717.3h0M344.4 729.6h0M344.4 730.6h0M334.4 729.8h0M351.1 715.1h0M351.0 717.8h0M330.4 713.0h0M338.2 710.0h0M325.6 725.7h0M362.8 719.6h0M340.7 714.8h0M343.0 714.0h0M319.2 713.7h0M328.2 716.1h0M330.5 726.4h0M330.1 724.9h0M384.6 713.8h0M385.9 710.2h0M380.7 718.6h0M380.5 719.5h0M387.9 712.0h0M308.2 721.8h0M299.3 713.4h0M384.1 715.9h0M387.7 710.8h0M308.0 716.9h0M377.9 719.9h0M302.9 713.9h0M304.4 717.6h0M380.7 717.1h0M301.0 710.2h0M303.6 711.4h0M383.5 714.6h0M314.7 722.8h0M312.1 722.0h0M377.3 718.6h0M337.0 703.5h0M335.6 706.4h0M331.5 697.7h0M347.3 705.5h0M334.6 706.8h0M343.8 707.8h0M341.1 699.6h0M350.8 694.5h0M342.4 706.8h0M335.8 695.2h0M352.1 699.1h0M339.6 674.5h0M332.3 705.1h0M347.1 700.2h0M349.6 703.9h0M341.0 690.9h0M351.7 698.4h0M348.0 704.5h0M338.1 700.1h0M347.1 702.5h0M352.1 689.6h0M336.1 700.5h0M337.7 705.6h0M345.7 701.7h0M351.3 707.1h0M332.2 707.4h0M339.2 695.7h0M339.4 701.0h0M334.8 703.2h0M347.4 688.2h0M345.4 704.1h0M340.1 698.8h0M336.8 707.7h0M338.0 695.8h0M331.1 689.9h0M332.0 706.7h0M336.9 705.0h0M348.4 696.3h0M341.2 704.0h0M348.7 701.1h0M345.0 687.8h0M343.0 695.0h0M332.8 703.7h0M335.3 704.2h0M334.7 702.3h0M351.9 702.9h0M348.2 690.6h0M343.4 707.7h0M336.0 700.1h0M351.4 703.3h0M338.3 684.9h0M341.9 705.6h0M333.1 694.5h0M339.5 701.3h0M337.9 697.6h0M346.9 704.2h0M341.7 688.2h0M344.5 696.1h0M334.7 677.9h0M335.7 701.0h0M349.0 706.3h0M335.6 698.8h0M349.8 700.5h0M339.9 699.6h0M349.3 700.0h0M346.9 703.3h0M345.1 697.2h0M339.6 695.1h0M331.9 703.9h0M338.8 694.6h0M332.9 692.4h0M344.0 698.8h0M340.0 706.3h0M333.2 705.5h0M340.7 694.2h0M336.7 706.2h0M341.4 700.5h0M336.4 700.1h0M333.3 698.5h0M336.6 695.6h0M345.7 705.9h0M348.5 685.1h0M338.6 705.6h0M339.0 706.0h0M337.5 693.3h0M342.7 705.0h0M338.6 704.4h0M340.0 703.3h0M331.5 706.8h0M333.1 700.1h0M345.9 694.3h0M336.3 696.6h0M334.4 704.2h0M330.8 680.9h0M343.1 699.0h0M340.8 698.6h0M337.3 707.1h0M346.4 705.7h0M350.4 704.7h0M349.3 703.4h0M340.9 702.7h0M337.6 703.2h0M347.0 696.4h0M330.8 695.4h0M347.0 704.7h0M352.3 707.4h0M346.7 699.3h0M344.2 706.6h0M347.7 705.7h0M352.4 704.4h0M346.5 701.1h0M332.1 701.6h0M342.4 696.5h0M342.9 703.3h0M343.0 692.0h0M338.0 704.1h0M333.9 695.0h0M333.1 700.3h0M351.7 697.0h0M351.2 706.0h0M347.8 695.2h0M341.7 693.2h0M343.9 680.7h0M334.4 698.7h0M334.6 706.5h0M337.2 691.1h0M340.2 673.6h0M339.4 706.9h0M342.1 700.9h0M338.8 707.3h0M342.4 690.3h0M344.7 705.2h0M335.2 696.6h0M350.1 707.6h0M344.8 686.7h0M341.5 706.8h0M334.8 705.0h0M335.2 682.7h0M351.3 700.3h0M345.6 704.7h0M338.9 686.7h0M335.2 702.7h0M344.6 700.8h0M332.3 697.1h0M345.6 707.2h0M331.3 693.0h0M337.1 692.7h0M344.6 701.5h0M351.6 685.7h0M336.5 688.2h0M337.9 675.2h0M344.8 690.8h0M349.1 707.5h0M337.7 706.1h0M335.1 701.9h0M336.2 701.8h0M342.2 702.9h0M351.6 705.1h0M338.7 671.4h0M346.6 676.0h0M338.1 695.7h0M349.5 685.2h0M340.4 696.7h0M345.5 686.0h0M345.9 699.2h0M338.9 700.0h0M348.9 702.1h0M342.1 706.0h0M348.0 707.6h0M349.8 693.2h0M331.5 606.9h0M332.6 663.2h0M334.9 669.2h0M345.9 673.3h0M282.8 713.9h0M297.2 713.9h0M297.2 715.9h0M301.6 721.0h0M300.5 723.0h0M391.3 714.9h0M394.6 714.9h0M402.4 711.9h0M372.5 720.0h0M374.7 724.1h0M375.8 722.0h0" stroke="#b3b3b3" stroke-width="2.6" stroke-linecap="round" fill="none"/>
<path d="M329.4 686.9h0M311.6 700.9h0M321.3 706.5h0M326.2 705.2h0M311.2 707.2h0M316.5 699.2h0M330.0 703.8h0M322.5 706.8h0M327.9 707.2h0M310.9 703.4h0M329.8 693.5h0M330.0 698.1h0M311.2 704.4h0M326.6 699.1h0M330.1 697.3h0M325.5 707.4h0M310.3 703.6h0M322.4 701.6h0M318.9 699.5h0M322.9 696.4h0M329.0 699.0h0M323.9 707.3h0M313.8 700.5h0M328.4 707.3h0M311.4 698.7h0M324.9 704.7h0M321.1 707.4h0M328.8 693.4h0M319.2 706.3h0M319.7 707.1h0M329.5 689.1h0M328.7 706.3h0M321.8 700.8h0M329.5 696.6h0M316.1 698.6h0M323.1 701.1h0M327.2 703.2h0M314.8 706.9h0M326.1 705.4h0M325.2 700.9h0M327.8 700.4h0M329.6 706.3h0M327.3 697.4h0M317.5 702.7h0M323.0 695.5h0M314.1 704.3h0M312.5 698.4h0M319.1 705.0h0M311.0 704.8h0M324.3 695.1h0M327.4 705.3h0M321.7 703.4h0M319.5 704.0h0M319.5 703.1h0M327.9 702.7h0M324.4 702.8h0M312.3 707.3h0M325.6 706.7h0M315.7 702.6h0M323.7 705.1h0M318.0 707.4h0M310.5 706.9h0M317.3 698.0h0M317.0 703.0h0M323.2 705.9h0M320.7 696.8h0M317.7 706.3h0M328.7 691.5h0M316.9 704.9h0M326.4 701.2h0M324.7 707.2h0M326.5 698.9h0M322.9 697.6h0M317.9 697.6h0M328.1 702.0h0M326.6 659.6h0M325.7 691.8h0M321.7 692.3h0M319.4 701.2h0M323.5 704.2h0M326.0 697.8h0M300.0 574.8h0M324.9 634.7h0M328.2 656.0h0M319.4 657.1h0M321.6 665.2h0M313.8 675.3h0M310.5 687.5h0M302.8 691.6h0M303.9 695.6h0M283.9 701.7h0M305.0 705.8h0M309.4 697.7h0M317.1 681.4h0M323.8 687.5h0M312.7 669.2h0" stroke="#2c74b0" stroke-width="2.6" stroke-linecap="round" fill="none"/>
<path d="M370.3 701.2h0M353.8 705.2h0M353.7 707.3h0M359.0 701.2h0M371.2 706.8h0M370.9 705.8h0M365.4 699.4h0M370.7 702.7h0M354.0 696.5h0M373.6 706.1h0M363.2 707.4h0M357.6 703.8h0M373.3 705.4h0M368.8 704.2h0M368.3 700.8h0M353.2 705.7h0M358.7 696.0h0M367.6 706.6h0M357.2 705.5h0M369.1 707.2h0M365.9 702.4h0M357.6 701.5h0M366.6 704.7h0M353.2 702.3h0M355.0 705.0h0M353.2 695.7h0M363.9 699.1h0M363.5 702.2h0M354.0 702.6h0M359.3 696.8h0M368.2 701.5h0M363.7 701.5h0M373.3 707.3h0M359.8 701.3h0M357.3 684.8h0M366.4 706.8h0M367.7 700.5h0M360.5 702.0h0M353.6 704.5h0M355.5 701.7h0M360.9 702.7h0M367.8 707.3h0M365.2 707.3h0M372.7 705.8h0M369.7 705.5h0M357.0 698.7h0M364.9 705.1h0M370.3 701.5h0M359.7 699.0h0M369.9 704.5h0M359.9 703.4h0M354.5 692.7h0M372.0 702.2h0M373.2 703.3h0M366.8 704.0h0M360.5 683.2h0M363.7 703.7h0M355.6 706.8h0M356.8 689.9h0M359.0 676.9h0M352.6 667.2h0M359.2 672.3h0M368.1 672.3h0M376.9 671.3h0M371.4 679.4h0M390.2 656.0h0M400.2 694.6h0M413.5 703.8h0M386.9 703.8h0M379.1 701.7h0M375.8 695.6h0M388.0 695.6h0M365.9 695.6h0M358.1 689.5h0M355.9 693.6h0" stroke="#e39a31" stroke-width="2.6" stroke-linecap="round" fill="none"/>
<line x1="330.4" y1="566.1" x2="330.4" y2="742.7" stroke="#000" stroke-width="1.35" stroke-dasharray="6 6.2"/>
<line x1="352.6" y1="566.1" x2="352.6" y2="742.7" stroke="#000" stroke-width="1.35" stroke-dasharray="6 6.2"/>
<line x1="257.5" y1="707.8" x2="427" y2="707.8" stroke="#000" stroke-width="1.35" stroke-dasharray="6 6.2"/>
<text x="257.7" y="555.7" font-size="9.9" fill="#1a1a1a">Li + vs. Li -</text>
<text x="341.8" y="760.6" font-size="10" text-anchor="middle" fill="#1a1a1a">log2(Fold Change)</text>
<text x="0" y="0" font-size="10" text-anchor="middle" fill="#1a1a1a" transform="translate(242.6 658.4) rotate(-90)">−log10(p−value)</text>
<circle cx="199.8" cy="16.7" r="2.7" fill="#2c74b0"/>
<text x="211.9" y="20.5" font-size="9.6" fill="#1a1a1a">Down</text>
<circle cx="258.1" cy="16.7" r="2.7" fill="#b3b3b3"/>
<text x="269.8" y="20.5" font-size="9.6" fill="#1a1a1a">ns</text>
<circle cx="300.4" cy="16.7" r="2.7" fill="#e39a31"/>
<text x="312.7" y="20.5" font-size="9.6" fill="#1a1a1a">Up</text>
<path d="M512.1 55.20h10.1M579.3 55.20h10.1M617.6 55.20h10.1M636.8 55.20h10.1M675.2 55.20h10.1M598.5 56.21h10.1M531.3 57.21h10.1M569.7 58.22h10.1M636.8 58.22h10.1M579.3 59.22h10.1M665.6 59.22h10.1M531.3 60.23h10.1M598.5 60.23h10.1M646.4 60.23h10.1M665.6 60.23h10.1M608.0 61.23h19.7M540.9 62.24h10.1M675.2 62.24h10.1M569.7 63.25h10.1M598.5 64.25h19.7M569.7 65.26h10.1M636.8 65.26h10.1M656.0 65.26h10.1M636.8 66.26h10.1M579.3 67.27h19.7M531.3 68.27h10.1M588.9 69.28h10.1M636.8 69.28h10.1M665.6 69.28h10.1M569.7 70.28h19.7M598.5 70.28h10.1M617.6 70.28h10.1M540.9 71.29h10.1M560.1 71.29h10.1M627.2 71.29h10.1M646.4 71.29h10.1M675.2 71.29h10.1M560.1 72.29h10.1M627.2 72.29h19.7M656.0 72.29h10.1M675.2 72.29h10.1M608.0 73.30h10.1M627.2 73.30h10.1M646.4 73.30h10.1M675.2 73.30h10.1M627.2 74.30h10.1M588.9 75.31h10.1M665.6 75.31h19.7M550.5 76.31h10.1M608.0 76.31h10.1M656.0 76.31h10.1M675.2 76.31h10.1M540.9 77.32h10.1M560.1 77.32h10.1M617.6 77.32h10.1M675.2 77.32h10.1M579.3 79.33h10.1M598.5 79.33h10.1M627.2 79.33h10.1M665.6 79.33h10.1M569.7 81.34h10.1M608.0 81.34h10.1M588.9 82.35h10.1M646.4 82.35h10.1M579.3 83.35h10.1M569.7 84.36h10.1M617.6 84.36h29.3M531.3 85.36h10.1M627.2 85.36h10.1M608.0 86.37h10.1M646.4 86.37h10.1M656.0 88.38h19.7M656.0 89.38h19.7M569.7 90.39h10.1M598.5 90.39h10.1M617.6 90.39h10.1M656.0 90.39h10.1M665.6 91.39h10.1M627.2 92.40h10.1M560.1 93.40h10.1M608.0 93.40h10.1M636.8 93.40h10.1M560.1 95.41h10.1M665.6 95.41h19.7M531.3 96.42h10.1M598.5 96.42h10.1M646.4 96.42h19.7M617.6 97.42h10.1M656.0 97.42h10.1M588.9 98.43h10.1M617.6 98.43h10.1M569.7 99.44h10.1M598.5 100.44h19.7M550.5 102.45h10.1M560.1 103.46h10.1M627.2 104.46h10.1M675.2 105.47h10.1M665.6 106.47h10.1M531.3 107.48h10.1M636.8 107.48h19.7M627.2 108.48h19.7M550.5 109.49h10.1M579.3 109.49h10.1M531.3 110.49h10.1M598.5 110.49h10.1M627.2 110.49h10.1M656.0 110.49h10.1M550.5 111.50h10.1M617.6 111.50h10.1M636.8 111.50h10.1M540.9 112.50h10.1M588.9 112.50h10.1M617.6 112.50h10.1M608.0 113.51h10.1M627.2 113.51h10.1M665.6 113.51h10.1M531.3 114.51h10.1M627.2 114.51h10.1M569.7 115.52h10.1M675.2 115.52h10.1M560.1 116.53h10.1M598.5 116.53h10.1M665.6 116.53h10.1M588.9 117.53h10.1M617.6 117.53h10.1M636.8 117.53h10.1M636.8 119.54h10.1M512.1 120.55h10.1M617.6 121.55h10.1M646.4 121.55h10.1M675.2 121.55h10.1M560.1 122.56h10.1M579.3 122.56h29.3M579.3 123.56h10.1M560.1 124.57h10.1M598.5 124.57h10.1M579.3 125.57h10.1M627.2 125.57h10.1M550.5 126.58h10.1M608.0 126.58h10.1M627.2 126.58h10.1M531.3 127.58h10.1M560.1 127.58h10.1M588.9 127.58h10.1M608.0 127.58h10.1M675.2 127.58h10.1M531.3 128.59h19.7M569.7 128.59h10.1M665.6 128.59h19.7M569.7 129.59h10.1M656.0 129.59h10.1M531.3 130.60h10.1M608.0 130.60h10.1M521.7 131.60h10.1M569.7 131.60h10.1M627.2 131.60h10.1M608.0 132.61h10.1M627.2 134.62h10.1M540.9 135.63h10.1M560.1 135.63h10.1M636.8 135.63h10.1M550.5 138.64h10.1M617.6 138.64h10.1M636.8 138.64h10.1M560.1 139.65h10.1M579.3 139.65h10.1M608.0 139.65h10.1M560.1 140.65h10.1M588.9 140.65h10.1M512.1 141.66h19.7M550.5 141.66h19.7M588.9 141.66h19.7M579.3 142.66h10.1M617.6 143.67h10.1M646.4 143.67h10.1M531.3 145.68h10.1M598.5 145.68h10.1M550.5 146.68h10.1M598.5 146.68h10.1M617.6 146.68h10.1M656.0 146.68h10.1M560.1 147.69h10.1M617.6 147.69h10.1M521.7 148.69h29.3M560.1 149.70h10.1M675.2 149.70h10.1M598.5 150.71h19.7M656.0 150.71h10.1M675.2 150.71h10.1M579.3 151.71h10.1M598.5 151.71h19.7M598.5 152.72h10.1M617.6 152.72h10.1M665.6 152.72h10.1M512.1 153.72h10.1M665.6 153.72h10.1M540.9 154.73h10.1M665.6 154.73h10.1M560.1 155.73h10.1M598.5 155.73h10.1M675.2 155.73h10.1M531.3 156.74h10.1M569.7 156.74h19.7M512.1 157.74h10.1M560.1 159.75h19.7M598.5 159.75h10.1M675.2 159.75h10.1M588.9 160.76h10.1M646.4 160.76h29.3M540.9 161.76h10.1M579.3 162.77h19.7M512.1 163.77h10.1M579.3 163.77h29.3M675.2 163.77h10.1M540.9 164.78h10.1M560.1 164.78h19.7M588.9 164.78h19.7M656.0 165.78h10.1M560.1 166.79h10.1M646.4 166.79h10.1M665.6 166.79h10.1M512.1 167.80h10.1M550.5 167.80h10.1M540.9 168.80h10.1M617.6 168.80h10.1M531.3 169.81h19.7M569.7 169.81h10.1M579.3 170.81h10.1M550.5 172.82h10.1M588.9 172.82h10.1M512.1 173.83h10.1M617.6 173.83h10.1M646.4 173.83h10.1M512.1 174.83h10.1M550.5 175.84h10.1M579.3 175.84h10.1M656.0 175.84h10.1M656.0 176.84h10.1M560.1 177.85h10.1M579.3 177.85h10.1M608.0 177.85h10.1M636.8 178.85h10.1M521.7 179.86h10.1M579.3 179.86h10.1M665.6 179.86h10.1M636.8 180.86h19.7M550.5 181.87h10.1M646.4 181.87h10.1M540.9 182.88h10.1M598.5 182.88h10.1M560.1 183.88h10.1M588.9 183.88h10.1M627.2 183.88h10.1M656.0 183.88h10.1M636.8 185.89h10.1M550.5 186.90h10.1M608.0 186.90h10.1M512.1 187.90h10.1M617.6 187.90h10.1M531.3 188.91h10.1M608.0 188.91h10.1M521.7 189.91h10.1M617.6 189.91h10.1M656.0 189.91h10.1M540.9 190.92h10.1M588.9 190.92h10.1M608.0 190.92h10.1M540.9 191.92h10.1M627.2 191.92h10.1M531.3 192.93h10.1M608.0 192.93h10.1M627.2 192.93h10.1M531.3 193.93h10.1M588.9 193.93h10.1M627.2 193.93h19.7M675.2 193.93h10.1M512.1 194.94h10.1M531.3 194.94h10.1M550.5 194.94h10.1M588.9 194.94h10.1M646.4 194.94h10.1M598.5 195.94h10.1M636.8 195.94h19.7M521.7 196.95h10.1M608.0 196.95h19.7M636.8 196.95h10.1M665.6 196.95h10.1M512.1 197.95h10.1M636.8 197.95h10.1M675.2 197.95h10.1M627.2 198.96h10.1M550.5 200.97h10.1M540.9 201.98h19.7M521.7 202.98h10.1M521.7 203.99h19.7M560.1 203.99h10.1M608.0 203.99h19.7M646.4 203.99h10.1M608.0 204.99h10.1M521.7 206.00h10.1M550.5 206.00h10.1M636.8 206.00h10.1M550.5 207.00h10.1M598.5 207.00h10.1M646.4 207.00h10.1M531.3 208.01h19.7M560.1 208.01h19.7M598.5 208.01h10.1M656.0 208.01h10.1M560.1 209.01h10.1M512.1 211.02h10.1M646.4 211.02h10.1M550.5 212.03h10.1M608.0 212.03h10.1M646.4 212.03h10.1M560.1 213.03h10.1M531.3 214.04h10.1M569.7 215.04h10.1M617.6 215.04h19.7M569.7 216.05h10.1M540.9 217.05h10.1M627.2 217.05h29.3M646.4 218.06h19.7M521.7 219.07h10.1M550.5 219.07h19.7M627.2 219.07h10.1M540.9 220.07h10.1M579.3 220.07h10.1M540.9 221.08h19.7M646.4 221.08h10.1M665.6 221.08h10.1M512.1 222.08h10.1M540.9 222.08h10.1M665.6 222.08h10.1M560.1 223.09h10.1M579.3 223.09h10.1M540.9 224.09h19.7M665.6 224.09h10.1M540.9 225.10h10.1M560.1 225.10h10.1M588.9 225.10h10.1M627.2 225.10h10.1M665.6 225.10h10.1" stroke="#e9f0cf" stroke-width="1.51" fill="none"/>
<path d="M521.7 55.20h19.7M550.5 56.21h10.1M617.6 56.21h10.1M656.0 56.21h10.1M569.7 57.21h10.1M665.6 58.22h10.1M531.3 59.22h10.1M598.5 59.22h10.1M627.2 59.22h10.1M540.9 61.23h10.1M636.8 61.23h10.1M608.0 62.24h10.1M627.2 65.26h10.1M531.3 66.26h10.1M569.7 66.26h10.1M608.0 66.26h10.1M627.2 66.26h10.1M656.0 66.26h10.1M675.2 66.26h10.1M656.0 67.27h10.1M608.0 69.28h10.1M579.3 71.29h10.1M665.6 71.29h10.1M617.6 72.29h10.1M560.1 74.30h10.1M579.3 74.30h19.7M540.9 75.31h10.1M531.3 76.31h10.1M569.7 77.32h10.1M646.4 78.32h10.1M608.0 79.33h10.1M646.4 79.33h10.1M579.3 80.33h10.1M627.2 80.33h10.1M665.6 80.33h10.1M560.1 81.34h10.1M627.2 81.34h10.1M540.9 83.35h10.1M569.7 83.35h10.1M617.6 83.35h10.1M608.0 84.36h10.1M646.4 84.36h29.3M550.5 85.36h10.1M656.0 86.37h10.1M521.7 87.37h10.1M608.0 87.37h10.1M675.2 88.38h10.1M550.5 89.38h10.1M579.3 89.38h10.1M675.2 89.38h10.1M665.6 90.39h10.1M512.1 91.39h10.1M521.7 92.40h10.1M560.1 92.40h10.1M627.2 93.40h10.1M665.6 94.41h19.7M569.7 95.41h10.1M598.5 95.41h10.1M579.3 96.42h10.1M665.6 96.42h10.1M521.7 97.42h10.1M531.3 99.44h10.1M608.0 99.44h10.1M569.7 100.44h10.1M646.4 100.44h10.1M656.0 101.45h10.1M675.2 101.45h10.1M540.9 102.45h10.1M569.7 102.45h10.1M531.3 103.46h10.1M675.2 103.46h10.1M636.8 104.46h10.1M656.0 107.48h10.1M531.3 108.48h10.1M560.1 108.48h19.7M598.5 108.48h10.1M675.2 108.48h10.1M560.1 109.49h10.1M608.0 109.49h10.1M579.3 110.49h10.1M617.6 113.51h10.1M675.2 113.51h10.1M579.3 114.51h10.1M665.6 114.51h10.1M636.8 115.52h10.1M608.0 117.53h10.1M579.3 118.54h19.7M646.4 118.54h10.1M531.3 120.55h10.1M617.6 120.55h10.1M512.1 123.56h10.1M540.9 123.56h19.7M627.2 124.57h10.1M675.2 124.57h10.1M521.7 125.57h10.1M646.4 125.57h19.7M521.7 126.58h10.1M512.1 129.59h29.3M608.0 129.59h10.1M512.1 131.60h10.1M598.5 131.60h10.1M617.6 131.60h10.1M675.2 131.60h10.1M588.9 134.62h10.1M608.0 134.62h10.1M646.4 134.62h10.1M579.3 135.63h10.1M675.2 135.63h10.1M569.7 136.63h19.7M608.0 136.63h10.1M665.6 136.63h10.1M646.4 137.64h10.1M608.0 138.64h10.1M550.5 139.65h10.1M560.1 142.66h10.1M588.9 142.66h10.1M646.4 142.66h10.1M665.6 142.66h10.1M512.1 143.67h10.1M617.6 144.67h10.1M560.1 145.68h19.7M608.0 145.68h10.1M675.2 145.68h10.1M569.7 148.69h10.1M646.4 148.69h10.1M617.6 149.70h10.1M656.0 149.70h10.1M512.1 150.71h10.1M646.4 151.71h10.1M560.1 152.72h10.1M656.0 152.72h10.1M598.5 153.72h10.1M579.3 154.73h10.1M646.4 154.73h10.1M512.1 155.73h10.1M656.0 155.73h19.7M588.9 156.74h10.1M521.7 157.74h10.1M675.2 157.74h10.1M521.7 158.75h10.1M569.7 158.75h29.3M665.6 158.75h10.1M608.0 159.75h10.1M579.3 160.76h10.1M512.1 161.76h19.7M560.1 161.76h29.3M675.2 161.76h10.1M617.6 162.77h10.1M646.4 162.77h10.1M521.7 163.77h10.1M569.7 165.78h10.1M656.0 166.79h10.1M675.2 166.79h10.1M665.6 167.80h10.1M550.5 168.80h10.1M569.7 170.81h10.1M560.1 171.82h10.1M608.0 171.82h19.7M617.6 172.82h10.1M608.0 173.83h10.1M550.5 176.84h10.1M579.3 176.84h19.7M636.8 177.85h10.1M569.7 178.85h10.1M512.1 179.86h10.1M540.9 180.86h10.1M675.2 180.86h10.1M598.5 181.87h10.1M560.1 182.88h10.1M598.5 183.88h10.1M617.6 184.89h10.1M665.6 184.89h10.1M656.0 185.89h10.1M636.8 186.90h10.1M608.0 187.90h10.1M598.5 188.91h10.1M550.5 189.91h10.1M531.3 191.92h10.1M656.0 191.92h10.1M512.1 193.93h10.1M512.1 195.94h10.1M598.5 197.95h10.1M627.2 197.95h10.1M521.7 199.96h10.1M636.8 199.96h10.1M627.2 200.97h10.1M656.0 200.97h10.1M675.2 200.97h10.1M531.3 202.98h10.1M656.0 202.98h10.1M540.9 206.00h10.1M540.9 207.00h10.1M579.3 207.00h10.1M636.8 207.00h10.1M550.5 208.01h10.1M588.9 208.01h10.1M569.7 210.02h10.1M588.9 210.02h10.1M608.0 210.02h10.1M646.4 210.02h10.1M560.1 211.02h10.1M531.3 212.03h10.1M560.1 212.03h10.1M656.0 213.03h10.1M550.5 214.04h10.1M579.3 214.04h10.1M598.5 214.04h10.1M665.6 214.04h10.1M617.6 216.05h10.1M646.4 216.05h10.1M598.5 217.05h10.1M675.2 217.05h10.1M512.1 219.07h10.1M598.5 219.07h19.7M531.3 220.07h10.1M550.5 220.07h10.1M598.5 220.07h10.1M521.7 221.08h10.1M588.9 221.08h10.1M656.0 221.08h10.1M675.2 221.08h10.1M521.7 222.08h10.1M569.7 222.08h10.1M675.2 222.08h10.1" stroke="#f0eebd" stroke-width="1.51" fill="none"/>
<path d="M540.9 55.20h29.3M646.4 55.20h10.1M540.9 56.21h10.1M608.0 56.21h10.1M540.9 57.21h10.1M588.9 57.21h19.7M636.8 57.21h10.1M617.6 58.22h10.1M656.0 58.22h10.1M646.4 59.22h10.1M608.0 60.23h10.1M531.3 62.24h10.1M636.8 62.24h10.1M531.3 64.25h19.7M579.3 64.25h10.1M627.2 64.25h10.1M675.2 64.25h10.1M579.3 65.26h10.1M598.5 65.26h10.1M665.6 66.26h10.1M560.1 67.27h19.7M665.6 67.27h10.1M550.5 68.27h10.1M598.5 68.27h29.3M646.4 68.27h10.1M598.5 71.29h19.7M540.9 73.30h10.1M569.7 73.30h10.1M617.6 73.30h10.1M531.3 74.30h19.7M560.1 76.31h10.1M531.3 77.32h10.1M550.5 77.32h10.1M598.5 78.32h19.7M569.7 79.33h10.1M675.2 79.33h10.1M579.3 81.34h10.1M665.6 81.34h10.1M569.7 82.35h10.1M636.8 82.35h10.1M531.3 83.35h10.1M646.4 83.35h10.1M588.9 85.36h19.7M617.6 85.36h10.1M646.4 85.36h10.1M665.6 85.36h10.1M550.5 86.37h10.1M598.5 87.37h10.1M550.5 88.38h10.1M560.1 90.39h10.1M579.3 90.39h10.1M646.4 90.39h10.1M588.9 92.40h10.1M550.5 93.40h10.1M560.1 94.41h10.1M579.3 94.41h10.1M598.5 94.41h10.1M617.6 95.41h10.1M560.1 96.42h10.1M675.2 96.42h10.1M665.6 97.42h10.1M531.3 98.43h10.1M550.5 98.43h19.7M656.0 98.43h10.1M675.2 98.43h10.1M675.2 99.44h10.1M588.9 100.44h10.1M675.2 100.44h10.1M531.3 101.45h10.1M579.3 102.45h10.1M579.3 103.46h10.1M665.6 103.46h10.1M617.6 104.46h10.1M617.6 105.47h10.1M636.8 105.47h10.1M598.5 106.47h10.1M675.2 106.47h10.1M608.0 107.48h10.1M646.4 109.49h10.1M598.5 111.50h10.1M560.1 113.51h10.1M636.8 114.51h10.1M675.2 114.51h10.1M560.1 115.52h10.1M579.3 115.52h10.1M598.5 115.52h29.3M531.3 116.53h19.7M617.6 116.53h10.1M636.8 116.53h10.1M540.9 118.54h10.1M531.3 119.54h10.1M608.0 119.54h10.1M627.2 119.54h10.1M675.2 119.54h10.1M636.8 120.55h10.1M665.6 120.55h10.1M540.9 121.55h10.1M608.0 121.55h10.1M550.5 122.56h10.1M627.2 123.56h10.1M531.3 125.57h10.1M550.5 125.57h10.1M598.5 125.57h10.1M665.6 125.57h10.1M521.7 127.58h10.1M579.3 127.58h10.1M636.8 127.58h10.1M560.1 130.60h19.7M588.9 130.60h10.1M665.6 130.60h10.1M550.5 131.60h10.1M512.1 132.61h10.1M627.2 132.61h10.1M560.1 133.62h10.1M579.3 133.62h10.1M636.8 133.62h10.1M656.0 133.62h10.1M636.8 134.62h10.1M531.3 135.63h10.1M617.6 135.63h10.1M617.6 136.63h10.1M531.3 137.64h19.7M531.3 138.64h19.7M560.1 138.64h10.1M675.2 138.64h10.1M550.5 140.65h10.1M608.0 141.66h10.1M646.4 141.66h19.7M656.0 142.66h10.1M675.2 142.66h10.1M521.7 143.67h10.1M512.1 144.67h10.1M569.7 144.67h10.1M598.5 144.67h10.1M540.9 145.68h10.1M656.0 145.68h10.1M569.7 146.68h10.1M588.9 146.68h10.1M550.5 147.69h10.1M569.7 147.69h10.1M608.0 147.69h10.1M656.0 148.69h10.1M521.7 150.71h10.1M588.9 150.71h10.1M617.6 150.71h10.1M540.9 151.71h10.1M569.7 151.71h10.1M588.9 151.71h10.1M540.9 152.72h10.1M608.0 152.72h10.1M579.3 153.72h10.1M521.7 154.73h10.1M608.0 154.73h10.1M531.3 155.73h10.1M579.3 155.73h10.1M646.4 156.74h10.1M665.6 156.74h10.1M540.9 157.74h10.1M579.3 157.74h10.1M608.0 157.74h10.1M646.4 157.74h10.1M560.1 158.75h10.1M521.7 159.75h10.1M540.9 159.75h19.7M617.6 159.75h10.1M588.9 161.76h10.1M608.0 161.76h19.7M665.6 162.77h19.7M531.3 163.77h10.1M608.0 165.78h10.1M531.3 166.79h10.1M598.5 167.80h10.1M617.6 167.80h10.1M646.4 167.80h10.1M531.3 168.80h10.1M560.1 168.80h10.1M588.9 168.80h10.1M646.4 168.80h10.1M617.6 169.81h10.1M550.5 170.81h10.1M646.4 174.83h10.1M636.8 176.84h10.1M665.6 177.85h10.1M531.3 178.85h10.1M588.9 179.86h10.1M646.4 179.86h10.1M512.1 180.86h19.7M569.7 180.86h10.1M636.8 181.87h10.1M588.9 182.88h10.1M636.8 182.88h19.7M675.2 182.88h10.1M531.3 183.88h10.1M560.1 184.89h10.1M531.3 185.89h10.1M588.9 185.89h10.1M531.3 186.90h10.1M588.9 186.90h19.7M531.3 187.90h10.1M560.1 187.90h10.1M656.0 187.90h10.1M521.7 188.91h10.1M656.0 190.92h10.1M675.2 190.92h10.1M665.6 191.92h19.7M512.1 192.93h10.1M598.5 192.93h10.1M588.9 196.95h19.7M521.7 197.95h19.7M531.3 198.96h10.1M617.6 198.96h10.1M646.4 198.96h10.1M531.3 199.96h10.1M560.1 200.97h10.1M636.8 200.97h10.1M627.2 203.99h10.1M560.1 204.99h10.1M646.4 204.99h10.1M579.3 206.00h10.1M512.1 208.01h10.1M646.4 208.01h10.1M550.5 209.01h10.1M531.3 210.02h10.1M560.1 210.02h10.1M636.8 210.02h10.1M588.9 211.02h10.1M636.8 211.02h10.1M617.6 212.03h19.7M560.1 215.04h10.1M512.1 216.05h10.1M540.9 216.05h19.7M608.0 216.05h10.1M560.1 217.05h10.1M665.6 217.05h10.1M569.7 220.07h10.1M646.4 222.08h10.1M531.3 223.09h10.1M656.0 223.09h10.1M675.2 223.09h10.1M521.7 224.09h19.7M588.9 224.09h10.1M636.8 224.09h10.1M675.2 224.09h10.1M531.3 225.10h10.1M579.3 225.10h10.1" stroke="#e6efd5" stroke-width="1.51" fill="none"/>
<path d="M569.7 55.20h10.1M656.0 55.20h10.1M531.3 56.21h10.1M579.3 56.21h19.7M646.4 56.21h10.1M560.1 57.21h10.1M617.6 57.21h10.1M560.1 58.22h10.1M598.5 58.22h10.1M569.7 59.22h10.1M617.6 59.22h10.1M588.9 60.23h10.1M636.8 60.23h10.1M569.7 61.23h10.1M646.4 61.23h19.7M569.7 62.24h10.1M617.6 62.24h10.1M531.3 63.25h10.1M588.9 63.25h10.1M665.6 63.25h10.1M588.9 65.26h10.1M617.6 66.26h10.1M540.9 67.27h10.1M540.9 68.27h10.1M560.1 68.27h19.7M531.3 69.28h10.1M550.5 69.28h10.1M627.2 69.28h10.1M550.5 70.28h10.1M588.9 70.28h10.1M627.2 70.28h19.7M675.2 70.28h10.1M550.5 72.29h10.1M560.1 73.30h10.1M588.9 73.30h10.1M598.5 74.30h19.7M531.3 75.31h10.1M550.5 75.31h10.1M617.6 75.31h10.1M636.8 75.31h10.1M569.7 76.31h10.1M617.6 76.31h10.1M656.0 77.32h19.7M531.3 78.32h10.1M569.7 78.32h10.1M627.2 78.32h10.1M636.8 79.33h10.1M531.3 80.33h10.1M598.5 80.33h10.1M646.4 80.33h10.1M588.9 81.34h10.1M550.5 82.35h10.1M627.2 82.35h10.1M608.0 83.35h10.1M675.2 85.36h10.1M560.1 86.37h10.1M627.2 86.37h10.1M665.6 86.37h10.1M588.9 88.38h19.7M512.1 89.38h19.7M598.5 89.38h10.1M646.4 89.38h10.1M512.1 90.39h10.1M550.5 90.39h10.1M588.9 90.39h10.1M627.2 90.39h10.1M569.7 91.39h10.1M550.5 92.40h10.1M617.6 92.40h10.1M579.3 93.40h29.3M646.4 93.40h10.1M569.7 94.41h10.1M627.2 94.41h10.1M608.0 95.41h10.1M540.9 96.42h10.1M588.9 96.42h10.1M531.3 97.42h10.1M560.1 97.42h10.1M627.2 97.42h10.1M617.6 99.44h10.1M540.9 100.44h10.1M579.3 101.45h19.7M646.4 101.45h10.1M598.5 102.45h10.1M569.7 103.46h10.1M608.0 103.46h19.7M588.9 105.47h10.1M560.1 106.47h10.1M646.4 106.47h10.1M560.1 107.48h19.7M588.9 107.48h10.1M588.9 108.48h10.1M531.3 109.49h10.1M569.7 109.49h10.1M627.2 109.49h19.7M560.1 110.49h10.1M608.0 110.49h10.1M665.6 110.49h19.7M521.7 111.50h10.1M675.2 111.50h10.1M646.4 112.50h38.9M540.9 113.51h19.7M579.3 113.51h10.1M636.8 113.51h29.3M588.9 114.51h10.1M617.6 114.51h10.1M646.4 114.51h10.1M646.4 115.52h10.1M608.0 116.53h10.1M675.2 116.53h10.1M560.1 117.53h19.7M598.5 117.53h10.1M646.4 117.53h10.1M569.7 118.54h10.1M598.5 118.54h10.1M617.6 118.54h10.1M636.8 118.54h10.1M665.6 118.54h10.1M579.3 119.54h10.1M646.4 119.54h10.1M579.3 120.55h19.7M521.7 121.55h10.1M608.0 122.56h29.3M665.6 122.56h19.7M521.7 123.56h10.1M636.8 123.56h10.1M665.6 123.56h10.1M550.5 124.57h10.1M569.7 124.57h10.1M588.9 124.57h10.1M560.1 125.57h19.7M617.6 125.57h10.1M675.2 125.57h10.1M579.3 126.58h19.7M617.6 126.58h10.1M636.8 126.58h10.1M656.0 127.58h10.1M579.3 128.59h10.1M608.0 128.59h10.1M588.9 129.59h10.1M540.9 130.60h10.1M540.9 131.60h10.1M588.9 132.61h10.1M569.7 133.62h10.1M608.0 133.62h10.1M560.1 134.62h19.7M598.5 134.62h10.1M656.0 134.62h10.1M550.5 135.63h10.1M588.9 135.63h10.1M617.6 137.64h19.7M675.2 137.64h10.1M569.7 138.64h19.7M531.3 140.65h10.1M531.3 141.66h10.1M550.5 142.66h10.1M569.7 142.66h10.1M598.5 142.66h29.3M579.3 143.67h10.1M675.2 143.67h10.1M521.7 144.67h10.1M579.3 144.67h10.1M608.0 144.67h10.1M656.0 144.67h10.1M512.1 145.68h10.1M617.6 145.68h10.1M665.6 145.68h10.1M540.9 146.68h10.1M560.1 146.68h10.1M675.2 146.68h10.1M521.7 147.69h10.1M540.9 147.69h10.1M598.5 147.69h10.1M579.3 148.69h10.1M598.5 148.69h10.1M617.6 148.69h10.1M540.9 149.70h10.1M646.4 149.70h10.1M560.1 150.71h10.1M665.6 150.71h10.1M656.0 151.71h10.1M521.7 152.72h10.1M550.5 153.72h10.1M646.4 153.72h19.7M512.1 154.73h10.1M598.5 154.73h10.1M521.7 155.73h10.1M608.0 155.73h10.1M608.0 156.74h10.1M665.6 157.74h10.1M531.3 158.75h10.1M675.2 158.75h10.1M512.1 159.75h10.1M588.9 159.75h10.1M521.7 160.76h19.7M569.7 160.76h10.1M598.5 160.76h10.1M617.6 160.76h10.1M675.2 160.76h10.1M598.5 161.76h10.1M665.6 161.76h10.1M608.0 162.77h10.1M560.1 163.77h10.1M617.6 163.77h10.1M656.0 163.77h10.1M579.3 164.78h10.1M617.6 164.78h10.1M646.4 164.78h19.7M521.7 165.78h10.1M579.3 165.78h19.7M646.4 165.78h10.1M531.3 167.80h10.1M579.3 167.80h10.1M675.2 168.80h10.1M598.5 169.81h10.1M521.7 170.81h10.1M560.1 170.81h10.1M608.0 170.81h10.1M579.3 171.82h10.1M656.0 171.82h10.1M540.9 172.82h10.1M598.5 172.82h19.7M627.2 172.82h10.1M656.0 173.83h10.1M636.8 174.83h10.1M521.7 175.84h19.7M569.7 175.84h10.1M521.7 176.84h10.1M569.7 176.84h10.1M608.0 176.84h10.1M627.2 176.84h10.1M512.1 177.85h10.1M569.7 177.85h10.1M656.0 177.85h10.1M512.1 178.85h10.1M627.2 178.85h10.1M675.2 178.85h10.1M531.3 179.86h19.7M569.7 179.86h10.1M598.5 179.86h10.1M636.8 179.86h10.1M531.3 181.87h10.1M588.9 181.87h10.1M521.7 182.88h10.1M540.9 184.89h10.1M627.2 184.89h10.1M675.2 185.89h10.1M521.7 186.90h10.1M617.6 186.90h19.7M656.0 186.90h19.7M521.7 187.90h10.1M550.5 187.90h10.1M636.8 188.91h10.1M656.0 188.91h10.1M675.2 188.91h10.1M540.9 189.91h10.1M627.2 189.91h10.1M636.8 190.92h10.1M665.6 190.92h10.1M550.5 191.92h10.1M588.9 191.92h10.1M617.6 191.92h10.1M521.7 192.93h10.1M540.9 192.93h19.7M665.6 193.93h10.1M627.2 194.94h10.1M656.0 194.94h10.1M540.9 195.94h29.3M617.6 195.94h19.7M531.3 196.95h10.1M646.4 196.95h10.1M608.0 197.95h19.7M512.1 198.96h10.1M560.1 198.96h10.1M665.6 198.96h10.1M550.5 199.96h10.1M608.0 199.96h19.7M646.4 199.96h19.7M608.0 200.97h19.7M646.4 200.97h10.1M617.6 201.98h10.1M656.0 201.98h10.1M608.0 202.98h10.1M512.1 203.99h10.1M550.5 203.99h10.1M636.8 204.99h10.1M608.0 206.00h10.1M665.6 208.01h10.1M598.5 209.01h10.1M512.1 210.02h10.1M540.9 210.02h10.1M569.7 211.02h19.7M627.2 211.02h10.1M512.1 212.03h10.1M540.9 213.03h10.1M598.5 213.03h10.1M521.7 214.04h10.1M540.9 214.04h10.1M560.1 214.04h10.1M588.9 214.04h10.1M656.0 214.04h10.1M646.4 215.04h10.1M579.3 216.05h19.7M675.2 216.05h10.1M550.5 217.05h10.1M579.3 217.05h10.1M608.0 217.05h19.7M560.1 218.06h10.1M598.5 218.06h19.7M665.6 218.06h19.7M588.9 219.07h10.1M512.1 220.07h19.7M560.1 220.07h10.1M588.9 220.07h10.1M598.5 221.08h19.7M636.8 221.08h10.1M550.5 222.08h19.7M579.3 222.08h10.1M608.0 223.09h10.1M675.2 225.10h10.1" stroke="#ecf0ca" stroke-width="1.51" fill="none"/>
<path d="M588.9 55.20h10.1M627.2 55.20h10.1M665.6 55.20h10.1M675.2 56.21h10.1M665.6 57.21h19.7M540.9 58.22h10.1M579.3 58.22h10.1M627.2 58.22h10.1M646.4 58.22h10.1M675.2 58.22h10.1M540.9 60.23h10.1M560.1 60.23h10.1M579.3 60.23h10.1M617.6 60.23h19.7M560.1 61.23h10.1M665.6 61.23h10.1M627.2 62.24h10.1M579.3 63.25h10.1M608.0 63.25h10.1M627.2 63.25h10.1M636.8 64.25h10.1M540.9 65.26h10.1M560.1 65.26h10.1M550.5 66.26h10.1M579.3 66.26h10.1M598.5 66.26h10.1M550.5 67.27h10.1M675.2 67.27h10.1M627.2 68.27h10.1M656.0 68.27h29.3M579.3 69.28h10.1M656.0 69.28h10.1M617.6 71.29h10.1M646.4 72.29h10.1M665.6 73.30h10.1M569.7 74.30h10.1M636.8 74.30h10.1M579.3 75.31h10.1M598.5 75.31h19.7M627.2 75.31h10.1M656.0 75.31h10.1M540.9 76.31h10.1M579.3 76.31h19.7M646.4 76.31h10.1M665.6 76.31h10.1M646.4 77.32h10.1M550.5 78.32h10.1M588.9 78.32h10.1M617.6 78.32h10.1M608.0 80.33h10.1M636.8 80.33h10.1M550.5 81.34h10.1M617.6 81.34h10.1M636.8 81.34h10.1M579.3 82.35h10.1M617.6 82.35h10.1M675.2 83.35h10.1M540.9 84.36h10.1M598.5 84.36h10.1M569.7 85.36h19.7M608.0 85.36h10.1M636.8 85.36h10.1M531.3 86.37h10.1M531.3 87.37h10.1M569.7 87.37h19.7M675.2 87.37h10.1M608.0 91.39h10.1M608.0 92.40h10.1M656.0 92.40h10.1M675.2 92.40h10.1M617.6 93.40h10.1M665.6 93.40h10.1M617.6 94.41h10.1M646.4 95.41h10.1M608.0 97.42h10.1M636.8 99.44h19.7M531.3 100.44h10.1M656.0 100.44h19.7M560.1 101.45h19.7M627.2 102.45h10.1M646.4 102.45h10.1M656.0 103.46h10.1M540.9 104.46h10.1M540.9 105.47h10.1M598.5 105.47h19.7M665.6 105.47h10.1M627.2 106.47h19.7M579.3 107.48h10.1M617.6 107.48h10.1M540.9 108.48h10.1M617.6 108.48h10.1M665.6 108.48h10.1M617.6 109.49h10.1M675.2 109.49h10.1M636.8 110.49h10.1M540.9 111.50h10.1M608.0 111.50h10.1M627.2 111.50h10.1M627.2 112.50h19.7M531.3 113.51h10.1M569.7 113.51h10.1M598.5 113.51h10.1M540.9 114.51h10.1M560.1 114.51h19.7M656.0 115.52h10.1M550.5 116.53h10.1M665.6 117.53h10.1M608.0 118.54h10.1M627.2 118.54h10.1M521.7 120.55h10.1M598.5 120.55h19.7M675.2 120.55h10.1M512.1 121.55h10.1M579.3 121.55h10.1M531.3 123.56h10.1M569.7 123.56h10.1M512.1 124.57h19.7M579.3 124.57h10.1M617.6 124.57h10.1M512.1 125.57h10.1M540.9 125.57h10.1M608.0 125.57h10.1M636.8 125.57h10.1M540.9 126.58h10.1M675.2 126.58h10.1M627.2 127.58h10.1M665.6 127.58h10.1M617.6 128.59h10.1M540.9 129.59h19.7M617.6 129.59h19.7M521.7 130.60h10.1M560.1 131.60h10.1M579.3 131.60h10.1M665.6 131.60h10.1M598.5 132.61h10.1M656.0 132.61h10.1M512.1 133.62h10.1M531.3 133.62h10.1M550.5 133.62h10.1M512.1 134.62h10.1M531.3 134.62h10.1M675.2 134.62h10.1M521.7 135.63h10.1M608.0 135.63h10.1M540.9 136.63h10.1M560.1 136.63h10.1M627.2 136.63h10.1M521.7 137.64h10.1M550.5 137.64h19.7M579.3 137.64h29.3M521.7 138.64h10.1M512.1 139.65h10.1M569.7 139.65h10.1M588.9 139.65h10.1M627.2 139.65h19.7M521.7 140.65h10.1M540.9 140.65h10.1M579.3 141.66h10.1M512.1 142.66h10.1M531.3 142.66h10.1M531.3 144.67h10.1M646.4 144.67h10.1M675.2 144.67h10.1M579.3 145.68h10.1M531.3 146.68h10.1M656.0 147.69h10.1M588.9 148.69h10.1M675.2 148.69h10.1M598.5 149.70h10.1M531.3 150.71h10.1M579.3 150.71h10.1M550.5 151.71h10.1M579.3 152.72h10.1M560.1 153.72h10.1M588.9 154.73h10.1M569.7 155.73h10.1M588.9 155.73h10.1M646.4 155.73h10.1M598.5 156.74h10.1M617.6 156.74h10.1M550.5 157.74h10.1M656.0 157.74h10.1M512.1 158.75h10.1M550.5 158.75h10.1M608.0 158.75h10.1M646.4 159.75h10.1M665.6 159.75h10.1M598.5 162.77h10.1M608.0 163.77h10.1M512.1 164.78h10.1M531.3 164.78h10.1M550.5 164.78h10.1M665.6 164.78h19.7M531.3 165.78h10.1M598.5 165.78h10.1M521.7 166.79h10.1M540.9 166.79h10.1M569.7 166.79h19.7M598.5 170.81h10.1M617.6 170.81h10.1M531.3 171.82h10.1M646.4 172.82h19.7M531.3 173.83h10.1M569.7 173.83h10.1M675.2 173.83h10.1M521.7 174.83h19.7M560.1 174.83h19.7M617.6 174.83h10.1M540.9 175.84h10.1M560.1 175.84h10.1M608.0 175.84h10.1M646.4 175.84h10.1M617.6 176.84h10.1M675.2 177.85h10.1M665.6 178.85h10.1M531.3 180.86h10.1M579.3 180.86h10.1M665.6 181.87h10.1M627.2 182.88h10.1M512.1 183.88h10.1M646.4 183.88h10.1M665.6 183.88h19.7M512.1 184.89h10.1M540.9 185.89h19.7M665.6 185.89h10.1M540.9 187.90h10.1M588.9 187.90h10.1M675.2 187.90h10.1M512.1 188.91h10.1M540.9 188.91h19.7M617.6 188.91h10.1M675.2 189.91h10.1M531.3 190.92h10.1M598.5 190.92h10.1M627.2 190.92h10.1M560.1 191.92h10.1M588.9 192.93h10.1M617.6 192.93h10.1M617.6 194.94h10.1M636.8 194.94h10.1M665.6 194.94h10.1M588.9 195.94h10.1M569.7 196.95h10.1M540.9 197.95h29.3M665.6 197.95h10.1M560.1 199.96h10.1M665.6 199.96h19.7M521.7 200.97h10.1M540.9 200.97h10.1M531.3 201.98h10.1M550.5 202.98h10.1M627.2 202.98h10.1M540.9 203.99h10.1M531.3 204.99h10.1M560.1 206.00h19.7M588.9 206.00h19.7M646.4 206.00h19.7M512.1 207.00h10.1M588.9 207.00h10.1M521.7 208.01h10.1M579.3 208.01h10.1M675.2 208.01h10.1M531.3 209.01h10.1M588.9 209.01h10.1M656.0 209.01h10.1M521.7 210.02h10.1M521.7 211.02h10.1M656.0 211.02h19.7M569.7 212.03h10.1M627.2 214.04h10.1M579.3 215.04h10.1M598.5 215.04h10.1M521.7 216.05h10.1M665.6 216.05h10.1M588.9 218.06h10.1M617.6 218.06h10.1M608.0 220.07h19.7M665.6 220.07h10.1M569.7 221.08h10.1M627.2 221.08h10.1M588.9 222.08h10.1M608.0 222.08h10.1M636.8 222.08h10.1M512.1 223.09h10.1M598.5 223.09h10.1M636.8 223.09h10.1" stroke="#eff1c4" stroke-width="1.51" fill="none"/>
<path d="M598.5 55.20h10.1M550.5 59.22h10.1M636.8 59.22h10.1M560.1 62.24h10.1M550.5 63.25h10.1M617.6 67.27h19.7M588.9 68.27h10.1M531.3 70.28h10.1M569.7 71.29h10.1M531.3 72.29h10.1M636.8 76.31h10.1M540.9 81.34h10.1M598.5 81.34h10.1M512.1 85.36h10.1M540.9 85.36h10.1M617.6 87.37h10.1M579.3 91.39h19.7M636.8 92.40h10.1M665.6 92.40h10.1M656.0 95.41h10.1M540.9 97.42h19.7M588.9 97.42h10.1M608.0 104.46h10.1M569.7 106.47h10.1M598.5 109.49h10.1M560.1 111.50h10.1M588.9 113.51h10.1M588.9 115.52h10.1M569.7 119.54h10.1M569.7 122.56h10.1M588.9 125.57h10.1M560.1 128.59h10.1M636.8 128.59h10.1M550.5 130.60h10.1M531.3 132.61h19.7M617.6 132.61h10.1M665.6 132.61h10.1M627.2 133.62h10.1M598.5 140.65h10.1M512.1 147.69h10.1M588.9 147.69h10.1M646.4 147.69h10.1M665.6 151.71h10.1M531.3 152.72h10.1M646.4 152.72h10.1M521.7 153.72h19.7M569.7 153.72h10.1M540.9 155.73h10.1M512.1 156.74h10.1M560.1 156.74h10.1M656.0 156.74h10.1M588.9 157.74h10.1M617.6 157.74h10.1M579.3 159.75h10.1M646.4 161.76h10.1M540.9 162.77h10.1M512.1 168.80h10.1M608.0 168.80h10.1M588.9 169.81h10.1M656.0 169.81h10.1M531.3 172.82h10.1M665.6 173.83h10.1M560.1 176.84h10.1M598.5 178.85h10.1M512.1 191.92h10.1M646.4 192.93h10.1M540.9 193.93h10.1M560.1 193.93h10.1M656.0 198.96h10.1M540.9 212.03h10.1M531.3 213.03h10.1M636.8 213.03h10.1M598.5 216.05h10.1M656.0 216.05h10.1M656.0 217.05h10.1M521.7 223.09h10.1M550.5 223.09h10.1M627.2 223.09h10.1M560.1 224.09h10.1M512.1 225.10h10.1" stroke="#deece6" stroke-width="1.51" fill="none"/>
<path d="M608.0 55.20h10.1M665.6 56.21h10.1M540.9 59.22h10.1M550.5 60.23h10.1M569.7 60.23h10.1M675.2 60.23h10.1M675.2 61.23h10.1M540.9 63.25h10.1M636.8 63.25h10.1M646.4 64.25h19.7M675.2 65.26h10.1M560.1 66.26h10.1M588.9 66.26h10.1M646.4 66.26h10.1M636.8 68.27h10.1M540.9 69.28h10.1M569.7 69.28h10.1M569.7 72.29h10.1M579.3 73.30h10.1M646.4 74.30h10.1M665.6 74.30h10.1M512.1 75.31h10.1M598.5 77.32h10.1M540.9 78.32h10.1M550.5 79.33h10.1M656.0 79.33h10.1M540.9 80.33h10.1M569.7 80.33h10.1M598.5 82.35h10.1M675.2 82.35h10.1M588.9 83.35h10.1M636.8 83.35h10.1M579.3 84.36h10.1M675.2 84.36h10.1M636.8 86.37h10.1M540.9 87.37h19.7M569.7 88.38h10.1M617.6 88.38h19.7M646.4 88.38h10.1M636.8 89.38h10.1M560.1 91.39h10.1M598.5 91.39h10.1M627.2 91.39h29.3M540.9 92.40h10.1M675.2 93.40h10.1M646.4 94.41h10.1M627.2 96.42h10.1M646.4 98.43h10.1M550.5 99.44h10.1M656.0 102.45h10.1M675.2 102.45h10.1M579.3 104.46h19.7M646.4 105.47h10.1M675.2 107.48h10.1M569.7 110.49h10.1M646.4 110.49h10.1M560.1 112.50h10.1M579.3 112.50h10.1M656.0 114.51h10.1M531.3 115.52h10.1M540.9 117.53h10.1M531.3 118.54h10.1M627.2 120.55h10.1M560.1 121.55h10.1M512.1 127.58h10.1M579.3 129.59h10.1M636.8 129.59h19.7M675.2 129.59h10.1M579.3 130.60h10.1M598.5 130.60h10.1M608.0 131.60h10.1M636.8 132.61h19.7M675.2 133.62h10.1M627.2 135.63h10.1M665.6 135.63h10.1M512.1 136.63h10.1M598.5 138.64h10.1M627.2 138.64h10.1M560.1 143.67h10.1M598.5 143.67h10.1M588.9 145.68h10.1M550.5 148.69h19.7M531.3 149.70h10.1M608.0 149.70h10.1M512.1 152.72h10.1M550.5 154.73h10.1M569.7 154.73h10.1M617.6 154.73h10.1M656.0 154.73h10.1M521.7 156.74h10.1M540.9 158.75h10.1M656.0 158.75h10.1M656.0 159.75h10.1M560.1 160.76h10.1M608.0 160.76h10.1M550.5 161.76h10.1M560.1 162.77h10.1M540.9 165.78h10.1M675.2 165.78h10.1M512.1 166.79h10.1M608.0 166.79h10.1M675.2 169.81h10.1M540.9 170.81h10.1M646.4 170.81h10.1M512.1 171.82h19.7M598.5 171.82h10.1M646.4 171.82h10.1M521.7 172.82h10.1M636.8 172.82h10.1M550.5 173.83h10.1M627.2 174.83h10.1M531.3 177.85h10.1M550.5 177.85h10.1M646.4 177.85h10.1M656.0 178.85h10.1M560.1 179.86h10.1M627.2 179.86h10.1M675.2 179.86h10.1M560.1 180.86h10.1M627.2 180.86h10.1M656.0 180.86h10.1M512.1 181.87h10.1M656.0 181.87h10.1M675.2 181.87h10.1M521.7 183.88h10.1M550.5 183.88h10.1M550.5 184.89h10.1M656.0 184.89h10.1M617.6 185.89h10.1M512.1 186.90h10.1M579.3 186.90h10.1M646.4 186.90h10.1M675.2 186.90h10.1M512.1 190.92h19.7M550.5 190.92h10.1M636.8 191.92h10.1M598.5 193.93h19.7M646.4 193.93h19.7M560.1 194.94h10.1M531.3 195.94h10.1M608.0 195.94h10.1M665.6 195.94h10.1M550.5 196.95h10.1M675.2 196.95h10.1M656.0 197.95h10.1M521.7 198.96h10.1M540.9 199.96h10.1M531.3 200.97h10.1M665.6 200.97h10.1M560.1 201.98h10.1M598.5 202.98h10.1M636.8 202.98h10.1M598.5 203.99h10.1M665.6 203.99h10.1M608.0 207.00h10.1M627.2 207.00h10.1M656.0 207.00h10.1M636.8 208.01h10.1M617.6 209.01h10.1M636.8 209.01h10.1M636.8 212.03h10.1M521.7 213.03h10.1M569.7 213.03h10.1M617.6 213.03h10.1M512.1 214.04h10.1M646.4 214.04h10.1M675.2 215.04h10.1M521.7 217.05h19.7M550.5 218.06h10.1M636.8 218.06h10.1M569.7 219.07h19.7M627.2 220.07h10.1M617.6 221.08h10.1M588.9 223.09h10.1" stroke="#f2ebb7" stroke-width="1.51" fill="none"/>
<path d="M512.1 56.21h10.1M521.7 57.21h10.1M512.1 58.22h10.1M512.1 67.27h10.1M512.1 69.28h10.1M521.7 73.30h10.1M521.7 76.31h10.1M521.7 77.32h10.1M521.7 81.34h10.1M512.1 98.43h10.1M521.7 102.45h10.1M636.8 102.45h10.1M627.2 103.46h10.1M512.1 115.52h10.1M521.7 116.53h10.1M512.1 117.53h19.7M656.0 123.56h10.1M598.5 126.58h10.1M636.8 140.65h10.1M636.8 143.67h10.1M627.2 149.70h10.1M627.2 150.71h10.1M627.2 156.74h10.1M627.2 160.76h10.1M636.8 162.77h10.1M636.8 165.78h10.1M627.2 167.80h10.1M675.2 170.81h10.1M627.2 171.82h10.1M608.0 178.85h10.1M569.7 184.89h10.1M569.7 185.89h10.1M579.3 191.92h10.1M579.3 202.98h10.1M598.5 204.99h10.1M665.6 209.01h10.1" stroke="#f6b67b" stroke-width="1.51" fill="none"/>
<path d="M521.7 56.21h10.1M512.1 64.25h10.1M521.7 72.29h10.1M512.1 73.30h10.1M512.1 76.31h10.1M512.1 109.49h10.1M646.4 124.57h10.1M646.4 126.58h10.1M636.8 142.66h10.1M627.2 162.77h10.1M636.8 167.80h10.1" stroke="#f08859" stroke-width="1.51" fill="none"/>
<path d="M560.1 56.21h10.1M550.5 57.21h10.1M675.2 59.22h10.1M521.7 60.23h10.1M560.1 70.28h10.1M588.9 72.29h10.1M636.8 73.30h10.1M521.7 74.30h10.1M656.0 78.32h10.1M675.2 78.32h10.1M598.5 83.35h10.1M656.0 83.35h10.1M550.5 84.36h10.1M588.9 84.36h10.1M512.1 87.37h10.1M617.6 89.38h10.1M675.2 91.39h10.1M646.4 92.40h10.1M521.7 93.40h10.1M656.0 93.40h10.1M636.8 96.42h10.1M512.1 97.42h10.1M636.8 97.42h10.1M540.9 99.44h10.1M588.9 99.44h10.1M617.6 100.44h10.1M636.8 100.44h10.1M550.5 101.45h10.1M598.5 101.45h10.1M617.6 101.45h10.1M665.6 101.45h10.1M636.8 103.46h19.7M579.3 105.47h10.1M665.6 109.49h10.1M588.9 110.49h10.1M579.3 111.50h10.1M646.4 111.50h10.1M656.0 117.53h10.1M560.1 118.54h10.1M512.1 119.54h10.1M550.5 119.54h10.1M598.5 121.55h10.1M665.6 121.55h10.1M598.5 123.56h10.1M540.9 124.57h10.1M598.5 127.58h10.1M617.6 127.58h10.1M512.1 128.59h19.7M665.6 129.59h10.1M512.1 130.60h10.1M627.2 130.60h10.1M521.7 133.62h10.1M598.5 133.62h10.1M512.1 137.64h10.1M665.6 137.64h10.1M665.6 138.64h10.1M540.9 139.65h10.1M617.6 139.65h10.1M646.4 140.65h10.1M665.6 140.65h10.1M665.6 141.66h10.1M531.3 143.67h10.1M656.0 143.67h10.1M588.9 144.67h10.1M636.8 147.69h10.1M665.6 149.70h10.1M636.8 153.72h10.1M531.3 154.73h10.1M627.2 155.73h10.1M598.5 158.75h10.1M540.9 160.76h10.1M656.0 162.77h10.1M521.7 164.78h10.1M656.0 167.80h10.1M656.0 168.80h10.1M550.5 169.81h10.1M646.4 169.81h10.1M569.7 171.82h10.1M598.5 173.83h10.1M512.1 175.84h10.1M598.5 175.84h10.1M636.8 175.84h10.1M646.4 176.84h10.1M588.9 177.85h19.7M617.6 179.86h10.1M588.9 180.86h10.1M540.9 181.87h10.1M569.7 182.88h10.1M656.0 182.88h10.1M579.3 183.88h10.1M531.3 184.89h10.1M560.1 186.90h10.1M665.6 187.90h10.1M579.3 190.92h10.1M598.5 191.92h10.1M560.1 192.93h10.1M636.8 192.93h10.1M656.0 192.93h10.1M656.0 195.94h10.1M675.2 195.94h10.1M540.9 198.96h10.1M512.1 202.98h10.1M588.9 203.99h10.1M550.5 204.99h10.1M617.6 206.00h10.1M569.7 207.00h10.1M617.6 207.00h10.1M617.6 208.01h10.1M627.2 210.02h10.1M675.2 212.03h10.1M579.3 213.03h10.1M675.2 213.03h10.1M617.6 214.04h10.1M531.3 215.04h10.1M569.7 217.05h10.1M531.3 218.06h10.1M569.7 218.06h10.1M512.1 221.08h10.1M560.1 221.08h10.1" stroke="#f4e4aa" stroke-width="1.51" fill="none"/>
<path d="M569.7 56.21h10.1M579.3 57.21h10.1M656.0 60.23h10.1M579.3 61.23h10.1M579.3 62.24h10.1M646.4 62.24h29.3M598.5 63.25h10.1M656.0 63.25h10.1M560.1 64.25h10.1M550.5 65.26h10.1M608.0 65.26h19.7M646.4 65.26h10.1M540.9 66.26h10.1M531.3 67.27h10.1M608.0 67.27h10.1M579.3 68.27h10.1M560.1 69.28h10.1M598.5 69.28h10.1M540.9 70.28h10.1M646.4 70.28h19.7M531.3 71.29h10.1M550.5 71.29h10.1M588.9 71.29h10.1M579.3 72.29h10.1M608.0 72.29h10.1M665.6 72.29h10.1M656.0 73.30h10.1M675.2 74.30h10.1M569.7 75.31h10.1M598.5 76.31h10.1M579.3 77.32h10.1M608.0 77.32h10.1M627.2 77.32h10.1M560.1 78.32h10.1M579.3 78.32h10.1M636.8 78.32h10.1M665.6 78.32h10.1M540.9 79.33h10.1M646.4 81.34h10.1M540.9 82.35h10.1M560.1 82.35h10.1M627.2 83.35h10.1M665.6 83.35h10.1M521.7 85.36h10.1M656.0 85.36h10.1M569.7 86.37h10.1M588.9 86.37h19.7M617.6 86.37h10.1M675.2 86.37h10.1M636.8 88.38h10.1M588.9 89.38h10.1M608.0 89.38h10.1M627.2 89.38h10.1M608.0 90.39h10.1M617.6 91.39h10.1M569.7 92.40h10.1M550.5 94.41h10.1M588.9 94.41h10.1M608.0 94.41h10.1M636.8 94.41h10.1M656.0 94.41h10.1M588.9 95.41h10.1M569.7 96.42h10.1M608.0 96.42h10.1M569.7 97.42h19.7M569.7 98.43h10.1M665.6 98.43h10.1M560.1 99.44h10.1M579.3 99.44h10.1M656.0 99.44h19.7M550.5 100.44h10.1M540.9 101.45h10.1M531.3 102.45h10.1M588.9 102.45h10.1M608.0 102.45h10.1M540.9 103.46h10.1M598.5 103.46h10.1M531.3 104.46h10.1M598.5 104.46h10.1M569.7 105.47h10.1M656.0 105.47h10.1M588.9 106.47h10.1M608.0 106.47h19.7M656.0 106.47h10.1M540.9 107.48h10.1M627.2 107.48h10.1M608.0 108.48h10.1M646.4 108.48h10.1M540.9 110.49h19.7M617.6 110.49h10.1M656.0 111.50h10.1M550.5 112.50h10.1M598.5 112.50h19.7M608.0 114.51h10.1M627.2 115.52h10.1M665.6 115.52h10.1M579.3 116.53h19.7M656.0 116.53h10.1M579.3 117.53h10.1M656.0 118.54h10.1M675.2 118.54h10.1M540.9 119.54h10.1M598.5 119.54h10.1M656.0 119.54h19.7M540.9 120.55h10.1M627.2 121.55h19.7M656.0 121.55h10.1M512.1 122.56h19.7M636.8 122.56h10.1M560.1 123.56h10.1M675.2 123.56h10.1M531.3 126.58h10.1M665.6 126.58h10.1M540.9 127.58h10.1M550.5 128.59h10.1M588.9 128.59h10.1M636.8 130.60h10.1M675.2 130.60h10.1M569.7 132.61h19.7M675.2 132.61h10.1M540.9 133.62h10.1M617.6 133.62h10.1M646.4 133.62h10.1M540.9 134.62h10.1M512.1 135.63h10.1M569.7 135.63h10.1M550.5 136.63h10.1M598.5 136.63h10.1M531.3 139.65h10.1M598.5 139.65h10.1M675.2 139.65h10.1M617.6 140.65h10.1M675.2 140.65h10.1M540.9 142.66h10.1M540.9 143.67h10.1M569.7 143.67h10.1M608.0 143.67h10.1M540.9 144.67h10.1M512.1 146.68h10.1M608.0 146.68h10.1M531.3 147.69h10.1M675.2 147.69h10.1M512.1 148.69h10.1M521.7 149.70h10.1M588.9 149.70h10.1M540.9 150.71h19.7M569.7 150.71h10.1M617.6 151.71h10.1M675.2 151.71h10.1M550.5 152.72h10.1M675.2 152.72h10.1M617.6 153.72h10.1M675.2 154.73h10.1M550.5 155.73h10.1M540.9 156.74h19.7M675.2 156.74h10.1M598.5 157.74h10.1M531.3 162.77h10.1M569.7 162.77h10.1M550.5 163.77h10.1M540.9 167.80h10.1M560.1 167.80h19.7M521.7 168.80h10.1M598.5 168.80h10.1M579.3 169.81h10.1M665.6 169.81h10.1M531.3 170.81h10.1M656.0 170.81h10.1M550.5 171.82h10.1M588.9 171.82h10.1M512.1 172.82h10.1M598.5 176.84h10.1M617.6 177.85h10.1M617.6 183.88h10.1M588.9 184.89h10.1M675.2 184.89h10.1M560.1 185.89h10.1M598.5 187.90h10.1M560.1 188.91h10.1M588.9 188.91h10.1M560.1 189.91h10.1M598.5 189.91h10.1M665.6 189.91h10.1M521.7 193.93h10.1M550.5 193.93h10.1M521.7 195.94h10.1M560.1 196.95h10.1M656.0 196.95h10.1M636.8 198.96h10.1M675.2 198.96h10.1M608.0 201.98h10.1M560.1 202.98h10.1M656.0 203.99h10.1M512.1 204.99h10.1M617.6 204.99h10.1M656.0 204.99h10.1M512.1 206.00h10.1M531.3 206.00h10.1M531.3 207.00h10.1M560.1 207.00h10.1M531.3 211.02h10.1M550.5 211.02h10.1M598.5 211.02h10.1M656.0 212.03h10.1M550.5 213.03h10.1M569.7 214.04h10.1M550.5 215.04h10.1M608.0 215.04h10.1M636.8 215.04h10.1M531.3 216.05h10.1M627.2 216.05h10.1M512.1 218.06h19.7M531.3 219.07h10.1M646.4 219.07h10.1M675.2 219.07h10.1M531.3 221.08h10.1M531.3 222.08h10.1M617.6 222.08h10.1M540.9 223.09h10.1M569.7 223.09h10.1M617.6 223.09h10.1M646.4 223.09h10.1M665.6 223.09h10.1M579.3 224.09h10.1M627.2 224.09h10.1M656.0 224.09h10.1M521.7 225.10h10.1M569.7 225.10h10.1M617.6 225.10h10.1" stroke="#e4eedb" stroke-width="1.51" fill="none"/>
<path d="M627.2 56.21h10.1M627.2 57.21h10.1M656.0 57.21h10.1M588.9 58.22h10.1M608.0 58.22h10.1M560.1 59.22h10.1M531.3 61.23h10.1M588.9 61.23h10.1M617.6 63.25h10.1M646.4 63.25h10.1M617.6 64.25h10.1M521.7 68.27h10.1M598.5 73.30h10.1M560.1 75.31h10.1M627.2 76.31h10.1M531.3 79.33h10.1M550.5 80.33h10.1M675.2 80.33h10.1M531.3 81.34h10.1M521.7 82.35h19.7M512.1 84.36h10.1M521.7 88.38h10.1M521.7 90.39h10.1M636.8 90.39h10.1M521.7 91.39h10.1M656.0 91.39h10.1M531.3 94.41h10.1M627.2 95.41h19.7M598.5 99.44h10.1M579.3 100.44h10.1M636.8 101.45h10.1M665.6 102.45h10.1M588.9 103.46h10.1M646.4 104.46h10.1M627.2 105.47h10.1M512.1 107.48h10.1M665.6 107.48h10.1M550.5 108.48h10.1M531.3 111.50h10.1M627.2 116.53h10.1M560.1 120.55h19.7M531.3 121.55h10.1M608.0 123.56h19.7M636.8 124.57h10.1M512.1 126.58h10.1M627.2 128.59h10.1M560.1 132.61h10.1M521.7 134.62h10.1M579.3 134.62h10.1M521.7 136.63h10.1M656.0 136.63h10.1M608.0 137.64h10.1M588.9 138.64h10.1M521.7 139.65h10.1M608.0 140.65h10.1M550.5 143.67h10.1M588.9 143.67h10.1M550.5 145.68h10.1M608.0 148.69h10.1M512.1 149.70h10.1M569.7 149.70h19.7M521.7 151.71h10.1M636.8 152.72h10.1M588.9 153.72h10.1M617.6 158.75h10.1M521.7 162.77h10.1M540.9 163.77h10.1M665.6 163.77h10.1M608.0 164.78h10.1M550.5 165.78h19.7M617.6 165.78h10.1M588.9 166.79h10.1M617.6 166.79h10.1M521.7 167.80h10.1M560.1 169.81h10.1M569.7 172.82h10.1M540.9 173.83h10.1M560.1 173.83h10.1M579.3 173.83h19.7M627.2 173.83h10.1M656.0 174.83h10.1M588.9 175.84h10.1M617.6 181.87h10.1M617.6 182.88h10.1M665.6 182.88h10.1M540.9 183.88h10.1M636.8 183.88h10.1M598.5 184.89h10.1M598.5 185.89h10.1M627.2 185.89h10.1M646.4 185.89h10.1M540.9 186.90h10.1M569.7 186.90h10.1M627.2 188.91h10.1M531.3 189.91h10.1M608.0 189.91h10.1M617.6 190.92h10.1M608.0 191.92h10.1M675.2 192.93h10.1M540.9 194.94h10.1M598.5 194.94h19.7M627.2 196.95h10.1M569.7 199.96h10.1M627.2 199.96h10.1M627.2 201.98h19.7M540.9 202.98h10.1M588.9 202.98h10.1M569.7 203.99h10.1M636.8 203.99h10.1M579.3 204.99h10.1M627.2 204.99h10.1M675.2 206.00h10.1M521.7 207.00h10.1M608.0 208.01h10.1M512.1 209.01h10.1M569.7 209.01h10.1M598.5 210.02h10.1M617.6 210.02h10.1M608.0 211.02h10.1M646.4 213.03h10.1M665.6 213.03h10.1M540.9 215.04h10.1M665.6 215.04h10.1M636.8 216.05h10.1M512.1 217.05h10.1M598.5 222.08h10.1M656.0 222.08h10.1" stroke="#f3e8b0" stroke-width="1.51" fill="none"/>
<path d="M636.8 56.21h10.1M646.4 57.21h10.1M521.7 59.22h10.1M512.1 71.29h10.1M521.7 79.33h10.1M560.1 80.33h10.1M550.5 83.35h10.1M560.1 85.36h10.1M512.1 93.40h10.1M540.9 94.41h10.1M540.9 95.41h19.7M579.3 95.41h10.1M512.1 96.42h10.1M512.1 100.44h10.1M521.7 101.45h10.1M627.2 101.45h10.1M550.5 103.46h10.1M560.1 104.46h10.1M665.6 104.46h10.1M560.1 105.47h10.1M512.1 110.49h10.1M521.7 113.51h10.1M550.5 114.51h10.1M569.7 127.58h10.1M646.4 128.59h10.1M598.5 129.59h10.1M512.1 138.64h10.1M646.4 138.64h10.1M656.0 139.65h10.1M521.7 145.68h10.1M665.6 146.68h10.1M627.2 147.69h10.1M636.8 161.76h10.1M627.2 165.78h10.1M665.6 165.78h10.1M579.3 168.80h10.1M627.2 168.80h10.1M512.1 170.81h10.1M665.6 171.82h10.1M579.3 172.82h10.1M675.2 174.83h10.1M617.6 175.84h10.1M665.6 176.84h10.1M598.5 180.86h10.1M560.1 181.87h10.1M627.2 181.87h10.1M636.8 184.89h10.1M521.7 185.89h10.1M608.0 185.89h10.1M579.3 188.91h10.1M579.3 196.95h10.1M579.3 197.95h10.1M579.3 198.96h19.7M675.2 202.98h10.1M521.7 209.01h10.1M579.3 210.02h10.1M675.2 211.02h10.1M588.9 215.04h10.1M540.9 218.06h10.1M540.9 219.07h10.1" stroke="#f8d895" stroke-width="1.51" fill="none"/>
<path d="M512.1 57.21h10.1M512.1 80.33h10.1M512.1 82.35h10.1M512.1 99.44h10.1M521.7 104.46h10.1M512.1 105.47h10.1M675.2 117.53h10.1M656.0 122.56h10.1M646.4 123.56h10.1M656.0 137.64h10.1M627.2 145.68h19.7M627.2 152.72h10.1M627.2 154.73h10.1M627.2 157.74h19.7M627.2 158.75h10.1M627.2 169.81h10.1M569.7 195.94h10.1M588.9 201.98h19.7M675.2 201.98h10.1M665.6 202.98h10.1M569.7 204.99h10.1M675.2 210.02h10.1M617.6 211.02h10.1" stroke="#f5ab72" stroke-width="1.51" fill="none"/>
<path d="M608.0 57.21h10.1M550.5 58.22h10.1M588.9 59.22h10.1M608.0 59.22h10.1M656.0 59.22h10.1M569.7 64.25h10.1M588.9 64.25h10.1M665.6 64.25h10.1M531.3 65.26h10.1M665.6 65.26h10.1M598.5 67.27h10.1M636.8 67.27h10.1M617.6 69.28h10.1M646.4 69.28h10.1M675.2 69.28h10.1M636.8 71.29h10.1M540.9 72.29h10.1M550.5 73.30h10.1M550.5 74.30h10.1M588.9 77.32h10.1M636.8 77.32h10.1M588.9 79.33h10.1M617.6 79.33h10.1M588.9 80.33h10.1M675.2 81.34h10.1M608.0 82.35h10.1M656.0 82.35h19.7M540.9 86.37h10.1M579.3 86.37h10.1M636.8 87.37h10.1M656.0 87.37h10.1M579.3 88.38h10.1M608.0 88.38h10.1M560.1 89.38h19.7M579.3 92.40h10.1M550.5 96.42h10.1M617.6 96.42h10.1M675.2 97.42h10.1M540.9 98.43h10.1M598.5 98.43h10.1M560.1 102.45h10.1M656.0 104.46h10.1M540.9 106.47h10.1M598.5 107.48h10.1M540.9 109.49h10.1M588.9 109.49h10.1M569.7 111.50h10.1M665.6 111.50h10.1M569.7 116.53h10.1M646.4 116.53h10.1M531.3 117.53h10.1M617.6 119.54h10.1M646.4 120.55h10.1M569.7 121.55h10.1M588.9 121.55h10.1M531.3 122.56h10.1M531.3 124.57h10.1M608.0 124.57h10.1M560.1 129.59h10.1M617.6 130.60h10.1M531.3 131.60h10.1M550.5 132.61h10.1M588.9 133.62h10.1M617.6 134.62h10.1M636.8 136.63h10.1M636.8 137.64h10.1M665.6 139.65h10.1M569.7 140.65h19.7M617.6 141.66h10.1M675.2 141.66h10.1M521.7 142.66h10.1M560.1 144.67h10.1M521.7 146.68h10.1M579.3 147.69h10.1M665.6 147.69h10.1M665.6 148.69h10.1M550.5 149.70h10.1M512.1 151.71h10.1M531.3 151.71h10.1M569.7 152.72h10.1M675.2 153.72h10.1M560.1 154.73h10.1M569.7 157.74h10.1M531.3 159.75h10.1M512.1 160.76h10.1M550.5 160.76h10.1M531.3 161.76h10.1M656.0 161.76h10.1M569.7 163.77h10.1M550.5 166.79h10.1M598.5 166.79h10.1M588.9 167.80h10.1M608.0 167.80h10.1M569.7 168.80h10.1M665.6 168.80h10.1M512.1 169.81h19.7M608.0 169.81h10.1M560.1 172.82h10.1M540.9 174.83h10.1M579.3 174.83h10.1M521.7 177.85h10.1M521.7 178.85h10.1M550.5 178.85h19.7M579.3 178.85h19.7M646.4 178.85h10.1M550.5 179.86h10.1M531.3 182.88h10.1M521.7 184.89h10.1M512.1 185.89h10.1M665.6 188.91h10.1M588.9 189.91h10.1M521.7 191.92h10.1M646.4 191.92h10.1M665.6 192.93h10.1M675.2 194.94h10.1M512.1 196.95h10.1M540.9 196.95h10.1M608.0 198.96h10.1M512.1 200.97h10.1M521.7 204.99h10.1M540.9 204.99h10.1M550.5 210.02h10.1M656.0 210.02h10.1M588.9 212.03h19.7M512.1 213.03h10.1M627.2 213.03h10.1M656.0 215.04h10.1M560.1 216.05h10.1M627.2 218.06h10.1M636.8 220.07h19.7M627.2 222.08h10.1M598.5 224.09h29.3M598.5 225.10h19.7M636.8 225.10h10.1M656.0 225.10h10.1" stroke="#e1ede0" stroke-width="1.51" fill="none"/>
<path d="M521.7 58.22h10.1M521.7 61.23h10.1M512.1 63.25h10.1M521.7 64.25h10.1M512.1 65.26h10.1M512.1 66.26h10.1M646.4 67.27h10.1M521.7 69.28h10.1M521.7 70.28h10.1M656.0 71.29h10.1M656.0 74.30h10.1M646.4 75.31h10.1M560.1 79.33h10.1M512.1 81.34h10.1M588.9 87.37h10.1M560.1 88.38h10.1M550.5 91.39h10.1M531.3 92.40h10.1M540.9 93.40h10.1M531.3 95.41h10.1M521.7 96.42h10.1M521.7 98.43h10.1M627.2 99.44h10.1M627.2 100.44h10.1M512.1 101.45h10.1M617.6 102.45h10.1M569.7 104.46h10.1M512.1 106.47h10.1M550.5 106.47h10.1M521.7 109.49h10.1M569.7 112.50h10.1M512.1 113.51h10.1M521.7 114.51h10.1M540.9 115.52h10.1M512.1 116.53h10.1M550.5 117.53h10.1M521.7 119.54h10.1M550.5 121.55h10.1M665.6 124.57h10.1M656.0 128.59h10.1M646.4 130.60h10.1M588.9 131.60h10.1M646.4 131.60h10.1M521.7 132.61h10.1M665.6 133.62h10.1M588.9 136.63h10.1M646.4 136.63h10.1M569.7 137.64h10.1M646.4 139.65h10.1M627.2 140.65h10.1M656.0 140.65h10.1M665.6 143.67h10.1M579.3 146.68h10.1M636.8 151.71h10.1M627.2 164.78h10.1M521.7 173.83h10.1M608.0 174.83h10.1M665.6 175.84h10.1M540.9 178.85h10.1M665.6 180.86h10.1M521.7 181.87h10.1M608.0 181.87h10.1M550.5 182.88h10.1M579.3 182.88h10.1M569.7 183.88h10.1M608.0 183.88h10.1M579.3 184.89h10.1M569.7 187.90h10.1M569.7 190.92h10.1M617.6 193.93h10.1M521.7 194.94h10.1M569.7 197.95h10.1M579.3 200.97h19.7M675.2 203.99h10.1M588.9 204.99h10.1M675.2 204.99h10.1M665.6 207.00h10.1M627.2 209.01h10.1M579.3 212.03h10.1M608.0 214.04h10.1M636.8 214.04h10.1M588.9 217.05h10.1M579.3 218.06h10.1M656.0 219.07h10.1M579.3 221.08h10.1" stroke="#f7de9c" stroke-width="1.51" fill="none"/>
<path d="M531.3 58.22h10.1M512.1 59.22h10.1M550.5 61.23h10.1M588.9 62.24h19.7M560.1 63.25h10.1M675.2 63.25h10.1M512.1 68.27h10.1M608.0 70.28h10.1M512.1 72.29h10.1M598.5 72.29h10.1M512.1 86.37h10.1M627.2 87.37h10.1M646.4 87.37h10.1M540.9 88.38h10.1M531.3 90.39h10.1M512.1 92.40h10.1M531.3 93.40h10.1M521.7 94.41h10.1M521.7 95.41h10.1M579.3 98.43h10.1M560.1 100.44h10.1M608.0 101.45h10.1M512.1 104.46h10.1M550.5 104.46h10.1M675.2 104.46h10.1M531.3 105.47h10.1M521.7 106.47h10.1M579.3 108.48h10.1M656.0 108.48h10.1M598.5 114.51h10.1M550.5 115.52h10.1M560.1 119.54h10.1M560.1 126.58h19.7M646.4 127.58h10.1M656.0 131.60h10.1M598.5 135.63h10.1M646.4 135.63h19.7M531.3 136.63h10.1M656.0 138.64h10.1M512.1 140.65h10.1M569.7 141.66h10.1M550.5 144.67h10.1M646.4 145.68h10.1M646.4 146.68h10.1M636.8 155.73h10.1M646.4 158.75h10.1M512.1 162.77h10.1M550.5 162.77h10.1M588.9 170.81h10.1M540.9 171.82h10.1M675.2 172.82h10.1M550.5 174.83h10.1M588.9 174.83h19.7M627.2 175.84h10.1M531.3 176.84h10.1M627.2 177.85h10.1M617.6 180.86h10.1M608.0 182.88h10.1M608.0 184.89h10.1M646.4 184.89h10.1M579.3 185.89h10.1M646.4 187.90h10.1M646.4 188.91h10.1M560.1 190.92h10.1M646.4 190.92h10.1M579.3 195.94h10.1M646.4 197.95h10.1M550.5 198.96h10.1M512.1 199.96h10.1M521.7 201.98h10.1M646.4 201.98h10.1M665.6 201.98h10.1M665.6 204.99h10.1M665.6 206.00h10.1M675.2 207.00h10.1M540.9 209.01h10.1M579.3 209.01h10.1M540.9 211.02h10.1M665.6 212.03h10.1M588.9 213.03h10.1M675.2 214.04h10.1" stroke="#f6e1a3" stroke-width="1.51" fill="none"/>
<path d="M512.1 60.23h10.1M521.7 66.26h10.1M636.8 141.66h10.1M627.2 148.69h10.1M627.2 161.76h10.1M608.0 180.86h10.1" stroke="#e56e4c" stroke-width="1.51" fill="none"/>
<path d="M512.1 61.23h10.1M598.5 61.23h10.1M627.2 61.23h10.1M521.7 63.25h10.1M521.7 65.26h10.1M512.1 70.28h10.1M512.1 74.30h10.1M521.7 75.31h10.1M521.7 78.32h10.1M521.7 80.33h10.1M617.6 80.33h10.1M560.1 83.35h10.1M531.3 84.36h10.1M560.1 87.37h10.1M540.9 89.38h10.1M540.9 90.39h10.1M531.3 91.39h10.1M569.7 93.40h10.1M512.1 95.41h10.1M627.2 98.43h19.7M521.7 99.44h10.1M512.1 102.45h10.1M521.7 103.46h10.1M550.5 107.48h10.1M512.1 111.50h10.1M521.7 112.50h19.7M521.7 115.52h10.1M550.5 120.55h10.1M656.0 124.57h10.1M598.5 128.59h10.1M636.8 131.60h10.1M675.2 136.63h10.1M540.9 141.66h10.1M627.2 143.67h10.1M665.6 144.67h10.1M646.4 150.71h10.1M627.2 153.72h10.1M636.8 154.73h10.1M636.8 156.74h10.1M636.8 166.79h10.1M636.8 168.80h10.1M627.2 170.81h10.1M675.2 171.82h10.1M665.6 172.82h10.1M665.6 174.83h10.1M675.2 176.84h10.1M608.0 179.86h10.1M569.7 181.87h10.1M627.2 187.90h19.7M646.4 189.91h10.1M569.7 193.93h19.7M598.5 198.96h10.1M569.7 200.97h10.1M598.5 200.97h10.1M512.1 201.98h10.1M675.2 209.01h10.1M665.6 210.02h10.1M617.6 219.07h10.1M636.8 219.07h10.1M665.6 219.07h10.1" stroke="#f7cd8c" stroke-width="1.51" fill="none"/>
<path d="M512.1 62.24h10.1M627.2 142.66h10.1M627.2 146.68h10.1M636.8 158.75h10.1M636.8 169.81h10.1M569.7 198.96h10.1M579.3 201.98h10.1M608.0 213.03h10.1" stroke="#eb7b53" stroke-width="1.51" fill="none"/>
<path d="M521.7 62.24h10.1M521.7 67.27h10.1M665.6 70.28h10.1M521.7 71.29h10.1M512.1 78.32h10.1M512.1 79.33h10.1M521.7 83.35h10.1M521.7 84.36h10.1M560.1 84.36h10.1M512.1 88.38h10.1M531.3 88.38h10.1M531.3 89.38h10.1M608.0 98.43h10.1M512.1 103.46h10.1M521.7 105.47h10.1M550.5 105.47h10.1M521.7 107.48h10.1M512.1 108.48h10.1M521.7 110.49h10.1M512.1 112.50h10.1M550.5 118.54h10.1M646.4 122.56h10.1M656.0 130.60h10.1M636.8 144.67h10.1M636.8 146.68h10.1M636.8 149.70h10.1M627.2 151.71h10.1M636.8 160.76h10.1M627.2 163.77h19.7M636.8 170.81h10.1M636.8 173.83h10.1M675.2 175.84h10.1M550.5 180.86h10.1M579.3 181.87h10.1M579.3 187.90h10.1M569.7 188.91h10.1M569.7 189.91h19.7M579.3 192.93h10.1M569.7 194.94h19.7M598.5 199.96h10.1M569.7 201.98h10.1M569.7 202.98h10.1M579.3 203.99h10.1M627.2 208.01h10.1M608.0 209.01h10.1M646.4 209.01h10.1M512.1 224.09h10.1" stroke="#f7c184" stroke-width="1.51" fill="none"/>
<path d="M550.5 62.24h10.1M550.5 64.25h10.1M617.6 74.30h10.1M656.0 80.33h10.1M656.0 81.34h10.1M665.6 87.37h10.1M675.2 90.39h10.1M646.4 97.42h10.1M531.3 106.47h10.1M579.3 106.47h10.1M588.9 119.54h10.1M588.9 123.56h10.1M550.5 134.62h10.1M588.9 152.72h10.1M540.9 153.72h10.1M531.3 157.74h10.1M560.1 157.74h10.1M646.4 163.77h10.1M512.1 165.78h10.1M512.1 176.84h10.1M540.9 176.84h10.1M540.9 177.85h10.1M512.1 182.88h10.1M636.8 189.91h10.1M588.9 197.95h10.1M521.7 215.04h10.1M656.0 220.07h10.1M675.2 220.07h10.1M569.7 224.09h10.1M646.4 224.09h10.1M550.5 225.10h10.1M646.4 225.10h10.1" stroke="#d8eae9" stroke-width="1.51" fill="none"/>
<path d="M531.3 73.30h10.1M627.2 117.53h10.1M617.6 155.73h10.1M617.6 202.98h10.1" stroke="#c2dbe3" stroke-width="1.51" fill="none"/>
<path d="M512.1 77.32h10.1M512.1 83.35h10.1M521.7 86.37h10.1M512.1 94.41h10.1M521.7 100.44h10.1M521.7 108.48h10.1M627.2 141.66h10.1M636.8 148.69h10.1M636.8 150.71h10.1M636.8 171.82h10.1M617.6 178.85h10.1M569.7 191.92h10.1M569.7 192.93h10.1M579.3 199.96h10.1M627.2 206.00h10.1" stroke="#f59f6a" stroke-width="1.51" fill="none"/>
<path d="M540.9 91.39h10.1M512.1 114.51h10.1M512.1 118.54h19.7M656.0 126.58h10.1M627.2 166.79h10.1M588.9 199.96h10.1" stroke="#f49461" stroke-width="1.51" fill="none"/>
<path d="M598.5 92.40h10.1M598.5 97.42h10.1M656.0 109.49h10.1M588.9 111.50h10.1M656.0 120.55h10.1M540.9 122.56h10.1M550.5 127.58h10.1M560.1 151.71h10.1M656.0 179.86h10.1M512.1 189.91h10.1M646.4 202.98h10.1M521.7 212.03h10.1" stroke="#cde2e6" stroke-width="1.51" fill="none"/>
<path d="M665.6 134.62h10.1M608.0 153.72h10.1M675.2 167.80h10.1M512.1 215.04h10.1" stroke="#b8d4e0" stroke-width="1.51" fill="none"/>
<path d="M627.2 144.67h10.1M627.2 159.75h10.1M636.8 164.78h10.1" stroke="#e06145" stroke-width="1.51" fill="none"/>
<path d="M636.8 159.75h10.1M665.6 170.81h10.1" stroke="#da543e" stroke-width="1.51" fill="none"/>
<rect x="512.4" y="47.2" width="9.6" height="3.4" fill="#64124f" stroke="#333" stroke-width="0.7"/>
<rect x="512.4" y="50.6" width="9.6" height="3.6" fill="#ffffff" stroke="#333" stroke-width="0.7"/>
<rect x="522" y="47.2" width="9.6" height="3.4" fill="#64124f" stroke="#333" stroke-width="0.7"/>
<rect x="522" y="50.6" width="9.6" height="3.6" fill="#ffffff" stroke="#333" stroke-width="0.7"/>
<rect x="531.6" y="47.2" width="9.6" height="3.4" fill="#8c5a8c" stroke="#333" stroke-width="0.7"/>
<rect x="531.6" y="50.6" width="9.6" height="3.6" fill="#ffffff" stroke="#333" stroke-width="0.7"/>
<rect x="541.2" y="47.2" width="9.6" height="3.4" fill="#8c5a8c" stroke="#333" stroke-width="0.7"/>
<rect x="541.2" y="50.6" width="9.6" height="3.6" fill="#ffffff" stroke="#333" stroke-width="0.7"/>
<rect x="550.8" y="47.2" width="9.6" height="3.4" fill="#c993d3" stroke="#333" stroke-width="0.7"/>
<rect x="550.8" y="50.6" width="9.6" height="3.6" fill="#ffffff" stroke="#333" stroke-width="0.7"/>
<rect x="560.4" y="47.2" width="9.6" height="3.4" fill="#c993d3" stroke="#333" stroke-width="0.7"/>
<rect x="560.4" y="50.6" width="9.6" height="3.6" fill="#ffffff" stroke="#333" stroke-width="0.7"/>
<rect x="569.9" y="47.2" width="9.6" height="3.4" fill="#64124f" stroke="#333" stroke-width="0.7"/>
<rect x="569.9" y="50.6" width="9.6" height="3.6" fill="#f5b5b0" stroke="#333" stroke-width="0.7"/>
<rect x="579.5" y="47.2" width="9.6" height="3.4" fill="#64124f" stroke="#333" stroke-width="0.7"/>
<rect x="579.5" y="50.6" width="9.6" height="3.6" fill="#f5b5b0" stroke="#333" stroke-width="0.7"/>
<rect x="589.1" y="47.2" width="9.6" height="3.4" fill="#c993d3" stroke="#333" stroke-width="0.7"/>
<rect x="589.1" y="50.6" width="9.6" height="3.6" fill="#f5b5b0" stroke="#333" stroke-width="0.7"/>
<rect x="598.7" y="47.2" width="9.6" height="3.4" fill="#c993d3" stroke="#333" stroke-width="0.7"/>
<rect x="598.7" y="50.6" width="9.6" height="3.6" fill="#f5b5b0" stroke="#333" stroke-width="0.7"/>
<rect x="608.3" y="47.2" width="9.6" height="3.4" fill="#8c5a8c" stroke="#333" stroke-width="0.7"/>
<rect x="608.3" y="50.6" width="9.6" height="3.6" fill="#f5b5b0" stroke="#333" stroke-width="0.7"/>
<rect x="617.9" y="47.2" width="9.6" height="3.4" fill="#8c5a8c" stroke="#333" stroke-width="0.7"/>
<rect x="617.9" y="50.6" width="9.6" height="3.6" fill="#f5b5b0" stroke="#333" stroke-width="0.7"/>
<rect x="627.5" y="47.2" width="9.6" height="3.4" fill="#64124f" stroke="#333" stroke-width="0.7"/>
<rect x="627.5" y="50.6" width="9.6" height="3.6" fill="#ee6a6e" stroke="#333" stroke-width="0.7"/>
<rect x="637.1" y="47.2" width="9.6" height="3.4" fill="#64124f" stroke="#333" stroke-width="0.7"/>
<rect x="637.1" y="50.6" width="9.6" height="3.6" fill="#ee6a6e" stroke="#333" stroke-width="0.7"/>
<rect x="646.7" y="47.2" width="9.6" height="3.4" fill="#8c5a8c" stroke="#333" stroke-width="0.7"/>
<rect x="646.7" y="50.6" width="9.6" height="3.6" fill="#ee6a6e" stroke="#333" stroke-width="0.7"/>
<rect x="656.2" y="47.2" width="9.6" height="3.4" fill="#8c5a8c" stroke="#333" stroke-width="0.7"/>
<rect x="656.2" y="50.6" width="9.6" height="3.6" fill="#ee6a6e" stroke="#333" stroke-width="0.7"/>
<rect x="665.8" y="47.2" width="9.6" height="3.4" fill="#c993d3" stroke="#333" stroke-width="0.7"/>
<rect x="665.8" y="50.6" width="9.6" height="3.6" fill="#ee6a6e" stroke="#333" stroke-width="0.7"/>
<rect x="675.4" y="47.2" width="9.6" height="3.4" fill="#c993d3" stroke="#333" stroke-width="0.7"/>
<rect x="675.4" y="50.6" width="9.6" height="3.6" fill="#ee6a6e" stroke="#333" stroke-width="0.7"/>
<path d="M517.2 47.2V38.6H526.8V47.2" fill="none" stroke="#000" stroke-width="1.0"/>
<path d="M536.4 47.2V39.7H546V47.2" fill="none" stroke="#000" stroke-width="1.0"/>
<path d="M555.6 47.2V39.7H565.1V47.2" fill="none" stroke="#000" stroke-width="1.0"/>
<path d="M574.7 47.2V40.7H584.3V47.2" fill="none" stroke="#000" stroke-width="1.0"/>
<path d="M593.9 47.2V39.7H603.5V47.2" fill="none" stroke="#000" stroke-width="1.0"/>
<path d="M613.1 47.2V38.3H622.7V47.2" fill="none" stroke="#000" stroke-width="1.0"/>
<path d="M632.3 47.2V38.6H641.9V47.2" fill="none" stroke="#000" stroke-width="1.0"/>
<path d="M651.5 47.2V39.3H661V47.2" fill="none" stroke="#000" stroke-width="1.0"/>
<path d="M670.6 47.2V39.3H680.2V47.2" fill="none" stroke="#000" stroke-width="1.0"/>
<path d="M541.2 39.7V35.1H560.3V39.7" fill="none" stroke="#000" stroke-width="1.0"/>
<path d="M598.7 39.7V35.1H617.9V38.3" fill="none" stroke="#000" stroke-width="1.0"/>
<path d="M579.5 40.7V34.4H608.3V35.1" fill="none" stroke="#000" stroke-width="1.0"/>
<path d="M550.8 35.1V31.6H593.9V34.4" fill="none" stroke="#000" stroke-width="1.0"/>
<path d="M656.2 39.3V33.3H675.4V39.3" fill="none" stroke="#000" stroke-width="1.0"/>
<path d="M637.1 38.6V30H665.8V33.3" fill="none" stroke="#000" stroke-width="1.0"/>
<path d="M572.3 31.6V26.4H651.5V30" fill="none" stroke="#000" stroke-width="1.0"/>
<path d="M522 38.6V24.4H611.9V26.4" fill="none" stroke="#000" stroke-width="1.0"/>
<defs><linearGradient id="gb" x1="0" x2="1" y1="0" y2="0"><stop offset="0.000" stop-color="#cf3b30"/><stop offset="0.167" stop-color="#f4905e"/><stop offset="0.333" stop-color="#f8dc98"/><stop offset="0.500" stop-color="#eff1c4"/><stop offset="0.667" stop-color="#dcecea"/><stop offset="0.833" stop-color="#93bcd6"/><stop offset="1.000" stop-color="#4a72ae"/></linearGradient><linearGradient id="gf" x1="0" x2="0" y1="0" y2="1"><stop offset="0.000" stop-color="#cf3b30"/><stop offset="0.167" stop-color="#f4905e"/><stop offset="0.333" stop-color="#f8dc98"/><stop offset="0.500" stop-color="#eff1c4"/><stop offset="0.667" stop-color="#dcecea"/><stop offset="0.833" stop-color="#93bcd6"/><stop offset="1.000" stop-color="#4a72ae"/></linearGradient></defs>
<rect x="531.8" y="9.9" width="78.6" height="4.9" fill="url(#gb)"/>
<text x="550.9" y="6.1" font-size="7.9" text-anchor="middle" fill="#333">2</text>
<text x="571" y="6.1" font-size="7.9" text-anchor="middle" fill="#333">0</text>
<text x="590.7" y="6.1" font-size="7.9" text-anchor="middle" fill="#333">−2</text>
<rect x="495.1" y="236.4" width="12.4" height="6.4" fill="#ffffff" stroke="#222" stroke-width="0.9"/>
<text x="511.6" y="242.6" font-size="9.7" fill="#1a1a1a">Ctrl</text>
<rect x="534.2" y="236.4" width="12.4" height="6.4" fill="#f5b5b0" stroke="#222" stroke-width="0.9"/>
<text x="550.6" y="242.6" font-size="9.7" fill="#1a1a1a">Li-R</text>
<rect x="576.1" y="236.4" width="12.4" height="6.4" fill="#ee6a6e" stroke="#222" stroke-width="0.9"/>
<text x="592.6" y="242.6" font-size="9.7" fill="#1a1a1a">Li-NR</text>
<rect x="495.1" y="251" width="12.4" height="6.4" fill="#c993d3" stroke="#222" stroke-width="0.9"/>
<text x="511.6" y="257.2" font-size="9.7" fill="#1a1a1a">Subject 1</text>
<rect x="560" y="251" width="12.4" height="6.4" fill="#8c5a8c" stroke="#222" stroke-width="0.9"/>
<text x="576.9" y="257.2" font-size="9.7" fill="#1a1a1a">Subject 2</text>
<rect x="625.6" y="251" width="12.4" height="6.4" fill="#64124f" stroke="#222" stroke-width="0.9"/>
<text x="642.7" y="257.2" font-size="9.7" fill="#1a1a1a">Subject 3</text>
<path d="M452.6 566.05h15.6M512.8 568.16h15.6M512.8 570.27h15.6M543.0 572.37h15.6M482.7 576.59h15.6M497.8 580.80h15.6M527.9 580.80h15.6M603.2 580.80h15.6M452.6 582.91h15.6M527.9 585.01h15.6M497.8 587.12h15.6M527.9 589.23h15.6M452.6 591.34h15.6M497.8 593.44h15.6M512.8 601.87h15.6M512.8 608.19h15.6M452.6 610.30h45.7M452.6 612.40h15.6M452.6 616.62h15.6M558.0 616.62h15.6M512.8 618.72h15.6M452.6 620.83h15.6M527.9 627.15h15.6M482.7 631.36h15.6M527.9 635.58h15.6M482.7 644.01h15.6M497.8 646.11h15.6M512.8 648.22h15.6M482.7 650.33h15.6M512.8 650.33h15.6M467.6 660.86h15.6M618.3 660.86h15.6M543.0 662.97h15.6M543.0 671.39h15.6M588.2 673.50h15.6M588.2 675.61h15.6M543.0 677.71h15.6M543.0 681.93h15.6M603.2 681.93h15.6M603.2 684.04h15.6M543.0 690.36h15.6M558.0 692.46h15.6M618.3 692.46h15.6M543.0 696.68h15.6M618.3 698.78h15.6M452.6 700.89h15.6M573.1 707.21h15.6M558.0 711.42h15.6M543.0 715.64h15.6M618.3 717.74h15.6M558.0 726.17h15.6M603.2 728.28h15.6M618.3 730.39h15.6M482.7 732.49h15.6M573.1 734.60h15.6M603.2 734.60h15.6M618.3 745.13h15.6M603.2 747.24h15.6M618.3 749.35h15.6" stroke="#deece6" stroke-width="2.61" fill="none"/>
<path d="M467.6 566.05h15.6M497.8 574.48h15.6M527.9 574.48h15.6M467.6 578.69h15.6M482.7 582.91h60.8M482.7 585.01h15.6M497.8 595.55h15.6M543.0 595.55h15.6M512.8 597.66h15.6M452.6 599.76h15.6M467.6 601.87h15.6M527.9 606.08h15.6M512.8 616.62h15.6M497.8 618.72h15.6M467.6 620.83h15.6M512.8 620.83h15.6M543.0 620.83h15.6M527.9 622.94h15.6M452.6 627.15h15.6M527.9 629.26h15.6M452.6 633.47h15.6M467.6 635.58h15.6M512.8 641.90h15.6M467.6 644.01h15.6M467.6 650.33h15.6M588.2 650.33h15.6M512.8 652.43h15.6M452.6 658.75h15.6M618.3 662.97h15.6M558.0 667.18h15.6M573.1 671.39h15.6M603.2 675.61h15.6M588.2 681.93h15.6M543.0 684.04h15.6M588.2 684.04h15.6M588.2 700.89h15.6M588.2 703.00h15.6M452.6 707.21h15.6M558.0 709.32h15.6M558.0 715.64h15.6M618.3 715.64h15.6M543.0 719.85h15.6M543.0 726.17h15.6M543.0 728.28h15.6M588.2 730.39h15.6M543.0 736.71h15.6" stroke="#d8eae9" stroke-width="2.61" fill="none"/>
<path d="M482.7 566.05h15.6M618.3 566.05h15.6M497.8 570.27h15.6M527.9 570.27h15.6M452.6 574.48h30.6M452.6 578.69h15.6M588.2 580.80h15.6M558.0 585.01h15.6M482.7 587.12h15.6M512.8 589.23h15.6M467.6 591.34h15.6M452.6 593.44h30.6M452.6 597.66h15.6M482.7 599.76h15.6M512.8 599.76h15.6M452.6 603.98h15.6M482.7 603.98h30.6M527.9 603.98h15.6M482.7 608.19h15.6M497.8 610.30h30.6M467.6 612.40h15.6M467.6 614.51h15.6M558.0 620.83h15.6M482.7 622.94h15.6M452.6 625.04h15.6M452.6 629.26h15.6M497.8 635.58h15.6M543.0 635.58h15.6M482.7 641.90h15.6M527.9 644.01h15.6M452.6 650.33h15.6M497.8 650.33h15.6M573.1 652.43h15.6M467.6 654.54h15.6M497.8 654.54h15.6M497.8 656.65h15.6M482.7 658.75h15.6M543.0 665.07h15.6M588.2 665.07h15.6M558.0 671.39h15.6M512.8 679.82h15.6M573.1 681.93h15.6M618.3 681.93h15.6M618.3 686.14h15.6M588.2 690.36h15.6M573.1 692.46h15.6M573.1 696.68h15.6M588.2 707.21h15.6M467.6 711.42h15.6M618.3 711.42h15.6M467.6 713.53h15.6M543.0 717.74h15.6M603.2 717.74h15.6M558.0 719.85h15.6M618.3 728.28h15.6M467.6 730.39h15.6M618.3 732.49h15.6M558.0 736.71h15.6M543.0 740.92h15.6M588.2 740.92h30.6M482.7 743.03h15.6M558.0 743.03h15.6M543.0 747.24h15.6" stroke="#e4eedb" stroke-width="2.61" fill="none"/>
<path d="M497.8 566.05h15.6M543.0 568.16h30.6M452.6 570.27h15.6M512.8 572.37h15.6M573.1 572.37h15.6M618.3 572.37h15.6M482.7 578.69h15.6M618.3 578.69h15.6M618.3 582.91h15.6M543.0 585.01h15.6M512.8 587.12h15.6M603.2 589.23h15.6M527.9 591.34h15.6M482.7 601.87h30.6M588.2 608.19h15.6M527.9 610.30h15.6M482.7 612.40h15.6M527.9 612.40h15.6M573.1 612.40h15.6M618.3 618.72h15.6M558.0 622.94h15.6M618.3 622.94h15.6M482.7 627.15h15.6M467.6 637.69h15.6M467.6 639.79h15.6M527.9 641.90h15.6M618.3 644.01h15.6M467.6 648.22h15.6M603.2 650.33h15.6M452.6 652.43h15.6M482.7 652.43h30.6M527.9 652.43h15.6M543.0 656.65h15.6M573.1 660.86h15.6M588.2 662.97h15.6M558.0 669.29h15.6M588.2 671.39h15.6M573.1 677.71h30.6M618.3 677.71h15.6M588.2 679.82h30.6M573.1 686.14h15.6M558.0 688.25h15.6M618.3 690.36h15.6M543.0 692.46h15.6M603.2 694.57h30.6M618.3 696.68h15.6M543.0 698.78h15.6M573.1 698.78h15.6M603.2 707.21h30.6M588.2 709.32h15.6M618.3 713.53h15.6M482.7 715.64h15.6M512.8 719.85h15.6M497.8 721.96h15.6M543.0 724.06h15.6M482.7 734.60h15.6M618.3 736.71h15.6M558.0 738.81h15.6M618.3 738.81h15.6M618.3 743.03h15.6M558.0 745.13h15.6M618.3 747.24h15.6M558.0 749.35h15.6" stroke="#e9f0cf" stroke-width="2.61" fill="none"/>
<path d="M512.8 566.05h15.6M618.3 568.16h15.6M558.0 572.37h15.6M558.0 574.48h15.6M512.8 576.59h15.6M573.1 578.69h15.6M558.0 580.80h15.6M588.2 591.34h15.6M527.9 593.44h15.6M618.3 593.44h15.6M452.6 601.87h15.6M527.9 614.51h15.6M603.2 616.62h15.6M497.8 625.04h30.6M618.3 625.04h15.6M512.8 633.47h15.6M573.1 633.47h15.6M512.8 635.58h15.6M603.2 639.79h15.6M452.6 644.01h15.6M588.2 644.01h15.6M603.2 646.11h15.6M512.8 658.75h15.6M588.2 660.86h15.6M482.7 667.18h15.6M603.2 671.39h15.6M527.9 675.61h15.6M603.2 677.71h15.6M512.8 681.93h15.6M452.6 686.14h15.6M497.8 688.25h15.6M603.2 688.25h15.6M467.6 690.36h15.6M558.0 690.36h15.6M527.9 692.46h15.6M497.8 694.57h15.6M452.6 698.78h15.6M558.0 698.78h15.6M603.2 698.78h15.6M573.1 703.00h15.6M452.6 711.42h15.6M497.8 713.53h15.6M452.6 719.85h15.6M497.8 719.85h15.6M603.2 719.85h15.6M527.9 721.96h15.6M588.2 721.96h15.6M512.8 724.06h15.6M603.2 724.06h30.6M452.6 728.28h15.6M512.8 728.28h15.6M573.1 728.28h15.6M558.0 732.49h30.6M452.6 736.71h15.6M527.9 736.71h15.6M512.8 743.03h15.6M573.1 743.03h15.6M497.8 745.13h15.6M467.6 747.24h15.6M497.8 747.24h15.6M527.9 747.24h15.6M467.6 749.35h15.6" stroke="#eff1c4" stroke-width="2.61" fill="none"/>
<path d="M527.9 566.05h15.6M527.9 572.37h15.6M603.2 576.59h15.6M467.6 580.80h15.6M573.1 580.80h15.6M467.6 585.01h15.6M452.6 589.23h15.6M497.8 591.34h15.6M618.3 591.34h15.6M512.8 593.44h15.6M467.6 599.76h15.6M603.2 603.98h15.6M497.8 608.19h15.6M543.0 608.19h15.6M497.8 616.62h15.6M527.9 618.72h15.6M467.6 622.94h15.6M497.8 627.15h15.6M452.6 631.36h15.6M512.8 631.36h15.6M512.8 637.69h15.6M527.9 639.79h15.6M497.8 641.90h15.6M467.6 646.11h15.6M482.7 648.22h15.6M618.3 648.22h15.6M527.9 650.33h15.6M512.8 654.54h15.6M512.8 656.65h15.6M603.2 665.07h15.6M573.1 667.18h15.6M588.2 669.29h15.6M543.0 673.50h15.6M603.2 673.50h30.6M543.0 679.82h15.6M588.2 688.25h15.6M588.2 694.57h15.6M527.9 698.78h15.6M588.2 698.78h15.6M543.0 700.89h15.6M588.2 705.10h15.6M543.0 707.21h15.6M543.0 711.42h15.6M558.0 713.53h30.6M603.2 715.64h15.6M573.1 719.85h30.6M558.0 721.96h15.6M482.7 726.17h15.6M527.9 726.17h15.6M588.2 728.28h15.6M497.8 730.39h15.6M543.0 730.39h30.6M543.0 732.49h15.6M603.2 732.49h15.6M618.3 734.60h15.6M467.6 740.92h15.6M603.2 743.03h15.6M573.1 749.35h15.6" stroke="#e6efd5" stroke-width="2.61" fill="none"/>
<path d="M543.0 566.05h30.6M588.2 570.27h15.6M618.3 574.48h15.6M558.0 578.69h15.6M603.2 585.01h15.6M482.7 597.66h15.6M603.2 599.76h15.6M618.3 601.87h15.6M467.6 603.98h15.6M573.1 608.19h15.6M603.2 608.19h15.6M573.1 616.62h15.6M543.0 622.94h15.6M603.2 629.26h15.6M588.2 631.36h15.6M588.2 633.47h15.6M573.1 635.58h15.6M603.2 635.58h15.6M618.3 637.69h15.6M588.2 639.79h15.6M588.2 641.90h15.6M618.3 641.90h15.6M573.1 644.01h15.6M482.7 646.11h15.6M543.0 650.33h15.6M482.7 656.65h15.6M573.1 656.65h15.6M618.3 656.65h15.6M573.1 658.75h15.6M497.8 660.86h15.6M573.1 675.61h15.6M512.8 677.71h15.6M452.6 684.04h15.6M467.6 694.57h15.6M512.8 694.57h15.6M588.2 696.68h15.6M452.6 703.00h30.6M497.8 703.00h15.6M467.6 707.21h15.6M482.7 709.32h15.6M527.9 715.64h15.6M588.2 715.64h15.6M467.6 732.49h15.6M497.8 734.60h15.6M497.8 736.71h15.6M482.7 738.81h15.6M512.8 747.24h15.6" stroke="#f3e8b0" stroke-width="2.61" fill="none"/>
<path d="M573.1 566.05h15.6M543.0 570.27h15.6M573.1 574.48h30.6M618.3 585.01h15.6M558.0 587.12h15.6M603.2 587.12h15.6M573.1 599.76h15.6M618.3 599.76h15.6M588.2 610.30h15.6M558.0 612.40h15.6M543.0 614.51h30.6M543.0 618.72h15.6M618.3 629.26h15.6M543.0 631.36h15.6M543.0 633.47h15.6M558.0 635.58h15.6M558.0 637.69h15.6M543.0 648.22h15.6M618.3 650.33h15.6M603.2 654.54h15.6M588.2 658.75h15.6M512.8 669.29h15.6M527.9 671.39h15.6M482.7 681.93h15.6M452.6 688.25h15.6M497.8 690.36h15.6M527.9 690.36h15.6M512.8 696.68h15.6M512.8 698.78h15.6M527.9 705.10h15.6M482.7 707.21h15.6M482.7 711.42h15.6M452.6 715.64h15.6M482.7 724.06h15.6M497.8 732.49h15.6M512.8 734.60h15.6M452.6 740.92h15.6M467.6 743.03h15.6M467.6 745.13h15.6" stroke="#f8d895" stroke-width="2.61" fill="none"/>
<path d="M588.2 566.05h15.6M618.3 614.51h15.6M603.2 620.83h15.6M543.0 658.75h15.6M467.6 662.97h15.6M527.9 665.07h15.6M467.6 681.93h15.6M497.8 700.89h15.6M497.8 705.10h15.6M512.8 709.32h30.6M497.8 726.17h15.6M467.6 736.71h15.6M452.6 749.35h15.6" stroke="#f5ab72" stroke-width="2.61" fill="none"/>
<path d="M603.2 566.05h15.6M543.0 580.80h15.6M558.0 654.54h15.6M452.6 673.50h15.6M452.6 675.61h15.6M482.7 696.68h15.6M482.7 698.78h15.6M482.7 700.89h15.6" stroke="#cf3b30" stroke-width="2.61" fill="none"/>
<path d="M452.6 568.16h15.6M527.9 568.16h15.6M452.6 572.37h15.6M497.8 572.37h15.6M452.6 580.80h15.6M482.7 580.80h15.6M467.6 587.12h15.6M482.7 591.34h15.6M512.8 591.34h15.6M452.6 595.55h15.6M527.9 608.19h15.6M588.2 614.51h15.6M482.7 637.69h15.6M603.2 662.97h15.6M603.2 669.29h15.6M618.3 671.39h15.6M618.3 679.82h15.6M558.0 686.14h15.6M603.2 692.46h15.6M603.2 700.89h15.6M573.1 711.42h15.6M603.2 711.42h15.6M618.3 721.96h15.6M482.7 728.28h15.6M603.2 730.39h15.6" stroke="#c2dbe3" stroke-width="2.61" fill="none"/>
<path d="M467.6 568.16h15.6M467.6 570.27h15.6M482.7 574.48h15.6M512.8 574.48h15.6M452.6 576.59h30.6M618.3 580.80h15.6M558.0 582.91h15.6M497.8 585.01h15.6M497.8 589.23h15.6M558.0 589.23h15.6M558.0 591.34h15.6M482.7 595.55h15.6M512.8 595.55h15.6M543.0 597.66h15.6M452.6 606.08h15.6M497.8 606.08h15.6M467.6 608.19h15.6M467.6 618.72h15.6M527.9 620.83h15.6M603.2 625.04h15.6M558.0 629.26h15.6M588.2 629.26h15.6M603.2 631.36h30.6M527.9 633.47h15.6M452.6 639.79h15.6M452.6 641.90h15.6M497.8 644.01h30.6M558.0 644.01h15.6M543.0 646.11h15.6M588.2 646.11h15.6M452.6 648.22h15.6M573.1 654.54h15.6M497.8 658.75h15.6M527.9 658.75h15.6M512.8 667.18h15.6M527.9 669.29h15.6M467.6 671.39h15.6M573.1 673.50h15.6M543.0 675.61h15.6M467.6 677.71h15.6M497.8 679.82h15.6M497.8 681.93h15.6M558.0 684.04h15.6M497.8 686.14h15.6M543.0 686.14h15.6M588.2 686.14h30.6M573.1 690.36h15.6M512.8 692.46h15.6M573.1 694.57h15.6M558.0 696.68h15.6M603.2 696.68h15.6M512.8 703.00h15.6M558.0 705.10h30.6M467.6 709.32h15.6M497.8 709.32h15.6M618.3 709.32h15.6M512.8 711.42h15.6M497.8 717.74h15.6M527.9 717.74h15.6M588.2 726.17h15.6M558.0 728.28h15.6M543.0 734.60h15.6M588.2 738.81h15.6M543.0 743.03h15.6M573.1 745.13h15.6M558.0 747.24h15.6" stroke="#ecf0ca" stroke-width="2.61" fill="none"/>
<path d="M482.7 568.16h15.6M482.7 572.37h15.6M482.7 593.44h15.6M497.8 597.66h15.6M527.9 601.87h15.6M512.8 606.08h15.6M452.6 608.19h15.6M452.6 614.51h15.6M482.7 614.51h30.6M467.6 616.62h15.6M482.7 618.72h15.6M482.7 620.83h30.6M512.8 622.94h15.6M512.8 627.15h15.6M467.6 629.26h15.6M512.8 629.26h15.6M467.6 631.36h15.6M467.6 633.47h15.6M497.8 633.47h15.6M527.9 637.69h15.6M497.8 639.79h30.6M452.6 646.11h15.6M512.8 646.11h15.6M618.3 652.43h15.6M452.6 654.54h15.6M482.7 654.54h15.6M527.9 656.65h15.6M467.6 658.75h15.6M603.2 660.86h15.6M573.1 662.97h15.6M558.0 665.07h30.6M452.6 667.18h15.6M618.3 667.18h15.6M543.0 669.29h15.6M618.3 669.29h15.6M527.9 677.71h15.6M558.0 679.82h30.6M527.9 681.93h15.6M527.9 684.04h15.6M618.3 684.04h15.6M573.1 688.25h15.6M543.0 703.00h30.6M618.3 703.00h15.6M543.0 705.10h15.6M558.0 707.21h15.6M543.0 709.32h15.6M573.1 709.32h15.6M588.2 711.42h15.6M588.2 713.53h30.6M573.1 715.64h15.6M482.7 717.74h15.6M573.1 717.74h30.6M467.6 719.85h15.6M618.3 719.85h15.6M603.2 721.96h15.6M573.1 724.06h30.6M467.6 728.28h15.6M558.0 734.60h15.6M512.8 736.71h15.6M573.1 736.71h15.6M573.1 738.81h15.6M603.2 738.81h15.6M573.1 740.92h15.6M543.0 745.13h15.6M588.2 745.13h15.6M573.1 747.24h30.6" stroke="#e1ede0" stroke-width="2.61" fill="none"/>
<path d="M497.8 568.16h15.6M482.7 589.23h15.6M467.6 606.08h15.6M512.8 612.40h15.6M452.6 637.69h15.6M452.6 717.74h15.6" stroke="#adcddd" stroke-width="2.61" fill="none"/>
<path d="M573.1 568.16h30.6M588.2 576.59h15.6M618.3 576.59h15.6M588.2 578.69h15.6M573.1 582.91h15.6M467.6 589.23h15.6M467.6 595.55h15.6M467.6 597.66h15.6M558.0 603.98h15.6M543.0 606.08h30.6M603.2 606.08h15.6M558.0 608.19h15.6M558.0 618.72h15.6M573.1 622.94h15.6M467.6 625.04h15.6M558.0 625.04h15.6M543.0 627.15h15.6M618.3 633.47h15.6M618.3 635.58h15.6M588.2 637.69h15.6M543.0 641.90h15.6M573.1 650.33h15.6M467.6 652.43h15.6M588.2 652.43h30.6M603.2 656.65h15.6M618.3 658.75h15.6M512.8 665.07h15.6M467.6 667.18h15.6M482.7 669.29h15.6M482.7 671.39h30.6M512.8 673.50h15.6M618.3 675.61h15.6M558.0 677.71h15.6M467.6 684.04h15.6M467.6 686.14h15.6M467.6 688.25h15.6M543.0 688.25h15.6M452.6 690.36h15.6M497.8 692.46h15.6M497.8 698.78h15.6M467.6 705.10h15.6M467.6 717.74h15.6M512.8 717.74h15.6M573.1 726.17h15.6M618.3 726.17h15.6M497.8 738.81h15.6M558.0 740.92h15.6M497.8 749.35h15.6" stroke="#f2ebb7" stroke-width="2.61" fill="none"/>
<path d="M603.2 568.16h15.6M452.6 677.71h15.6M467.6 724.06h15.6" stroke="#e56e4c" stroke-width="2.61" fill="none"/>
<path d="M482.7 570.27h15.6M497.8 578.69h45.7M527.9 587.12h15.6M527.9 599.76h15.6M588.2 599.76h15.6M482.7 606.08h15.6M497.8 612.40h15.6M512.8 614.51h15.6M482.7 616.62h15.6M527.9 616.62h15.6M452.6 618.72h15.6M497.8 622.94h15.6M467.6 627.15h15.6M482.7 629.26h30.6M527.9 631.36h15.6M482.7 639.79h15.6M497.8 648.22h15.6M527.9 654.54h15.6M452.6 656.65h30.6M543.0 667.18h15.6M588.2 667.18h15.6M573.1 669.29h15.6M558.0 675.61h15.6M618.3 688.25h15.6M603.2 690.36h15.6M558.0 700.89h15.6M603.2 703.00h15.6M603.2 726.17h15.6M588.2 743.03h15.6M603.2 745.13h15.6M588.2 749.35h15.6" stroke="#cde2e6" stroke-width="2.61" fill="none"/>
<path d="M558.0 570.27h30.6M573.1 576.59h15.6M603.2 578.69h15.6M603.2 582.91h15.6M573.1 587.12h15.6M588.2 589.23h15.6M603.2 593.44h15.6M527.9 597.66h15.6M573.1 597.66h15.6M588.2 601.87h15.6M588.2 606.08h15.6M543.0 610.30h15.6M603.2 612.40h15.6M573.1 614.51h15.6M588.2 622.94h15.6M588.2 627.15h15.6M543.0 629.26h15.6M603.2 633.47h15.6M497.8 637.69h15.6M543.0 654.54h15.6M588.2 654.54h15.6M512.8 660.86h15.6M512.8 675.61h15.6M452.6 679.82h15.6M527.9 686.14h15.6M558.0 694.57h15.6M467.6 698.78h15.6M527.9 700.89h15.6M527.9 707.21h15.6M558.0 717.74h15.6M527.9 719.85h15.6M452.6 721.96h15.6M452.6 724.06h15.6M527.9 724.06h15.6M452.6 726.17h30.6M527.9 732.49h15.6M512.8 740.92h15.6M482.7 745.13h15.6M527.9 745.13h15.6M512.8 749.35h15.6" stroke="#f4e4aa" stroke-width="2.61" fill="none"/>
<path d="M603.2 570.27h30.6M603.2 574.48h15.6M588.2 582.91h15.6M558.0 597.66h15.6M558.0 601.87h15.6M588.2 603.98h15.6M588.2 616.62h15.6M603.2 641.90h15.6M558.0 646.11h15.6M482.7 660.86h15.6M467.6 665.07h15.6M512.8 707.21h15.6M527.9 711.42h15.6M482.7 719.85h15.6M512.8 726.17h15.6M527.9 730.39h15.6M452.6 734.60h15.6M527.9 734.60h15.6M588.2 736.71h15.6" stroke="#f6b67b" stroke-width="2.61" fill="none"/>
<path d="M467.6 572.37h15.6M497.8 631.36h15.6M467.6 641.90h15.6M543.0 660.86h15.6M558.0 673.50h15.6M573.1 684.04h15.6M543.0 713.53h15.6M618.3 740.92h15.6M543.0 749.35h15.6M603.2 749.35h15.6" stroke="#b8d4e0" stroke-width="2.61" fill="none"/>
<path d="M588.2 572.37h15.6M543.0 574.48h15.6M588.2 585.01h15.6M618.3 587.12h15.6M573.1 595.55h15.6M558.0 599.76h15.6M573.1 601.87h15.6M618.3 608.19h15.6M588.2 612.40h15.6M558.0 627.15h15.6M558.0 633.47h15.6M573.1 637.69h15.6M558.0 639.79h30.6M573.1 648.22h15.6M543.0 652.43h15.6M482.7 662.97h15.6M497.8 667.18h15.6M467.6 669.29h15.6M482.7 688.25h15.6M527.9 703.00h15.6M452.6 713.53h15.6M482.7 736.71h15.6M482.7 747.24h15.6" stroke="#f7c184" stroke-width="2.61" fill="none"/>
<path d="M603.2 572.37h15.6M543.0 576.59h15.6M543.0 582.91h15.6M618.3 616.62h15.6M512.8 688.25h15.6M452.6 709.32h15.6M497.8 724.06h15.6M452.6 745.13h15.6M452.6 747.24h15.6" stroke="#f49461" stroke-width="2.61" fill="none"/>
<path d="M497.8 576.59h15.6M467.6 582.91h15.6M573.1 700.89h15.6M618.3 700.89h15.6M573.1 721.96h15.6M603.2 736.71h15.6" stroke="#97bed7" stroke-width="2.61" fill="none"/>
<path d="M527.9 576.59h15.6M452.6 635.58h15.6M452.6 665.07h15.6M603.2 667.18h15.6" stroke="#8cb5d2" stroke-width="2.61" fill="none"/>
<path d="M558.0 576.59h15.6M543.0 593.44h15.6M588.2 595.55h15.6M558.0 610.30h30.6M618.3 610.30h15.6M543.0 644.01h15.6M618.3 646.11h15.6M497.8 662.97h15.6M482.7 665.07h15.6M467.6 675.61h30.6M512.8 684.04h15.6M482.7 690.36h15.6M512.8 690.36h15.6M527.9 694.57h15.6M467.6 696.68h15.6M618.3 705.10h15.6M497.8 707.21h15.6M482.7 713.53h15.6M467.6 738.81h15.6" stroke="#f7cd8c" stroke-width="2.61" fill="none"/>
<path d="M543.0 578.69h15.6M573.1 627.15h15.6M497.8 677.71h15.6M482.7 694.57h15.6" stroke="#e06145" stroke-width="2.61" fill="none"/>
<path d="M512.8 580.80h15.6M543.0 587.12h15.6M543.0 589.23h15.6M573.1 589.23h15.6M618.3 589.23h15.6M573.1 591.34h15.6M573.1 593.44h30.6M618.3 595.55h15.6M588.2 597.66h30.6M543.0 599.76h15.6M512.8 603.98h15.6M603.2 610.30h15.6M573.1 618.72h15.6M603.2 618.72h15.6M618.3 627.15h15.6M573.1 646.11h15.6M603.2 658.75h15.6M512.8 662.97h30.6M467.6 673.50h15.6M527.9 673.50h15.6M467.6 679.82h15.6M527.9 679.82h15.6M497.8 684.04h15.6M482.7 686.14h15.6M452.6 692.46h15.6M452.6 696.68h15.6M467.6 700.89h15.6M512.8 700.89h15.6M482.7 703.00h15.6M482.7 705.10h15.6M497.8 711.42h15.6M482.7 721.96h15.6M497.8 728.28h15.6M527.9 728.28h15.6M482.7 730.39h15.6M512.8 732.49h15.6M482.7 740.92h30.6" stroke="#f6e1a3" stroke-width="2.61" fill="none"/>
<path d="M452.6 585.01h15.6M573.1 625.04h15.6M497.8 669.29h15.6M497.8 673.50h15.6M527.9 688.25h15.6" stroke="#f08759" stroke-width="2.61" fill="none"/>
<path d="M512.8 585.01h15.6M452.6 587.12h15.6M543.0 591.34h15.6M527.9 595.55h15.6M497.8 599.76h15.6M543.0 612.40h15.6M603.2 614.51h15.6M543.0 616.62h15.6M452.6 622.94h15.6M527.9 625.04h30.6M588.2 625.04h15.6M603.2 627.15h15.6M573.1 629.26h15.6M558.0 631.36h15.6M482.7 633.47h15.6M588.2 635.58h15.6M603.2 637.69h15.6M543.0 639.79h15.6M618.3 639.79h15.6M527.9 646.11h15.6M527.9 648.22h15.6M618.3 654.54h15.6M588.2 656.65h15.6M452.6 660.86h15.6M527.9 660.86h15.6M452.6 662.97h15.6M618.3 665.07h15.6M512.8 671.39h15.6M452.6 681.93h15.6M558.0 681.93h15.6M467.6 692.46h15.6M543.0 694.57h15.6M603.2 705.10h15.6M603.2 709.32h15.6M512.8 713.53h15.6M497.8 715.64h30.6M558.0 724.06h15.6M452.6 730.39h15.6M512.8 730.39h15.6M573.1 730.39h15.6M452.6 732.49h15.6M543.0 738.81h15.6M527.9 743.03h15.6M512.8 745.13h15.6" stroke="#f0eebd" stroke-width="2.61" fill="none"/>
<path d="M573.1 585.01h15.6M558.0 595.55h15.6M618.3 597.66h15.6M618.3 612.40h15.6M573.1 631.36h15.6M558.0 658.75h15.6M482.7 673.50h15.6M482.7 679.82h15.6M452.6 694.57h15.6M527.9 713.53h15.6M467.6 721.96h15.6" stroke="#eb7b52" stroke-width="2.61" fill="none"/>
<path d="M588.2 587.12h15.6M558.0 593.44h15.6M603.2 595.55h15.6M543.0 601.87h15.6M603.2 601.87h15.6M543.0 603.98h15.6M618.3 606.08h15.6M573.1 620.83h15.6M618.3 620.83h15.6M603.2 622.94h15.6M482.7 625.04h15.6M543.0 637.69h15.6M558.0 641.90h30.6M603.2 644.01h15.6M558.0 648.22h15.6M588.2 648.22h15.6M558.0 650.33h15.6M497.8 665.07h15.6M452.6 669.29h15.6M497.8 675.61h15.6M482.7 677.71h15.6M482.7 684.04h15.6M512.8 686.14h15.6M497.8 696.68h15.6M527.9 696.68h15.6M467.6 715.64h15.6M512.8 721.96h15.6M588.2 732.49h15.6M467.6 734.60h15.6M512.8 738.81h30.6M527.9 740.92h15.6M452.6 743.03h15.6M497.8 743.03h15.6M527.9 749.35h15.6" stroke="#f7de9c" stroke-width="2.61" fill="none"/>
<path d="M603.2 591.34h15.6M573.1 603.98h15.6M618.3 603.98h15.6M573.1 606.08h15.6M603.2 648.22h15.6M558.0 652.43h15.6M558.0 656.65h15.6M558.0 660.86h15.6M527.9 667.18h15.6M452.6 705.10h15.6M512.8 705.10h15.6M588.2 734.60h15.6M482.7 749.35h15.6" stroke="#f59f6a" stroke-width="2.61" fill="none"/>
<path d="M588.2 618.72h15.6M452.6 671.39h15.6M482.7 692.46h15.6" stroke="#d54837" stroke-width="2.61" fill="none"/>
<path d="M588.2 620.83h15.6M452.6 738.81h15.6" stroke="#da553e" stroke-width="2.61" fill="none"/>
<path d="M482.7 635.58h15.6M588.2 692.46h15.6" stroke="#81aacc" stroke-width="2.61" fill="none"/>
<path d="M558.0 662.97h15.6" stroke="#a2c6da" stroke-width="2.61" fill="none"/>
<path d="M543.0 721.96h15.6" stroke="#769ec6" stroke-width="2.61" fill="none"/>
<rect x="452.8" y="556.3" width="15.1" height="3.9" fill="#e8888a" stroke="#333" stroke-width="0.7"/>
<rect x="452.8" y="560.3" width="15.1" height="4.2" fill="#64124f" stroke="#333" stroke-width="0.7"/>
<rect x="467.9" y="556.3" width="15.1" height="3.9" fill="#e8888a" stroke="#333" stroke-width="0.7"/>
<rect x="467.9" y="560.3" width="15.1" height="4.2" fill="#8c5a8c" stroke="#333" stroke-width="0.7"/>
<rect x="482.9" y="556.3" width="15.1" height="3.9" fill="#e8888a" stroke="#333" stroke-width="0.7"/>
<rect x="482.9" y="560.3" width="15.1" height="4.2" fill="#64124f" stroke="#333" stroke-width="0.7"/>
<rect x="498" y="556.3" width="15.1" height="3.9" fill="#e8888a" stroke="#333" stroke-width="0.7"/>
<rect x="498" y="560.3" width="15.1" height="4.2" fill="#8c5a8c" stroke="#333" stroke-width="0.7"/>
<rect x="513.1" y="556.3" width="15.1" height="3.9" fill="#e8888a" stroke="#333" stroke-width="0.7"/>
<rect x="513.1" y="560.3" width="15.1" height="4.2" fill="#c993d3" stroke="#333" stroke-width="0.7"/>
<rect x="528.1" y="556.3" width="15.1" height="3.9" fill="#e8888a" stroke="#333" stroke-width="0.7"/>
<rect x="528.1" y="560.3" width="15.1" height="4.2" fill="#c993d3" stroke="#333" stroke-width="0.7"/>
<rect x="543.2" y="556.3" width="15.1" height="3.9" fill="#9c9c3c" stroke="#333" stroke-width="0.7"/>
<rect x="543.2" y="560.3" width="15.1" height="4.2" fill="#c993d3" stroke="#333" stroke-width="0.7"/>
<rect x="558.3" y="556.3" width="15.1" height="3.9" fill="#9c9c3c" stroke="#333" stroke-width="0.7"/>
<rect x="558.3" y="560.3" width="15.1" height="4.2" fill="#c993d3" stroke="#333" stroke-width="0.7"/>
<rect x="573.4" y="556.3" width="15.1" height="3.9" fill="#9c9c3c" stroke="#333" stroke-width="0.7"/>
<rect x="573.4" y="560.3" width="15.1" height="4.2" fill="#64124f" stroke="#333" stroke-width="0.7"/>
<rect x="588.4" y="556.3" width="15.1" height="3.9" fill="#9c9c3c" stroke="#333" stroke-width="0.7"/>
<rect x="588.4" y="560.3" width="15.1" height="4.2" fill="#64124f" stroke="#333" stroke-width="0.7"/>
<rect x="603.5" y="556.3" width="15.1" height="3.9" fill="#9c9c3c" stroke="#333" stroke-width="0.7"/>
<rect x="603.5" y="560.3" width="15.1" height="4.2" fill="#8c5a8c" stroke="#333" stroke-width="0.7"/>
<rect x="618.6" y="556.3" width="15.1" height="3.9" fill="#9c9c3c" stroke="#333" stroke-width="0.7"/>
<rect x="618.6" y="560.3" width="15.1" height="4.2" fill="#8c5a8c" stroke="#333" stroke-width="0.7"/>
<path d="M475.4 556.3V541.9H490.5V556.3" fill="none" stroke="#000" stroke-width="1.0"/>
<path d="M460.3 556.3V541.4H482.9V541.9" fill="none" stroke="#000" stroke-width="1.0"/>
<path d="M520.6 556.3V543.1H535.7V556.3" fill="none" stroke="#000" stroke-width="1.0"/>
<path d="M505.5 556.3V541.5H528.2V543.1" fill="none" stroke="#000" stroke-width="1.0"/>
<path d="M471.6 541.4V537.9H516.8V541.5" fill="none" stroke="#000" stroke-width="1.0"/>
<path d="M550.8 556.3V540.2H565.8V556.3" fill="none" stroke="#000" stroke-width="1.0"/>
<path d="M611 556.3V540.9H626.1V556.3" fill="none" stroke="#000" stroke-width="1.0"/>
<path d="M596 556.3V539.6H618.6V540.9" fill="none" stroke="#000" stroke-width="1.0"/>
<path d="M580.9 556.3V538.4H607.3V539.6" fill="none" stroke="#000" stroke-width="1.0"/>
<path d="M558.3 540.2V536.7H594.1V538.4" fill="none" stroke="#000" stroke-width="1.0"/>
<path d="M494.2 537.9V527.9H576.2V536.7" fill="none" stroke="#000" stroke-width="1.0"/>
<rect x="637.1" y="564.5" width="5.3" height="77.6" fill="url(#gf)"/>
<text x="643.8" y="570" font-size="7.3" fill="#333">3</text>
<text x="643.8" y="581.9" font-size="7.3" fill="#333">2</text>
<text x="643.8" y="593.7" font-size="7.3" fill="#333">1</text>
<text x="643.8" y="605.7" font-size="7.3" fill="#333">0</text>
<text x="643.8" y="618.1" font-size="7.3" fill="#333">−1</text>
<text x="643.8" y="629.8" font-size="7.3" fill="#333">−2</text>
<text x="643.8" y="641.6" font-size="7.3" fill="#333">−3</text>
<rect x="641.3" y="664" width="11.4" height="6" fill="#e8888a" stroke="#222" stroke-width="0.9"/>
<text x="657.5" y="670.3" font-size="9.8" fill="#1a1a1a">Li +</text>
<rect x="641.3" y="679.5" width="11.4" height="6" fill="#9c9c3c" stroke="#222" stroke-width="0.9"/>
<text x="657.5" y="685.8" font-size="9.8" fill="#1a1a1a">Li -</text>
<line x1="88.2" y1="302.2" x2="88.2" y2="487.9" stroke="#ebebeb" stroke-width="0.8"/>
<line x1="121.2" y1="302.2" x2="121.2" y2="487.9" stroke="#ebebeb" stroke-width="0.8"/>
<line x1="154.2" y1="302.2" x2="154.2" y2="487.9" stroke="#ebebeb" stroke-width="0.8"/>
<line x1="187.2" y1="302.2" x2="187.2" y2="487.9" stroke="#ebebeb" stroke-width="0.8"/>
<line x1="104.7" y1="302.2" x2="104.7" y2="487.9" stroke="#e3e3e3" stroke-width="1.3"/>
<line x1="137.7" y1="302.2" x2="137.7" y2="487.9" stroke="#e3e3e3" stroke-width="1.3"/>
<line x1="170.7" y1="302.2" x2="170.7" y2="487.9" stroke="#e3e3e3" stroke-width="1.3"/>
<line x1="203.7" y1="302.2" x2="203.7" y2="487.9" stroke="#e3e3e3" stroke-width="1.3"/>
<line x1="84.6" y1="323.3" x2="205.2" y2="323.3" stroke="#e3e3e3" stroke-width="1.3"/>
<line x1="84.6" y1="359.3" x2="205.2" y2="359.3" stroke="#e3e3e3" stroke-width="1.3"/>
<line x1="84.6" y1="395.3" x2="205.2" y2="395.3" stroke="#e3e3e3" stroke-width="1.3"/>
<line x1="84.6" y1="431.2" x2="205.2" y2="431.2" stroke="#e3e3e3" stroke-width="1.3"/>
<line x1="84.6" y1="467" x2="205.2" y2="467" stroke="#e3e3e3" stroke-width="1.3"/>
<circle cx="188.4" cy="323.3" r="9.2" fill="#d9597a"/>
<circle cx="125.5" cy="359.3" r="6.9" fill="#d4588a"/>
<circle cx="114" cy="395.3" r="6.2" fill="#c4569c"/>
<circle cx="112.3" cy="431.2" r="6.2" fill="#a058a8"/>
<circle cx="101.6" cy="467" r="4.5" fill="#c056a8"/>
<rect x="84.6" y="286.5" width="120.6" height="15.7" fill="#d6d6d6" stroke="#333" stroke-width="0.9"/>
<rect x="84.6" y="302.2" width="120.6" height="185.7" fill="none" stroke="#333" stroke-width="0.9"/>
<text x="144.9" y="299.4" font-size="9.9" text-anchor="middle" fill="#1a1a1a">BD vs. Ctrl</text>
<line x1="82" y1="323.3" x2="84.6" y2="323.3" stroke="#333" stroke-width="0.9"/>
<text x="80.2" y="326.8" font-size="10" text-anchor="end" fill="#1a1a1a">Metabolic</text>
<line x1="82" y1="359.3" x2="84.6" y2="359.3" stroke="#333" stroke-width="0.9"/>
<text x="80.2" y="362.8" font-size="10" text-anchor="end" fill="#1a1a1a">Psych</text>
<line x1="82" y1="395.3" x2="84.6" y2="395.3" stroke="#333" stroke-width="0.9"/>
<text x="80.2" y="398.8" font-size="10" text-anchor="end" fill="#1a1a1a">Developmental</text>
<line x1="82" y1="431.2" x2="84.6" y2="431.2" stroke="#333" stroke-width="0.9"/>
<text x="80.2" y="434.7" font-size="10" text-anchor="end" fill="#1a1a1a">Hematological</text>
<line x1="82" y1="467" x2="84.6" y2="467" stroke="#333" stroke-width="0.9"/>
<text x="80.2" y="470.5" font-size="10" text-anchor="end" fill="#1a1a1a">Reproduction</text>
<line x1="104.7" y1="487.9" x2="104.7" y2="490.3" stroke="#333" stroke-width="0.9"/>
<text x="104.7" y="498.6" font-size="7.4" text-anchor="middle" fill="#333">40</text>
<line x1="137.7" y1="487.9" x2="137.7" y2="490.3" stroke="#333" stroke-width="0.9"/>
<text x="137.7" y="498.6" font-size="7.4" text-anchor="middle" fill="#333">80</text>
<line x1="170.7" y1="487.9" x2="170.7" y2="490.3" stroke="#333" stroke-width="0.9"/>
<text x="170.7" y="498.6" font-size="7.4" text-anchor="middle" fill="#333">120</text>
<line x1="203.7" y1="487.9" x2="203.7" y2="490.3" stroke="#333" stroke-width="0.9"/>
<text x="203.7" y="498.6" font-size="7.4" text-anchor="middle" fill="#333">160</text>
<line x1="315.5" y1="302.2" x2="315.5" y2="487.9" stroke="#ebebeb" stroke-width="0.8"/>
<line x1="346.4" y1="302.2" x2="346.4" y2="487.9" stroke="#ebebeb" stroke-width="0.8"/>
<line x1="378.3" y1="302.2" x2="378.3" y2="487.9" stroke="#ebebeb" stroke-width="0.8"/>
<line x1="299.5" y1="302.2" x2="299.5" y2="487.9" stroke="#e3e3e3" stroke-width="1.3"/>
<line x1="330.9" y1="302.2" x2="330.9" y2="487.9" stroke="#e3e3e3" stroke-width="1.3"/>
<line x1="362.5" y1="302.2" x2="362.5" y2="487.9" stroke="#e3e3e3" stroke-width="1.3"/>
<line x1="394.4" y1="302.2" x2="394.4" y2="487.9" stroke="#e3e3e3" stroke-width="1.3"/>
<line x1="283.6" y1="323.3" x2="404.7" y2="323.3" stroke="#e3e3e3" stroke-width="1.3"/>
<line x1="283.6" y1="359.3" x2="404.7" y2="359.3" stroke="#e3e3e3" stroke-width="1.3"/>
<line x1="283.6" y1="395.3" x2="404.7" y2="395.3" stroke="#e3e3e3" stroke-width="1.3"/>
<line x1="283.6" y1="431.2" x2="404.7" y2="431.2" stroke="#e3e3e3" stroke-width="1.3"/>
<line x1="283.6" y1="467" x2="404.7" y2="467" stroke="#e3e3e3" stroke-width="1.3"/>
<circle cx="387.3" cy="323.3" r="10.2" fill="#ee5e40"/>
<circle cx="338.4" cy="359.3" r="8.4" fill="#d95a7a"/>
<circle cx="314.5" cy="395.3" r="7.5" fill="#ee5f5a"/>
<circle cx="310.6" cy="431.2" r="7.0" fill="#d95a7a"/>
<circle cx="300.6" cy="467" r="6.3" fill="#ef6040"/>
<rect x="283.6" y="286.5" width="121.1" height="15.7" fill="#d6d6d6" stroke="#333" stroke-width="0.9"/>
<rect x="283.6" y="302.2" width="121.1" height="185.7" fill="none" stroke="#333" stroke-width="0.9"/>
<text x="344.1" y="299.4" font-size="9.9" text-anchor="middle" fill="#1a1a1a">Li-R vs. Ctrl</text>
<line x1="281" y1="323.3" x2="283.6" y2="323.3" stroke="#333" stroke-width="0.9"/>
<text x="279.2" y="326.8" font-size="10" text-anchor="end" fill="#1a1a1a">Metabolic</text>
<line x1="281" y1="359.3" x2="283.6" y2="359.3" stroke="#333" stroke-width="0.9"/>
<text x="279.2" y="362.8" font-size="10" text-anchor="end" fill="#1a1a1a">Neurological</text>
<line x1="281" y1="395.3" x2="283.6" y2="395.3" stroke="#333" stroke-width="0.9"/>
<text x="279.2" y="398.8" font-size="10" text-anchor="end" fill="#1a1a1a">Unknown</text>
<line x1="281" y1="431.2" x2="283.6" y2="431.2" stroke="#333" stroke-width="0.9"/>
<text x="279.2" y="434.7" font-size="10" text-anchor="end" fill="#1a1a1a">Developmental</text>
<line x1="281" y1="467" x2="283.6" y2="467" stroke="#333" stroke-width="0.9"/>
<text x="279.2" y="470.5" font-size="10" text-anchor="end" fill="#1a1a1a">Reproduction</text>
<line x1="299.5" y1="487.9" x2="299.5" y2="490.3" stroke="#333" stroke-width="0.9"/>
<text x="299.5" y="498.6" font-size="7.4" text-anchor="middle" fill="#333">50</text>
<line x1="330.9" y1="487.9" x2="330.9" y2="490.3" stroke="#333" stroke-width="0.9"/>
<text x="330.9" y="498.6" font-size="7.4" text-anchor="middle" fill="#333">100</text>
<line x1="362.5" y1="487.9" x2="362.5" y2="490.3" stroke="#333" stroke-width="0.9"/>
<text x="362.5" y="498.6" font-size="7.4" text-anchor="middle" fill="#333">150</text>
<line x1="383.4" y1="487.9" x2="383.4" y2="490.3" stroke="#333" stroke-width="0.9"/>
<text x="383.4" y="498.6" font-size="7.4" text-anchor="middle" fill="#333">200</text>
<line x1="501.8" y1="302.2" x2="501.8" y2="487.9" stroke="#ebebeb" stroke-width="0.8"/>
<line x1="526.5" y1="302.2" x2="526.5" y2="487.9" stroke="#ebebeb" stroke-width="0.8"/>
<line x1="551.1" y1="302.2" x2="551.1" y2="487.9" stroke="#ebebeb" stroke-width="0.8"/>
<line x1="575.9" y1="302.2" x2="575.9" y2="487.9" stroke="#ebebeb" stroke-width="0.8"/>
<line x1="600.5" y1="302.2" x2="600.5" y2="487.9" stroke="#ebebeb" stroke-width="0.8"/>
<line x1="489.4" y1="302.2" x2="489.4" y2="487.9" stroke="#e3e3e3" stroke-width="1.3"/>
<line x1="514.1" y1="302.2" x2="514.1" y2="487.9" stroke="#e3e3e3" stroke-width="1.3"/>
<line x1="538.8" y1="302.2" x2="538.8" y2="487.9" stroke="#e3e3e3" stroke-width="1.3"/>
<line x1="563.5" y1="302.2" x2="563.5" y2="487.9" stroke="#e3e3e3" stroke-width="1.3"/>
<line x1="588.2" y1="302.2" x2="588.2" y2="487.9" stroke="#e3e3e3" stroke-width="1.3"/>
<line x1="487.9" y1="323.3" x2="607.8" y2="323.3" stroke="#e3e3e3" stroke-width="1.3"/>
<line x1="487.9" y1="359.3" x2="607.8" y2="359.3" stroke="#e3e3e3" stroke-width="1.3"/>
<line x1="487.9" y1="395.3" x2="607.8" y2="395.3" stroke="#e3e3e3" stroke-width="1.3"/>
<line x1="487.9" y1="431.2" x2="607.8" y2="431.2" stroke="#e3e3e3" stroke-width="1.3"/>
<line x1="487.9" y1="467" x2="607.8" y2="467" stroke="#e3e3e3" stroke-width="1.3"/>
<circle cx="590.8" cy="323.3" r="8.9" fill="#9e4aa8"/>
<circle cx="574.3" cy="359.3" r="8.5" fill="#a84aa8"/>
<circle cx="524.9" cy="395.3" r="7.0" fill="#b44ea8"/>
<circle cx="513" cy="431.2" r="6.3" fill="#a852a8"/>
<circle cx="504.3" cy="467" r="5.3" fill="#4a68b8"/>
<rect x="487.9" y="286.5" width="119.9" height="15.7" fill="#d6d6d6" stroke="#333" stroke-width="0.9"/>
<rect x="487.9" y="302.2" width="119.9" height="185.7" fill="none" stroke="#333" stroke-width="0.9"/>
<text x="547.8" y="299.4" font-size="9.9" text-anchor="middle" fill="#1a1a1a">Li-NR vs. Ctrl</text>
<line x1="485.3" y1="323.3" x2="487.9" y2="323.3" stroke="#333" stroke-width="0.9"/>
<text x="483.5" y="326.8" font-size="10" text-anchor="end" fill="#1a1a1a">Metabollic</text>
<line x1="485.3" y1="359.3" x2="487.9" y2="359.3" stroke="#333" stroke-width="0.9"/>
<text x="483.5" y="362.8" font-size="10" text-anchor="end" fill="#1a1a1a">Cardiovascular</text>
<line x1="485.3" y1="395.3" x2="487.9" y2="395.3" stroke="#333" stroke-width="0.9"/>
<text x="483.5" y="398.8" font-size="10" text-anchor="end" fill="#1a1a1a">Psych</text>
<line x1="485.3" y1="431.2" x2="487.9" y2="431.2" stroke="#333" stroke-width="0.9"/>
<text x="483.5" y="434.7" font-size="10" text-anchor="end" fill="#1a1a1a">Hematological</text>
<line x1="485.3" y1="467" x2="487.9" y2="467" stroke="#333" stroke-width="0.9"/>
<text x="483.5" y="470.5" font-size="10" text-anchor="end" fill="#1a1a1a">Developmental</text>
<line x1="489.4" y1="487.9" x2="489.4" y2="490.3" stroke="#333" stroke-width="0.9"/>
<text x="489.4" y="498.6" font-size="7.4" text-anchor="middle" fill="#333">25</text>
<line x1="514.1" y1="487.9" x2="514.1" y2="490.3" stroke="#333" stroke-width="0.9"/>
<text x="514.1" y="498.6" font-size="7.4" text-anchor="middle" fill="#333">50</text>
<line x1="538.8" y1="487.9" x2="538.8" y2="490.3" stroke="#333" stroke-width="0.9"/>
<text x="538.8" y="498.6" font-size="7.4" text-anchor="middle" fill="#333">75</text>
<line x1="563.5" y1="487.9" x2="563.5" y2="490.3" stroke="#333" stroke-width="0.9"/>
<text x="563.5" y="498.6" font-size="7.4" text-anchor="middle" fill="#333">100</text>
<line x1="588.2" y1="487.9" x2="588.2" y2="490.3" stroke="#333" stroke-width="0.9"/>
<text x="588.2" y="498.6" font-size="7.4" text-anchor="middle" fill="#333">125</text>
<text x="347.7" y="512" font-size="10.0" text-anchor="middle" fill="#1a1a1a">Count</text>
<text x="39.7" y="276.4" font-size="10.1" font-weight="bold" fill="#1a1a1a">GAD disease class</text>
<text x="623" y="313.4" font-size="9.3" fill="#1a1a1a">−log10(FDR)</text>
<defs><linearGradient id="gfdr" x1="0" x2="0" y1="0" y2="1"><stop offset="0" stop-color="#ee2a2a"/><stop offset="0.3" stop-color="#d41f6e"/><stop offset="0.55" stop-color="#a83a9e"/><stop offset="0.8" stop-color="#6b44a6"/><stop offset="1" stop-color="#3a5cb0"/></linearGradient></defs>
<rect x="623.3" y="317" width="13.1" height="63.6" fill="url(#gfdr)"/>
<line x1="623.3" y1="328.3" x2="626" y2="328.3" stroke="#fff" stroke-width="0.8"/>
<line x1="633.7" y1="328.3" x2="636.4" y2="328.3" stroke="#fff" stroke-width="0.8"/>
<text x="640" y="331" font-size="7.4" fill="#333">5</text>
<line x1="623.3" y1="342.5" x2="626" y2="342.5" stroke="#fff" stroke-width="0.8"/>
<line x1="633.7" y1="342.5" x2="636.4" y2="342.5" stroke="#fff" stroke-width="0.8"/>
<text x="640" y="345.2" font-size="7.4" fill="#333">4</text>
<line x1="623.3" y1="356.7" x2="626" y2="356.7" stroke="#fff" stroke-width="0.8"/>
<line x1="633.7" y1="356.7" x2="636.4" y2="356.7" stroke="#fff" stroke-width="0.8"/>
<text x="640" y="359.4" font-size="7.4" fill="#333">3</text>
<line x1="623.3" y1="371.1" x2="626" y2="371.1" stroke="#fff" stroke-width="0.8"/>
<line x1="633.7" y1="371.1" x2="636.4" y2="371.1" stroke="#fff" stroke-width="0.8"/>
<text x="640" y="373.8" font-size="7.4" fill="#333">2</text>
<text x="623" y="405.2" font-size="9.3" fill="#1a1a1a">Gene Count</text>
<circle cx="634.9" cy="415.3" r="5.7" fill="#262626"/>
<text x="649.5" y="418" font-size="7.4" fill="#333">40</text>
<circle cx="634.9" cy="431.1" r="7.8" fill="#262626"/>
<text x="649.5" y="433.8" font-size="7.4" fill="#333">80</text>
<circle cx="634.9" cy="450.8" r="9.1" fill="#262626"/>
<text x="649.5" y="453.5" font-size="7.4" fill="#333">120</text>
<circle cx="634.9" cy="473.5" r="10.0" fill="#262626"/>
<text x="649.5" y="476.2" font-size="7.4" fill="#333">160</text>
<text x="0" y="10.2" font-size="13.3" font-weight="bold" fill="#1a1a1a">a</text>
<text x="506.5" y="10.6" font-size="13.3" font-weight="bold" fill="#1a1a1a">b</text>
<text x="-0.4" y="273.9" font-size="13.3" font-weight="bold" fill="#1a1a1a">c</text>
<text x="-0.3" y="546" font-size="13.3" font-weight="bold" fill="#1a1a1a">d</text>
<text x="228.3" y="542" font-size="13.3" font-weight="bold" fill="#1a1a1a">e</text>
<text x="434" y="541.9" font-size="13.3" font-weight="bold" fill="#1a1a1a">f</text>
<path d="M18.2 622.1H97.9L112.1 638.2L97.9 653.8H18.2L31 638.2Z" fill="#f8dcd0"/>
<path d="M97.9 622.1H191L206.4 638.2L191 653.8H97.9L112.1 638.2Z" fill="#eba486"/>
<text x="63.7" y="641.8" font-size="9.7" text-anchor="middle" font-weight="bold" fill="#2e2622">NPCs</text>
<text x="151.3" y="635.5" font-size="10" text-anchor="middle" font-weight="bold" fill="#2e2622">Lithium treated</text>
<text x="152.3" y="648.4" font-size="10" text-anchor="middle" font-weight="bold" fill="#2e2622">iAstrocytes</text>
<path d="M20.5 659.7H203.4V709.7H103V693.4H20.5Z M20.5 676.6H203.4 M20.5 693.4H203.4 M103 659.7V709.7" fill="none" stroke="#111" stroke-width="1.3"/>
<text x="62.1" y="672.1" font-size="9.9" text-anchor="middle" fill="#1a1a1a">NPC Media</text>
<text x="61.4" y="688.9" font-size="9.9" text-anchor="middle" fill="#1a1a1a">+bFGF</text>
<text x="153.2" y="672.1" font-size="9.9" text-anchor="middle" fill="#1a1a1a">Astrocyte Media</text>
<text x="153.5" y="688.9" font-size="9.9" text-anchor="middle" fill="#1a1a1a">+NFIB induction</text>
<text x="153.5" y="705.8" font-size="9.9" text-anchor="middle" fill="#1a1a1a">+LiCl 1mM Daily</text>
<path d="M68.5 571.4Q71.7 578.3 81.4 579.5Q76.1 571.3 68.5 571.4ZM48.8 586.7Q56.5 589.2 64.1 582.3Q54.0 580.4 48.8 586.7ZM58.5 588.3Q67.7 590.1 76.9 582.3Q64.8 581.4 58.5 588.3ZM44.0 588.3Q48.3 595.7 59.3 596.3Q52.6 587.6 44.0 588.3ZM51.2 588.3Q57.7 594.3 68.9 591.9Q59.6 585.3 51.2 588.3ZM67.3 593.1Q75.7 594.2 82.6 585.9Q71.7 585.9 67.3 593.1ZM88.2 583.5Q83.0 588.6 84.2 597.9Q90.1 590.5 88.2 583.5ZM43.2 591.5Q45.0 599.2 54.5 602.8Q50.9 593.3 43.2 591.5ZM55.3 602.8Q65.4 602.0 73.7 591.5Q60.6 594.1 55.3 602.8ZM68.1 600.3Q75.4 599.9 79.4 591.5Q70.3 593.4 68.1 600.3ZM65.7 603.6Q74.3 606.7 84.2 600.3Q72.7 597.7 65.7 603.6ZM52.0 605.2Q57.5 612.2 68.9 611.6Q60.8 603.6 52.0 605.2ZM61.7 604.4Q67.4 610.4 77.8 608.0Q69.4 601.4 61.7 604.4ZM77.8 610.0Q82.7 613.3 89.0 609.2Q82.2 606.0 77.8 610.0Z" fill="#efcbb6" fill-opacity="0.9"/><path d="M65.3 569.4L68.5 571.4M81.4 579.5L83.9 581.1M45.0 587.8L48.8 586.7M64.1 582.3L67.1 581.4M53.9 589.8L58.5 588.3M76.9 582.3L80.6 581.1M40.2 586.3L44.0 588.3M59.3 596.3L62.3 597.9M46.8 587.4L51.2 588.3M68.9 591.9L72.4 592.6M63.5 594.9L67.3 593.1M82.6 585.9L85.6 584.4M89.2 579.9L88.2 583.5M84.2 597.9L83.4 600.8M40.4 588.7L43.2 591.5M54.5 602.8L56.7 605.0M50.6 605.6L55.3 602.8M73.7 591.5L77.4 589.3M65.3 602.6L68.1 600.3M79.4 591.5L81.6 589.7M61.1 604.4L65.7 603.6M84.2 600.3L87.9 599.7M47.8 603.6L52.0 605.2M68.9 611.6L72.3 612.9M57.7 603.5L61.7 604.4M77.8 608.0L81.0 608.7M74.9 610.2L77.8 610.0M89.0 609.2L91.2 609.0" stroke="#efcbb6" stroke-width="0.7" fill="none"/>
<circle cx="74.2" cy="575.0" r="1.6" fill="#e9b89c"/>
<circle cx="55.6" cy="584.7" r="1.6" fill="#e9b89c"/>
<circle cx="66.6" cy="585.6" r="1.6" fill="#e9b89c"/>
<circle cx="50.7" cy="591.8" r="1.6" fill="#e9b89c"/>
<circle cx="59.0" cy="589.9" r="1.6" fill="#e9b89c"/>
<circle cx="74.0" cy="589.9" r="1.6" fill="#e9b89c"/>
<circle cx="86.4" cy="589.8" r="1.6" fill="#e9b89c"/>
<circle cx="48.2" cy="596.5" r="1.6" fill="#e9b89c"/>
<circle cx="63.4" cy="597.8" r="1.6" fill="#e9b89c"/>
<circle cx="73.1" cy="596.5" r="1.6" fill="#e9b89c"/>
<circle cx="73.8" cy="602.1" r="1.6" fill="#e9b89c"/>
<circle cx="59.5" cy="608.0" r="1.6" fill="#e9b89c"/>
<circle cx="68.8" cy="605.9" r="1.6" fill="#e9b89c"/>
<circle cx="82.7" cy="609.6" r="1.6" fill="#e9b89c"/>
<path d="M150.6 589.6L146.0 583.5L144.0 577.9L144.5 573.3M154.2 589.1L156.3 582.0L162.9 578.9L168.0 574.3L167.0 572.3M156.8 592.7L166.0 590.6L175.2 590.6M153.7 595.8L157.8 600.9L160.9 608.0L164.4 616.7M149.6 593.7L140.4 594.7L132.3 592.7" fill="none" stroke="#d68a3c" stroke-width="1.25" stroke-linecap="round" stroke-linejoin="round"/>
<path d="M146.0 583.5L137.4 581.5M144.0 577.9L138.4 575.3M160.9 579.9L166.0 584.5M166.0 591.2L171.1 593.7M158.8 602.9L170.1 603.4M161.9 604.9L167.0 609.0M140.4 594.7L133.3 598.0M144.5 595.2L136.3 603.4" fill="none" stroke="#d68a3c" stroke-width="0.85" stroke-linecap="round"/>
<path d="M150.6 589.6L146.0 583.5M154.2 589.1L156.3 582.0M156.8 592.7L166.0 590.6M153.7 595.8L157.8 600.9M149.6 593.7L140.4 594.7" fill="none" stroke="#d68a3c" stroke-width="2.6" stroke-linecap="round"/>
<path d="M147.6 592.6Q148.4 587 153.2 587.3Q158.4 588 158 592.9Q157.6 598 152.6 598Q147.4 597.8 147.6 592.6Z" fill="#d68a3c"/>
<circle cx="175.2" cy="590.8" r="1.3" fill="#d68a3c"/>
<circle cx="171.1" cy="593.9" r="1.1" fill="#d68a3c"/>
<circle cx="164.7" cy="617.0" r="1.1" fill="#d68a3c"/>
<circle cx="167.2" cy="609.2" r="0.9" fill="#d68a3c"/>
<ellipse cx="152.9" cy="592.9" rx="2.4" ry="1.7" fill="#8a3f1a"/>
</svg></body></html>
